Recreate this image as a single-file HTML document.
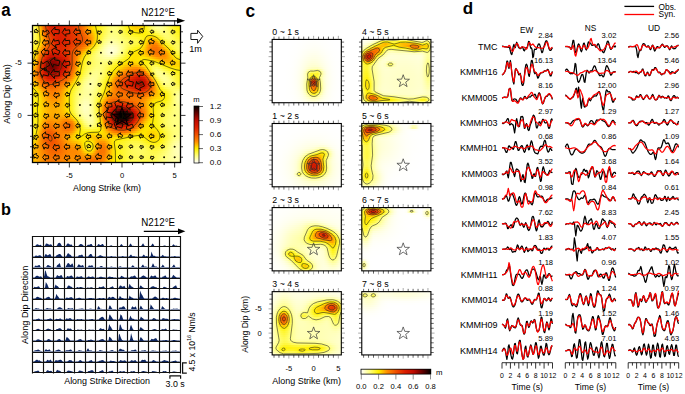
<!DOCTYPE html><html><head><meta charset="utf-8"><style>
html,body{margin:0;padding:0;background:#fff;width:685px;height:394px;overflow:hidden}
#r{position:relative;width:685px;height:394px;overflow:hidden}
#r i{position:absolute;display:block}
svg{position:absolute;left:0;top:0}
text{font-family:"Liberation Sans", sans-serif}
</style></head><body><div id="r">
<i style="left:32px;top:25px;width:149px;height:2px;background:linear-gradient(90deg,#ffff8c,#fff848,#ffbd00,#f46100,#e33000,#db1d00,#db1d00,#de2300,#e02900,#e33000,#e73900,#ec4700,#f45f00,#fc8000,#ffb100,#ffdb00,#fff107,#fff424,#fff848,#fffd6c,#ffff7f,#fffe77,#fffb5b,#fff630,#fff000,#ffd300,#ffc700,#ffd100,#fff003,#fff843,#ffff7f,#ffff9c,#ff9,#ffff7f,#fffa58,#fff52f,#fff20f,#fff002)"></i><i style="left:32px;top:27px;width:149px;height:2px;background:linear-gradient(90deg,#ffff8b,#fff949,#ffc000,#f56300,#e43200,#dc1e00,#db1e00,#de2200,#e02800,#e32f00,#e73900,#ec4600,#f35d00,#fc7e00,#ffad00,#ffd800,#fff105,#fff424,#fff949,#fffd6c,#ffff7f,#fffe77,#fffb5c,#fff632,#fff004,#ffd700,#fc0,#ffd400,#fff004,#fff840,#fffe79,#ffff97,#ffff97,#ffff80,#fffb5b,#fff631,#fff210,#fff003)"></i><i style="left:32px;top:29px;width:149px;height:2px;background:linear-gradient(90deg,#ffff89,#fff94b,#ffc500,#f66900,#e63700,#dd2100,#db1e00,#dd2100,#e02700,#e22e00,#e63700,#eb4400,#f25900,#fa7800,#ffa200,#ffcf00,#fff000,#fff424,#fff94c,#fffd6f,#ffff80,#fffe78,#fffb5e,#fff738,#fff20f,#ffe200,#ffd700,#fd0,#fff106,#fff636,#fffc66,#ffff85,#ffff8e,#ffff80,#fffb5f,#fff637,#fff315,#fff108)"></i><i style="left:32px;top:31px;width:149px;height:2px;background:linear-gradient(90deg,#ffff86,#fff94c,#ffcd00,#f87200,#e93e00,#df2600,#dc1e00,#dc1f00,#df2500,#e22d00,#e53600,#ea4100,#f15300,#f87100,#ff9400,#ffc400,#ffeb00,#fff426,#fff951,#fffd73,#ffff82,#fffe7a,#fffb62,#fff840,#fff31e,#fff002,#ffe800,#ffe900,#fff109,#fff426,#fff849,#fffc69,#ffff7e,#ffff7e,#fffc65,#fff73f,#fff31d,#fff20e)"></i><i style="left:32px;top:33px;width:149px;height:2px;background:linear-gradient(90deg,#ffff82,#fff94e,#ffd600,#fb7b00,#ec4700,#e12b00,#dc1f00,#dc1e00,#de2300,#e12b00,#e53400,#e93f00,#ef4e00,#f66800,#fe8700,#ffb800,#ffe700,#fff52a,#fffa58,#fffe78,#ffff86,#ffff7e,#fffc67,#fff94b,#fff62f,#fff319,#fff20d,#fff109,#fff10b,#fff212,#fff424,#fff845,#fffc69,#fffe7a,#fffc6a,#fff848,#fff527,#fff317)"></i><i style="left:32px;top:35px;width:149px;height:2px;background:linear-gradient(90deg,#ffff7c,#fff94e,#ffde00,#fd8400,#f04f00,#e33100,#dd2000,#db1d00,#dd2100,#e12a00,#e43300,#e83c00,#ee4a00,#f46100,#fc7f00,#ffad00,#ffe300,#fff52f,#fffb60,#ffff80,#ffff8b,#ffff83,#fffd6e,#fffa56,#fff841,#fff630,#fff424,#fff31a,#fff10b,#ffec00,#ffed00,#fff31d,#fff94f,#fffd71,#fffd6d,#fff951,#fff631,#fff422)"></i><i style="left:32px;top:37px;width:149px;height:2px;background:linear-gradient(90deg,#fffe75,#fff94c,#ffe400,#ff8c00,#f25800,#e53600,#dd2100,#da1d00,#dd2000,#e12a00,#e43300,#e83b00,#ed4800,#f35c00,#fa7900,#ffa600,#ffe300,#fff636,#fffc6a,#ffff89,#ffff93,#ffff89,#fffe76,#fffb61,#fff950,#fff843,#fff738,#fff528,#fff109,#ffd900,#fc0,#ffe500,#fff631,#fffc63,#fffd6c,#fffa58,#fff73c,#fff52d)"></i><i style="left:32px;top:39px;width:149px;height:2px;background:linear-gradient(90deg,#fffd6d,#fff848,#ffe700,#ff9400,#f45f00,#e73a00,#de2300,#da1d00,#dd2000,#e12a00,#e53300,#e83c00,#ed4800,#f35b00,#fa7700,#ffa500,#ffe600,#fff740,#fffe76,#ffff95,#ffff9c,#ffff92,#ffff7e,#fffd6b,#fffb5c,#fff951,#fff846,#fff630,#fff004,#ffc600,#ffac00,#ffc300,#fff20f,#fff94f,#fffc65,#fffb5b,#fff846,#fff73a)"></i><i style="left:32px;top:41px;width:149px;height:2px;background:linear-gradient(90deg,#fffc63,#fff841,#ffe500,#ff9600,#f46200,#e83c00,#df2500,#db1d00,#dd2100,#e22c00,#e63600,#e93f00,#ee4b00,#f45f00,#fb7b00,#ffac00,#ffef00,#fff94c,#ffff84,#ffffa1,#ffffa8,#ffff9c,#ffff87,#fffd73,#fffc62,#fffa56,#fff949,#fff630,#ffec00,#ffb300,#ff9000,#ffa400,#ffdf00,#fff634,#fffa57,#fffb5a,#fff94f,#fff846)"></i><i style="left:32px;top:43px;width:149px;height:2px;background:linear-gradient(90deg,#fffa58,#fff636,#ffde00,#ff9000,#f45f00,#e83c00,#e02700,#dc1f00,#de2400,#e32f00,#e73a00,#eb4500,#f15200,#f66800,#fd8500,#ffbc00,#fff210,#fffb5b,#ffff92,#ffffb0,#ffffb6,#ffffa9,#ffff91,#fffe77,#fffb60,#fff94f,#fff841,#fff527,#ffe200,#ffa300,#fc8100,#fe8900,#ffc100,#fff212,#fff841,#fffa54,#fffa56,#fffa52)"></i><i style="left:32px;top:45px;width:149px;height:2px;background:linear-gradient(90deg,#fff94d,#fff529,#ffd100,#fe8600,#f25900,#e73a00,#e02800,#de2300,#e02800,#e53300,#e94000,#ef4d00,#f45f00,#fa7700,#ff9a00,#ffd300,#fff527,#fffd6c,#ffffa0,#ffffbe,#ffffc5,#ffffb6,#ff9,#fffe78,#fffa58,#fff840,#fff630,#fff317,#ffd600,#ff9700,#fa7700,#fb7c00,#ffa400,#ffe000,#fff425,#fff848,#fffa59,#fffb5c)"></i><i style="left:32px;top:47px;width:149px;height:2px;background:linear-gradient(90deg,#fff842,#fff319,#ffc000,#fb7a00,#ef4e00,#e53500,#e02800,#df2600,#e22c00,#e63800,#ec4600,#f25700,#f76e00,#fe8900,#ffb900,#fe0,#fff840,#ffff7c,#ffffac,#ffffca,#ffffd1,#ffffc0,#ffff9e,#fffe74,#fff94b,#fff52c,#fff31a,#fff004,#ffcb00,#ff8f00,#f97300,#f97300,#ff8b00,#ffc200,#fff106,#fff738,#fffa58,#fffb62)"></i><i style="left:32px;top:49px;width:149px;height:2px;background:linear-gradient(90deg,#fff636,#fff109,#ffad00,#f76c00,#ea4200,#e22c00,#df2500,#df2600,#e22e00,#e73b00,#ee4b00,#f56200,#fb7d00,#ffa500,#ffd800,#fff41f,#fffa58,#ffff8a,#ffffb5,#ffffd1,#ffffd7,#ffffc4,#ffff9e,#fffd6d,#fff73c,#fff317,#fff105,#ffe500,#ffc300,#ff8e00,#f97300,#f86e00,#fc8000,#ffa800,#fd0,#fff426,#fffa52,#fffb62)"></i><i style="left:32px;top:51px;width:149px;height:2px;background:linear-gradient(90deg,#fff52c,#ffeb00,#ff9800,#f35b00,#e43300,#dd2100,#dc1e00,#de2300,#e22d00,#e83c00,#f05000,#f76d00,#ff8d00,#ffc200,#fff105,#fff73d,#fffd6b,#ffff94,#ffffb8,#ffffd2,#ffffd6,#ffffc0,#ffff97,#fffc62,#fff52d,#fff105,#ffe700,#ffdc00,#ffc200,#ff9500,#fa7900,#f87000,#fb7a00,#ff9500,#ffc900,#fff212,#fff846,#fffb5a)"></i><i style="left:32px;top:53px;width:149px;height:2px;background:linear-gradient(90deg,#fff424,#ffdf00,#fe8700,#ee4a00,#de2200,#d41900,#d51900,#db1d00,#e02800,#e73a00,#f15300,#f97500,#ffa200,#ffd900,#fff420,#fff951,#fffe77,#ffff97,#ffffb5,#ffffc9,#ffffca,#ffffb2,#ff8,#fffa53,#fff41e,#ffeb00,#ffe100,#ffdb00,#ffc900,#ffa500,#fd8500,#fa7900,#fb7c00,#ff8c00,#ffba00,#fe0,#fff634,#fff949)"></i><i style="left:32px;top:55px;width:149px;height:2px;background:linear-gradient(90deg,#fff31c,#ffd400,#fb7a00,#e73b00,#d31800,#ca1200,#cc1300,#d41800,#dd2000,#e53500,#f15300,#fb7c00,#ffb400,#ffeb00,#fff632,#fffb5c,#fffe7c,#ffff95,#ffffab,#ffffb9,#ffffb5,#ffff9b,#fffd71,#fff740,#fff212,#ffe600,#ffe100,#ffe100,#ffd600,#ffbc00,#ff9d00,#fe8800,#fd8400,#ff8d00,#ffb100,#ffdf00,#fff31c,#fff630)"></i><i style="left:32px;top:57px;width:149px;height:2px;background:linear-gradient(90deg,#fff215,#ffca00,#f86f00,#e22c00,#c91100,#bf0a00,#c20d00,#cb1300,#d71b00,#e33000,#f15300,#fc8200,#ffc100,#fff10a,#fff73c,#fffb61,#fffe7b,#ffff8f,#ffff9e,#ffffa3,#ff9,#ffff7d,#fffa55,#fff52a,#fff105,#ffe300,#ffe200,#ffe800,#ffe600,#ffd600,#ffbf00,#ffa600,#ff9600,#ff9700,#ffaf00,#ffd300,#fff003,#fff215)"></i><i style="left:32px;top:59px;width:149px;height:2px;background:linear-gradient(90deg,#fff20d,#ffc000,#f56400,#dc1f00,#bf0a00,#a10700,#ad0800,#c30e00,#d11700,#e12b00,#f15300,#fd8600,#fc0,#fff315,#fff842,#fffb62,#fffe79,#ff8,#ffff8f,#ffff8c,#fffe7b,#fffb5c,#fff637,#fff214,#ffe900,#ffdf00,#ffe200,#ffec00,#fff004,#fff000,#ffe200,#ffcb00,#ffb300,#ffa800,#ffb300,#ffca00,#ffe200,#ffec00)"></i><i style="left:32px;top:61px;width:149px;height:2px;background:linear-gradient(90deg,#fff004,#ffb500,#f35a00,#d61a00,#a70700,#870400,#950500,#ba0a00,#cd1400,#e02700,#f15300,#fe8a00,#ffd500,#fff41e,#fff846,#fffb62,#fffe77,#ffff82,#ffff82,#fffe75,#fffb5d,#fff73d,#fff31b,#ffed00,#fd0,#ffd600,#ffdc00,#ffea00,#fff10c,#fff319,#fff318,#ffef00,#ffd300,#ffbe00,#ffbd00,#ffc800,#ffd600,#fd0)"></i><i style="left:32px;top:63px;width:149px;height:2px;background:linear-gradient(90deg,#ffea00,#ffab00,#f15200,#d11600,#960600,#760200,#860400,#ae0800,#ca1200,#df2600,#f15400,#ff8d00,#ffdb00,#fff425,#fff94a,#fffc64,#fffe77,#ffff7f,#fffe77,#fffb61,#fff843,#fff422,#fff001,#ffdc00,#ffcd00,#ffc700,#fc0,#ffdc00,#fff105,#fff528,#fff73a,#fff52b,#fff105,#ffd800,#fc0,#ffcd00,#ffd300,#ffd700)"></i><i style="left:32px;top:65px;width:149px;height:2px;background:linear-gradient(90deg,#ffdf00,#ffa000,#ef4c00,#ce1400,#8e0500,#6f0100,#810300,#ac0800,#cb1300,#e02800,#f25700,#ff9300,#ffe100,#fff52b,#fff94f,#fffc69,#fffe7b,#ffff7f,#fffd6f,#fffa52,#fff52f,#fff10c,#ffe100,#ffca00,#ffb900,#ffb000,#ffb100,#ffc000,#ffe200,#fff528,#fffa52,#fffa51,#fff52e,#fff105,#ffe100,#ffd900,#ffd800,#ffd900)"></i><i style="left:32px;top:67px;width:149px;height:2px;background:linear-gradient(90deg,#ffd300,#ff9600,#ed4900,#cd1400,#8f0500,#720200,#860400,#b40900,#ce1400,#e22d00,#f35d00,#ff9a00,#ffe600,#fff631,#fffa57,#fffd70,#ffff81,#ffff81,#fffc6b,#fff846,#fff31e,#ffeb00,#ffd100,#ffb800,#ffa200,#ff9200,#ff8d00,#ff9a00,#ffc500,#fff31a,#fffb5f,#fffd6f,#fffa53,#fff529,#fff10a,#ffea00,#ffe300,#ffe200)"></i><i style="left:32px;top:69px;width:149px;height:2px;background:linear-gradient(90deg,#ffc900,#ff8e00,#ed4800,#ce1500,#970600,#7f0300,#950500,#c00b00,#d31800,#e53500,#f56400,#ffa200,#ffec00,#fff739,#fffb5f,#fffe79,#ffff87,#ffff83,#fffc67,#fff73c,#fff20f,#fd0,#ffc100,#ffa400,#fe8900,#fb7b00,#f97300,#fa7900,#ff9e00,#ffef00,#fffb5e,#ffff83,#fffd72,#fff94b,#fff529,#fff210,#fff001,#fe0)"></i><i style="left:32px;top:71px;width:149px;height:2px;background:linear-gradient(90deg,#ffc000,#ff8a00,#ed4900,#d11700,#a80800,#940500,#ac0800,#c71000,#da1d00,#e93f00,#f76d00,#ffac00,#fff003,#fff842,#fffc6a,#ffff83,#ffff8d,#ffff84,#fffc62,#fff632,#fff000,#ffce00,#ffad00,#ff8c00,#fa7700,#f56400,#f25600,#f25a00,#fb7a00,#ffd000,#fff94f,#ffff8a,#ff8,#fffc69,#fff847,#fff529,#fff214,#fff10c)"></i><i style="left:32px;top:73px;width:149px;height:2px;background:linear-gradient(90deg,#fb0,#fe8a00,#ef4d00,#d71b00,#bf0b00,#b10900,#c20d00,#d11700,#e02900,#ee4b00,#fa7800,#ffb800,#fff20e,#fff94d,#fffe75,#ffff8c,#ffff92,#ffff82,#fffb5c,#fff527,#ffe300,#fb0,#ff9400,#fa7a00,#f56200,#ee4c00,#e83c00,#e83c00,#f35a00,#ffa700,#fff631,#ffff83,#ffff95,#ffff81,#fffb60,#fff73e,#fff423,#fff318)"></i><i style="left:32px;top:75px;width:149px;height:2px;background:linear-gradient(90deg,#fb0,#ff8c00,#f15500,#de2200,#ca1200,#c50f00,#ce1500,#dc1e00,#e73900,#f25900,#fd8400,#ffc700,#fff31d,#fffb5a,#ffff82,#ffff95,#ffff94,#ffff7d,#fffa53,#fff31a,#ffd400,#ffa400,#fc7f00,#f56500,#ef4d00,#e63800,#df2400,#dd2000,#e83c00,#fc7f00,#fff105,#fffd6f,#ffff96,#ffff92,#fffe74,#fff94e,#fff52d,#fff41f)"></i><i style="left:32px;top:77px;width:149px;height:2px;background:linear-gradient(90deg,#ffbe00,#ff9500,#f46000,#e43200,#d61a00,#d31800,#db1d00,#e43200,#ee4a00,#f76a00,#ff9400,#ffd700,#fff52e,#fffc69,#ffff8e,#ffff9c,#ffff93,#fffe76,#fff847,#fff10c,#ffc400,#ff8c00,#f76b00,#f05000,#e83b00,#df2500,#d31800,#ce1500,#dd2100,#f46000,#fc0,#fff950,#ffff8e,#ffff9a,#ffff82,#fffa5a,#fff633,#fff422)"></i><i style="left:32px;top:79px;width:149px;height:2px;background:linear-gradient(90deg,#ffc400,#ffa000,#f76d00,#ea4200,#e02800,#df2500,#e43200,#ec4500,#f35d00,#fb7b00,#fa0,#ffe800,#fff73f,#fffe77,#ff9,#ffffa2,#ffff91,#fffd6d,#fff73b,#fe0,#ffb400,#fc7e00,#f35a00,#ea4000,#e22c00,#d81b00,#c91100,#c20d00,#d01600,#ec4700,#ffa400,#fff52d,#ffff7f,#ffff9a,#ffff8a,#fffb61,#fff738,#fff425)"></i><i style="left:32px;top:81px;width:149px;height:2px;background:linear-gradient(90deg,#ffcd00,#ffad00,#fb7b00,#f15300,#e83d00,#e73a00,#ec4600,#f25900,#f87000,#ff8b00,#ffc000,#fff10c,#fff94f,#ffff84,#ffffa2,#ffffa5,#ffff8d,#fffc64,#fff62f,#ffe300,#ffa700,#f97400,#ef4e00,#e53600,#de2300,#d31800,#c30d00,#b40900,#c71000,#e53500,#fd8500,#fff109,#fffc69,#ffff93,#ffff8b,#fffc66,#fff73e,#fff52a)"></i><i style="left:32px;top:83px;width:149px;height:2px;background:linear-gradient(90deg,#ffd800,#ffbc00,#fe8900,#f56600,#f04f00,#ef4d00,#f25900,#f76c00,#fc8100,#ffa300,#ffd400,#fff420,#fffb5e,#ffff8e,#ffffa7,#ffffa6,#ffff89,#fffb5b,#fff424,#ffd900,#ff9d00,#f76e00,#ed4900,#e43200,#dd2100,#d21700,#c30d00,#b20900,#c50e00,#e22d00,#fa7700,#ffde00,#fff950,#ffff83,#ffff85,#fffc68,#fff846,#fff634)"></i><i style="left:32px;top:85px;width:149px;height:2px;background:linear-gradient(90deg,#ffe300,#ffcb00,#ff9b00,#f97600,#f46100,#f35e00,#f66800,#fa7a00,#ff9000,#ffb800,#ffe600,#fff631,#fffc69,#ffff93,#ffffa9,#ffffa3,#ffff84,#fffa54,#fff31b,#ffd100,#ff9700,#f76d00,#ef4c00,#e63700,#e02800,#d71b00,#c91100,#c10c00,#ca1200,#e33000,#f97200,#fc0,#fff634,#fffd6c,#fffe78,#fffc69,#fffa53,#fff846)"></i><i style="left:32px;top:87px;width:149px;height:2px;background:linear-gradient(90deg,#ffef00,#ffd900,#ffad00,#fd8300,#f86f00,#f76b00,#f97300,#fd8300,#ffa000,#ffc800,#fff106,#fff740,#fffd72,#ffff96,#ffffa7,#ffff9f,#ffff7f,#fff94e,#fff212,#ffca00,#ff9400,#f87100,#f15600,#eb4300,#e53500,#df2500,#d41900,#cd1400,#d51a00,#e83c00,#f97500,#ffc100,#fff319,#fff94f,#fffc67,#fffc69,#fffc62,#fffb5c)"></i><i style="left:32px;top:89px;width:149px;height:2px;background:linear-gradient(90deg,#fff20d,#ffe600,#ffbd00,#ff9000,#fb7a00,#f97400,#fb7b00,#fe8a00,#ffac00,#ffd500,#fff316,#fff94c,#fffe79,#ffff97,#ffffa3,#ff9,#fffe79,#fff847,#fff109,#ffc200,#ff9200,#fa7700,#f56300,#f15300,#ec4600,#e63800,#e02800,#dd2000,#e22c00,#ef4d00,#fb7e00,#fb0,#fff001,#fff633,#fffa54,#fffc69,#fffd73,#fffe75)"></i><i style="left:32px;top:91px;width:149px;height:2px;background:linear-gradient(90deg,#fff319,#fff001,#ffca00,#ff9e00,#fd8300,#fb7b00,#fc8000,#ff9000,#ffb400,#ffdf00,#fff422,#fffa55,#ffff7f,#ffff98,#ffffa0,#ffff94,#fffd73,#fff740,#fe0,#ffb900,#ff8e00,#fb7c00,#f87000,#f56500,#f25800,#ee4c00,#ea4100,#e83c00,#ec4700,#f56500,#fe8a00,#ffbc00,#ffe200,#fff319,#fff843,#fffc68,#ffff82,#ffff8b)"></i><i style="left:32px;top:93px;width:149px;height:2px;background:linear-gradient(90deg,#fff422,#fff10b,#ffd400,#fa0,#fe8a00,#fc8100,#fd8400,#ff9600,#ffba00,#ffe500,#fff52b,#fffb5d,#ffff84,#ffff9a,#ffff9f,#ffff8f,#fffd6b,#fff635,#ffe400,#ffae00,#fe8900,#fb7e00,#fa7800,#f97200,#f66900,#f46000,#f25800,#f25700,#f56300,#fb7c00,#ff9e00,#ffc000,#ffda00,#fff107,#fff636,#fffc68,#ffff8e,#ffff9d)"></i><i style="left:32px;top:95px;width:149px;height:2px;background:linear-gradient(90deg,#fff426,#fff211,#ffda00,#ffb200,#ff9200,#fe8700,#fe8900,#ff9c00,#ffbe00,#ffe900,#fff62f,#fffb62,#ffff89,#ffff9f,#ffffa0,#ffff8c,#fffc63,#fff527,#ffd600,#ff9f00,#fc8200,#fa7a00,#fa7900,#fa7800,#f97300,#f86f00,#f76c00,#f86e00,#fb7a00,#ff9000,#ffb300,#ffc900,#ffd900,#ffef00,#fff630,#fffc68,#ffff95,#ffffa7)"></i><i style="left:32px;top:97px;width:149px;height:2px;background:linear-gradient(90deg,#fff527,#fff212,#ffde00,#ffb800,#ff9a00,#ff8c00,#ff8f00,#ffa200,#ffc200,#ffea00,#fff630,#fffc65,#ffff8f,#ffffa5,#ffffa5,#ffff8b,#fffb5a,#fff316,#ffc500,#ff8d00,#fa7700,#f87000,#f87100,#f97400,#f97500,#f97600,#fa7800,#fb7d00,#fe8a00,#ffa700,#ffc400,#ffd500,#ffde00,#fff001,#fff630,#fffc69,#ffff97,#ffa)"></i><i style="left:32px;top:99px;width:149px;height:2px;background:linear-gradient(90deg,#fff424,#fff211,#ffdf00,#ffbc00,#ffa000,#ff9400,#ff9700,#ffa800,#ffc400,#ffea00,#fff630,#fffc68,#ffff94,#ffffad,#ffffab,#ffff8c,#fffa51,#fff105,#ffb300,#fc8000,#f66800,#f45f00,#f46000,#f66600,#f76e00,#f97500,#fb7c00,#fd8400,#ff9700,#ffb700,#ffd300,#ffe100,#ffe800,#fff10a,#fff635,#fffc6a,#ffff96,#ffffa8)"></i><i style="left:32px;top:101px;width:149px;height:2px;background:linear-gradient(90deg,#fff41f,#fff20e,#ffdf00,#ffbf00,#ffa600,#ff9b00,#ff9e00,#ffad00,#ffc600,#ffe900,#fff52f,#fffc69,#ffff9a,#ffffb4,#ffffb2,#ffff8d,#fff94a,#ffe700,#ffa000,#f87100,#f15600,#ed4900,#ed4800,#f04f00,#f35e00,#f76c00,#fa7900,#fd8500,#ff9d00,#ffc000,#ffdf00,#fe0,#fff106,#fff317,#fff73d,#fffd6b,#ffff93,#ffffa2)"></i><i style="left:32px;top:103px;width:149px;height:2px;background:linear-gradient(90deg,#fff31a,#fff10a,#ffde00,#ffc100,#ffab00,#ffa100,#ffa500,#ffb200,#ffc700,#ffe800,#fff52e,#fffd6b,#ffff9e,#ffffba,#ffffb7,#ffff8f,#fff844,#ffdc00,#ff8e00,#f46100,#ea4200,#e43100,#e22c00,#e53500,#ec4600,#f35b00,#f86f00,#fc8100,#ff9d00,#ffc400,#ffe600,#fff10b,#fff316,#fff426,#fff846,#fffd6d,#ffff8e,#ffff9b)"></i><i style="left:32px;top:105px;width:149px;height:2px;background:linear-gradient(90deg,#fff316,#fff107,#ffde00,#ffc300,#ffae00,#ffa600,#fa0,#ffb500,#ffc900,#ffe800,#fff52e,#fffd6d,#ffffa2,#ffffbe,#ffb,#ffff90,#fff842,#ffd400,#fd8300,#f05000,#e22c00,#d61a00,#d01600,#d51900,#e02800,#eb4400,#f45e00,#fa7800,#ff9800,#ffc500,#ffeb00,#fff215,#fff423,#fff634,#fff94f,#fffd70,#ffff8a,#ffff95)"></i><i style="left:32px;top:107px;width:149px;height:2px;background:linear-gradient(90deg,#fff214,#fff106,#ffde00,#ffc500,#ffb200,#fa0,#ffad00,#ffb700,#ffca00,#ffe800,#fff62f,#fffd6f,#ffffa4,#ffffc0,#ffb,#ffff91,#fff842,#ffd000,#fb7b00,#ea4200,#d61a00,#c20d00,#ad0800,#bb0a00,#cd1400,#e02900,#ee4a00,#f76d00,#ff9000,#ffc300,#ffec00,#fff31a,#fff52d,#fff73f,#fffa57,#fffd72,#ffff87,#ffff90)"></i><i style="left:32px;top:109px;width:149px;height:2px;background:linear-gradient(90deg,#fff213,#fff105,#ffdf00,#ffc600,#ffb300,#ffac00,#ffae00,#ffb800,#ffc900,#ffe700,#fff52d,#fffd6e,#ffffa3,#ffffbe,#ffffba,#ffff92,#fff845,#ffd000,#f97500,#e53500,#c91100,#900500,#680000,#730200,#ab0800,#d11700,#e63700,#f46100,#ff8a00,#ffc100,#ffeb00,#fff31c,#fff634,#fff847,#fffb5e,#fffe75,#ffff85,#ffff8c)"></i><i style="left:32px;top:111px;width:149px;height:2px;background:linear-gradient(90deg,#fff214,#fff106,#ffdf00,#ffc600,#ffb300,#ffac00,#ffae00,#ffb600,#ffc600,#ffe100,#fff425,#fffc67,#ffff9e,#ffffba,#ffffb8,#ffff93,#fff94a,#ffd200,#f87100,#e12a00,#bc0a00,#5e0000,#250000,#2f0000,#720200,#c20d00,#e02700,#f25800,#fe8700,#ffbf00,#ffe900,#fff31d,#fff738,#fff94f,#fffc64,#fffe77,#ffff84,#ffff89)"></i><i style="left:32px;top:113px;width:149px;height:2px;background:linear-gradient(90deg,#fff317,#fff107,#ffde00,#ffc400,#ffb000,#fa0,#ffac00,#ffb300,#ffbe00,#ffd500,#fff215,#fffa59,#ffff93,#ffffb4,#ffffb5,#ffff95,#fff950,#ffd700,#f86f00,#de2400,#a40700,#380000,#000,#000,#460000,#aa0800,#db1d00,#f15300,#fe8700,#ffbf00,#ffe700,#fff31c,#fff73b,#fffa54,#fffc69,#fffe79,#ffff83,#ffff86)"></i><i style="left:32px;top:115px;width:149px;height:2px;background:linear-gradient(90deg,#fff31c,#fff10a,#fd0,#ffbf00,#ffab00,#ffa600,#fa0,#ffad00,#ffb000,#ffc100,#ffea00,#fff841,#ffff82,#ffa,#ffffb2,#ffff98,#fffa57,#fd0,#f87100,#de2300,#9e0600,#2b0000,#000,#000,#300,#9e0600,#d91c00,#f15500,#ff8b00,#ffc300,#ffe800,#fff31b,#fff73d,#fffa59,#fffd6e,#fffe7b,#ffff83,#ffff85)"></i><i style="left:32px;top:117px;width:149px;height:2px;background:linear-gradient(90deg,#fff423,#fff20e,#ffda00,#ffb800,#ffa200,#ff9f00,#ffa600,#ffa500,#ff9d00,#ffa400,#ffcb00,#fff41f,#fffd6b,#ffff9e,#ffffb0,#ffff9c,#fffb5e,#ffe400,#fa7700,#e02800,#a90800,#390000,#000,#000,#400000,#a90800,#dd2000,#f35e00,#ff9700,#ffcb00,#ffea00,#fff31c,#fff73f,#fffb5d,#fffd71,#ffff7d,#ffff83,#ffff83)"></i><i style="left:32px;top:119px;width:149px;height:2px;background:linear-gradient(90deg,#fff52b,#fff211,#ffd700,#ffaf00,#ff9600,#ff9700,#ffa000,#ff9b00,#fe8a00,#fe8700,#ffa800,#ffea00,#fff950,#ffff8f,#ffffab,#ffff9e,#fffc63,#ffeb00,#fc7e00,#e43200,#c00b00,#5e0000,#1e0000,#200,#600,#c10c00,#e32e00,#f76c00,#ffa900,#ffd500,#ffed00,#fff31c,#fff740,#fffb5f,#fffe73,#ffff7e,#ffff83,#ffff83)"></i><i style="left:32px;top:121px;width:149px;height:2px;background:linear-gradient(90deg,#fff633,#fff214,#ffd200,#ffa300,#fe8a00,#ff8d00,#ff9a00,#ff9200,#fc7e00,#f97600,#fe8a00,#ffce00,#fff636,#ffff7e,#ffffa2,#ffff9a,#fffc64,#fff001,#fe8800,#ea4000,#cc1300,#8f0500,#5b0000,#600000,#980600,#cf1500,#ea4100,#fb7e00,#ffbd00,#ffdf00,#fff000,#fff31b,#fff73f,#fffb5f,#fffe74,#ffff7f,#ffff82,#ffff82)"></i><i style="left:32px;top:123px;width:149px;height:2px;background:linear-gradient(90deg,#fff73a,#fff316,#fc0,#ff9700,#fc8100,#fd8500,#ff9200,#ff8b00,#f97500,#f66900,#fb7b00,#ffb800,#fff41e,#fffc6a,#ffff92,#ffff8f,#fffb5f,#fff107,#ff9600,#f05100,#db1d00,#c10c00,#9e0600,#a30700,#c50f00,#de2400,#f25800,#ff9200,#ffcf00,#ffe600,#fff000,#fff317,#fff73b,#fffb5d,#fffd73,#ffff7e,#ffff82,#ffff82)"></i><i style="left:32px;top:125px;width:149px;height:2px;background:linear-gradient(90deg,#fff73e,#fff316,#ffc500,#ff8a00,#fa7700,#fb7d00,#ff8a00,#fe8700,#f87100,#f56300,#f97500,#ffad00,#fff20d,#fffa54,#fffe79,#fffe79,#fffa53,#fff10a,#ffa800,#f56600,#e63600,#d61a00,#cb1200,#cd1400,#db1d00,#ea4100,#f87200,#ffad00,#ffdc00,#ffea00,#ffed00,#fff210,#fff634,#fffa58,#fffd70,#ffff7c,#ffff81,#ffff82)"></i><i style="left:32px;top:127px;width:149px;height:2px;background:linear-gradient(90deg,#fff73f,#fff213,#ffbd00,#fc8200,#f76d00,#f97400,#fd8400,#fd8500,#f97300,#f66800,#fa7900,#ffaf00,#fff105,#fff73d,#fffa57,#fffa57,#fff73e,#fff109,#ffb900,#fb7b00,#f05100,#e53600,#e02800,#e12b00,#e93f00,#f45f00,#fe8800,#ffc200,#ffe300,#ffe800,#ffe600,#fff106,#fff52a,#fff94f,#fffc6a,#fffe79,#ffff80,#ffff81)"></i><i style="left:32px;top:129px;width:149px;height:2px;background:linear-gradient(90deg,#fff73c,#fff20d,#ffb400,#fa7a00,#f56300,#f76b00,#fb7e00,#fd8400,#fa7900,#f97300,#fd8500,#fb0,#fff002,#fff426,#fff631,#fff52f,#fff422,#fff003,#ffc700,#ff9000,#f86f00,#f25700,#ee4c00,#f04f00,#f56200,#fc7e00,#ffa800,#ffd200,#ffe500,#ffe200,#ffde00,#ffea00,#fff31d,#fff845,#fffc63,#fffe76,#ffff80,#ffff82)"></i><i style="left:32px;top:131px;width:149px;height:2px;background:linear-gradient(90deg,#fff637,#fff105,#ffab00,#f97300,#f35a00,#f46200,#fa7700,#fd8400,#fc8100,#fc8200,#ff9a00,#ffcb00,#fff003,#fff211,#fff10c,#fff107,#fff105,#ffeb00,#ffd100,#ffad00,#fe8a00,#fa7a00,#f97200,#fa7700,#fd8500,#ffa300,#ffc500,#ffde00,#ffe500,#ffdc00,#ffd500,#ffe100,#fff212,#fff73b,#fffb5c,#fffe73,#ffff80,#ffff83)"></i><i style="left:32px;top:133px;width:149px;height:2px;background:linear-gradient(90deg,#fff52d,#ffed00,#ffa300,#f76d00,#f15400,#f35a00,#f87100,#fd8300,#fe8900,#ff9300,#ffb200,#ffda00,#fff004,#fff001,#ffe200,#ffdb00,#ffde00,#ffe000,#ffd500,#ffc200,#ffae00,#ff9f00,#ff9a00,#ffa100,#ffb400,#ffcb00,#ffde00,#ffe900,#ffe600,#ffd800,#ffcf00,#ffda00,#fff109,#fff633,#fffa57,#fffd72,#ffff82,#ffff87)"></i><i style="left:32px;top:135px;width:149px;height:2px;background:linear-gradient(90deg,#fff421,#ffe400,#ff9c00,#f66a00,#f05000,#f15500,#f76b00,#fc8100,#ff9000,#ffa600,#ffc400,#ffe200,#fff001,#ffe800,#ffd600,#fc0,#fc0,#ffd100,#ffd200,#ffcf00,#ffcb00,#ffc700,#ffc700,#ffcf00,#fd0,#ffec00,#fff106,#fff106,#ffea00,#ffd800,#ffce00,#ffd800,#fff004,#fff52f,#fffa55,#fffe73,#ffff87,#ffff8d)"></i><i style="left:32px;top:137px;width:149px;height:2px;background:linear-gradient(90deg,#fff212,#ffdb00,#ff9700,#f66900,#f04f00,#f05200,#f56600,#fb7d00,#ff9200,#ffae00,#ffc900,#ffe000,#ffeb00,#ffe600,#ffd900,#ffca00,#ffc100,#ffbe00,#ffc600,#ffd200,#ffdc00,#ffe200,#ffe700,#fff000,#fff20f,#fff31b,#fff41e,#fff316,#fff003,#ffdf00,#ffd400,#ffdc00,#fff106,#fff630,#fffa57,#fffe78,#ffff8e,#ffff95)"></i><i style="left:32px;top:139px;width:149px;height:2px;background:linear-gradient(90deg,#fff001,#ffd200,#ff9400,#f76a00,#f05100,#f05100,#f46200,#fa7800,#ff8d00,#ffab00,#ffc300,#ffd400,#ffe100,#ffe800,#ffe600,#ffd400,#ffba00,#fa0,#ffb300,#fc0,#ffe400,#fff003,#fff20e,#fff31b,#fff529,#fff633,#fff633,#fff528,#fff214,#ffeb00,#ffdf00,#ffe500,#fff20e,#fff635,#fffb5d,#ffff7f,#ffff97,#ffff9f)"></i><i style="left:32px;top:141px;width:149px;height:2px;background:linear-gradient(90deg,#ffe400,#ffc800,#ff9300,#f76d00,#f15600,#f15200,#f45f00,#f97300,#fe8800,#ffa300,#ffb600,#ffc300,#ffd400,#ffec00,#fff10a,#ffe300,#ffb700,#ff9500,#ff9d00,#ffc000,#ffe500,#fff20d,#fff31d,#fff52b,#fff739,#fff843,#fff844,#fff73b,#fff527,#fff20e,#fe0,#fff002,#fff31a,#fff73e,#fffc65,#ff8,#ffffa1,#ffa)"></i><i style="left:32px;top:143px;width:149px;height:2px;background:linear-gradient(90deg,#ffd700,#ffc000,#ff9200,#f87100,#f35b00,#f15500,#f35d00,#f76e00,#fd8200,#ff9700,#ffa600,#ffaf00,#ffc700,#ffef00,#fff420,#fff003,#ffb400,#fe8600,#fe8900,#ffb300,#ffe100,#fff210,#fff423,#fff633,#fff842,#fff94d,#fff951,#fff94b,#fff73a,#fff423,#fff212,#fff214,#fff528,#fff949,#fffd6e,#ffff91,#ffffab,#ffffb4)"></i><i style="left:32px;top:145px;width:149px;height:2px;background:linear-gradient(90deg,#ffcd00,#ffba00,#ff9200,#f97500,#f46100,#f25900,#f35d00,#f76b00,#fb7d00,#ff8c00,#ff9600,#ff9d00,#ffb900,#ffed00,#fff52c,#fff20d,#ffb000,#fb7d00,#fc7f00,#ffa700,#ffdc00,#fff20f,#fff424,#fff635,#fff846,#fffa54,#fffb5a,#fffa58,#fff94b,#fff636,#fff426,#fff426,#fff637,#fffa54,#fffe77,#ff9,#ffffb2,#ffb)"></i><i style="left:32px;top:147px;width:149px;height:2px;background:linear-gradient(90deg,#ffc500,#ffb500,#ff9400,#fa7900,#f66700,#f35e00,#f45f00,#f76a00,#fb7a00,#fe8800,#ff8c00,#ff9000,#ffad00,#ffe600,#fff527,#fff109,#ffa900,#fa7600,#fa7900,#ffa000,#ffd900,#fff10d,#fff424,#fff636,#fff848,#fffa57,#fffb60,#fffb60,#fffa56,#fff844,#fff636,#fff636,#fff845,#fffb5f,#ffff7f,#ffff9f,#ffffb7,#ffffc0)"></i><i style="left:32px;top:149px;width:149px;height:2px;background:linear-gradient(90deg,#ffc100,#ffb200,#ff9500,#fb7d00,#f76c00,#f56300,#f56300,#f76c00,#fa7a00,#fd8600,#fe8800,#ff8a00,#ffa200,#ffd700,#fff212,#ffe800,#ff9f00,#f97300,#fa7700,#ff9e00,#ffd600,#fff10b,#fff424,#fff637,#fff94a,#fffa59,#fffb62,#fffc64,#fffb5c,#fff94d,#fff842,#fff843,#fffa51,#fffc69,#ffff86,#ffffa3,#ffffb8,#ffffc0)"></i><i style="left:32px;top:151px;width:149px;height:2px;background:linear-gradient(90deg,#ffbe00,#ffb200,#ff9700,#fc8000,#f87000,#f66800,#f66700,#f86f00,#fb7b00,#fd8600,#fe8800,#fe8900,#ff9a00,#ffc500,#ffe400,#ffd000,#ff9200,#f97200,#fa7900,#ffa000,#ffd600,#fff10a,#fff423,#fff738,#fff94a,#fffa59,#fffb61,#fffc63,#fffb5d,#fffa52,#fff94b,#fff94e,#fffb5c,#fffd72,#ffff8c,#ffffa5,#ffffb7,#ffffbe)"></i><i style="left:32px;top:153px;width:149px;height:2px;background:linear-gradient(90deg,#ffbe00,#ffb200,#f90,#fc8200,#f97300,#f76c00,#f76c00,#f97400,#fc7e00,#fe8700,#fe8900,#fe8900,#ff9400,#ffb000,#ffc400,#ffb300,#fe8700,#f97400,#fb7d00,#ffa400,#ffd600,#fff109,#fff423,#fff738,#fff94a,#fffa58,#fffb5f,#fffb60,#fffb5b,#fffa54,#fff950,#fffa55,#fffc64,#fffe79,#ffff90,#ffffa5,#ffffb4,#ffffba)"></i><i style="left:32px;top:155px;width:149px;height:2px;background:linear-gradient(90deg,#ffbf00,#ffb300,#ff9a00,#fd8400,#fa7600,#f87000,#f87200,#fa7800,#fc8200,#fe8900,#ff8b00,#ff8b00,#ff8f00,#ff9c00,#ffa300,#ff9500,#fc7f00,#f97600,#fd8200,#fa0,#ffd800,#fff108,#fff423,#fff738,#fff94a,#fffa56,#fffb5c,#fffb5b,#fffa57,#fffa53,#fffa53,#fffb5b,#fffd6b,#ffff7f,#ffff93,#ffffa5,#ffffb1,#ffffb5)"></i><i style="left:32px;top:157px;width:149px;height:2px;background:linear-gradient(90deg,#ffc100,#ffb500,#ff9c00,#fd8500,#fa7800,#f97400,#fa7600,#fb7d00,#fd8500,#ff8c00,#ff9000,#ff8e00,#ff8b00,#ff8a00,#fe8800,#fc8000,#fa7800,#fa7800,#fe8800,#ffb000,#ffd900,#fff108,#fff422,#fff738,#fff949,#fffa55,#fffa58,#fffa56,#fffa52,#fff950,#fffa54,#fffb5f,#fffd70,#ffff83,#ffff95,#ffffa3,#ffffad,#ffffb0)"></i><i style="left:32px;top:159px;width:149px;height:2px;background:linear-gradient(90deg,#ffc300,#ffb600,#ff9d00,#fd8600,#fa7a00,#fa7600,#fa7a00,#fc8100,#fe8900,#ff9000,#ff9500,#ff9200,#ff8a00,#fc8200,#fa7900,#f97300,#f97300,#fb7b00,#ff8e00,#ffb600,#ffdb00,#fff108,#fff422,#fff738,#fff949,#fffa53,#fffa54,#fff951,#fff94d,#fff94d,#fffa53,#fffb61,#fffe73,#ffff86,#ffff96,#ffffa2,#ffa,#ffffac)"></i><i style="left:32px;top:161px;width:149px;height:2px;background:linear-gradient(90deg,#ffc500,#ffb800,#ff9e00,#fd8600,#fb7a00,#fa7800,#fb7c00,#fd8300,#ff8a00,#ff9300,#ff9800,#ff9500,#fe8a00,#fb7d00,#f87100,#f76b00,#f87000,#fb7d00,#ff9400,#ffb900,#ffdc00,#fff108,#fff422,#fff738,#fff848,#fffa52,#fffa52,#fff94e,#fff94a,#fff94b,#fffa53,#fffb61,#fffe75,#ff8,#ffff97,#ffffa1,#ffffa7,#ffffa9)"></i>
<i style="left:194px;top:106px;width:5px;height:57px;background:linear-gradient(180deg,#000000,#210000,#430000,#640000,#820300,#a00700,#be0a00,#c81100,#d21700,#dc1e00,#e32f00,#e93f00,#f05000,#f56400,#fa7800,#ff8c00,#ffad00,#ffcf00,#fff000,#fff52b,#fffa55,#ffff80,#ffffaa,#ffffd5,#ffffff)"></i>
<i style="left:272px;top:39px;width:70px;height:2px;background:linear-gradient(90deg,#fff,#fff,#fff,#fff,#fff,#fff,#fff,#fff,#fffffe,#fffffe,#fffffd,#fffffd,#fffffc,#fffffc,#fffffc,#fffffc,#fffffc,#fffffd,#fffffe,#fffffe,#fff,#fff,#fff,#fff)"></i><i style="left:272px;top:41px;width:70px;height:2px;background:linear-gradient(90deg,#fff,#fff,#fff,#fff,#fff,#fff,#fff,#fff,#fffffe,#fffffe,#fffffd,#fffffc,#fffffb,#fffffb,#fffffa,#fffffb,#fffffc,#fffffd,#fffffd,#fffffe,#fff,#fff,#fff,#fff)"></i><i style="left:272px;top:43px;width:70px;height:2px;background:linear-gradient(90deg,#fff,#fff,#fff,#fff,#fff,#fff,#fff,#fff,#fffffe,#fffffd,#fffffc,#fffffb,#fffffa,#fffff9,#fffff9,#fffffa,#fffffb,#fffffc,#fffffd,#fffffe,#fffffe,#fff,#fff,#fff)"></i><i style="left:272px;top:45px;width:70px;height:2px;background:linear-gradient(90deg,#fff,#fff,#fff,#fff,#fff,#fff,#fff,#fffffe,#fffffe,#fffffd,#fffffb,#fffffa,#fffff8,#fffff8,#fffff7,#fffff8,#fffff9,#fffffb,#fffffc,#fffffd,#fffffe,#fff,#fff,#fff)"></i><i style="left:272px;top:47px;width:70px;height:2px;background:linear-gradient(90deg,#fff,#fff,#fff,#fff,#fff,#fff,#fff,#fffffe,#fffffd,#fffffc,#fffffb,#fffff9,#fffff7,#fffff6,#fffff5,#fffff6,#fffff8,#fffffa,#fffffc,#fffffd,#fffffe,#fff,#fff,#fff)"></i><i style="left:272px;top:49px;width:70px;height:2px;background:linear-gradient(90deg,#fff,#fff,#fff,#fff,#fff,#fff,#fff,#fffffe,#fffffd,#fffffc,#fffff9,#fffff7,#fffff5,#fffff3,#fffff3,#fffff4,#fffff6,#fffff8,#fffffb,#fffffd,#fffffe,#fffffe,#fff,#fff)"></i><i style="left:272px;top:51px;width:70px;height:2px;background:linear-gradient(90deg,#fff,#fff,#fff,#fff,#fff,#fff,#fffffe,#fffffe,#fffffd,#fffffb,#fffff8,#fffff5,#fffff2,#fffff1,#fffff0,#fffff1,#fffff4,#fffff7,#fffffa,#fffffc,#fffffd,#fffffe,#fff,#fff)"></i><i style="left:272px;top:53px;width:70px;height:2px;background:linear-gradient(90deg,#fff,#fff,#fff,#fff,#fff,#fff,#fffffe,#fffffe,#fffffc,#fffffa,#fffff7,#fffff3,#fffff0,#ffffed,#ffffed,#ffffef,#fffff2,#fffff5,#fffff9,#fffffb,#fffffd,#fffffe,#fff,#fff)"></i><i style="left:272px;top:55px;width:70px;height:2px;background:linear-gradient(90deg,#fff,#fff,#fff,#fff,#fff,#fff,#fffffe,#fffffd,#fffffc,#fffff9,#fffff5,#fffff1,#ffffed,#ffffea,#ffffe9,#ffffeb,#ffffef,#fffff3,#fffff7,#fffffb,#fffffd,#fffffe,#fff,#fff)"></i><i style="left:272px;top:57px;width:70px;height:2px;background:linear-gradient(90deg,#fff,#fff,#fff,#fff,#fff,#fff,#fffffe,#fffffd,#fffffb,#fffff8,#fffff3,#ffe,#ffffe9,#ffffe6,#ffffe6,#ffffe8,#ffffec,#fffff1,#fffff6,#fffffa,#fffffc,#fffffe,#fffffe,#fff)"></i><i style="left:272px;top:59px;width:70px;height:2px;background:linear-gradient(90deg,#fff,#fff,#fff,#fff,#fff,#fff,#fffffe,#fffffd,#fffffa,#fffff6,#fffff1,#ffffeb,#ffffe6,#ffffe2,#ffffe1,#ffffe4,#ffffe9,#ffffef,#fffff5,#fffff9,#fffffc,#fffffe,#fffffe,#fff)"></i><i style="left:272px;top:61px;width:70px;height:2px;background:linear-gradient(90deg,#fff,#fff,#fff,#fff,#fff,#fff,#fffffe,#fffffc,#fffffa,#fffff5,#ffffef,#ffffe8,#ffffe2,#ffd,#ffd,#ffffe0,#ffffe6,#ffffed,#fffff3,#fffff8,#fffffb,#fffffd,#fffffe,#fff)"></i><i style="left:272px;top:63px;width:70px;height:2px;background:linear-gradient(90deg,#fff,#fff,#fff,#fff,#fff,#fffffe,#fffffe,#fffffc,#fffff9,#fffff4,#ffffed,#ffffe5,#ffffde,#ffffd8,#ffffd8,#ffffdb,#ffffe2,#ffffea,#fffff1,#fffff7,#fffffb,#fffffd,#fffffe,#fff)"></i><i style="left:272px;top:65px;width:70px;height:2px;background:linear-gradient(90deg,#fff,#fff,#fff,#fff,#fff,#fffffe,#fffffe,#fffffc,#fffff8,#fffff3,#ffffeb,#ffffe2,#ffffd8,#ffffd2,#ffffd0,#ffffd4,#ffd,#ffffe7,#fffff0,#fffff6,#fffffa,#fffffd,#fffffe,#fff)"></i><i style="left:272px;top:67px;width:70px;height:2px;background:linear-gradient(90deg,#fff,#fff,#fff,#fff,#fff,#fffffe,#fffffd,#fffffb,#fffff7,#fffff1,#ffffe9,#ffd,#ffffce,#ffffc4,#ffffc1,#ffffc2,#ffffd0,#ffffe2,#ffe,#fffff5,#fffffa,#fffffd,#fffffe,#fff)"></i><i style="left:272px;top:69px;width:70px;height:2px;background:linear-gradient(90deg,#fff,#fff,#fff,#fff,#fff,#fffffe,#fffffd,#fffffb,#fffff7,#fffff0,#ffffe6,#ffffd5,#ffffb1,#ffff9e,#ffff9b,#ffff90,#ffffae,#ffffd8,#ffffec,#fffff4,#fffffa,#fffffc,#fffffe,#fff)"></i><i style="left:272px;top:71px;width:70px;height:2px;background:linear-gradient(90deg,#fff,#fff,#fff,#fff,#fff,#fffffe,#fffffd,#fffffb,#fffff6,#ffffef,#ffffe4,#ffffc8,#ffff7f,#fffb5d,#fffb60,#fff847,#ffff7d,#ffffca,#ffffe9,#fffff4,#fffff9,#fffffc,#fffffe,#fff)"></i><i style="left:272px;top:73px;width:70px;height:2px;background:linear-gradient(90deg,#fff,#fff,#fff,#fff,#fff,#fffffe,#fffffd,#fffffa,#fffff6,#ffe,#ffffe1,#ffffbe,#fffb5f,#fff52c,#fff635,#fff52b,#fffd70,#ffffc6,#ffffe8,#fffff3,#fffff9,#fffffc,#fffffe,#fff)"></i><i style="left:272px;top:75px;width:70px;height:2px;background:linear-gradient(90deg,#fff,#fff,#fff,#fff,#fff,#fffffe,#fffffd,#fffffa,#fffff5,#ffffed,#ffffe0,#ffffbd,#fffc65,#fff213,#fff20d,#fff73d,#ffff8b,#ffc,#ffffe8,#fffff2,#fffff9,#fffffc,#fffffe,#fff)"></i><i style="left:272px;top:77px;width:70px;height:2px;background:linear-gradient(90deg,#fff,#fff,#fff,#fff,#fff,#fffffe,#fffffd,#fffffa,#fffff5,#ffffed,#ffffde,#ffb,#fffc63,#ffc500,#ffa200,#fff52c,#ffff9c,#ffffd1,#ffffe7,#fffff2,#fffff8,#fffffc,#fffffe,#fff)"></i><i style="left:272px;top:79px;width:70px;height:2px;background:linear-gradient(90deg,#fff,#fff,#fff,#fff,#fff,#fffffe,#fffffd,#fffffa,#fffff5,#ffffec,#ffffdc,#ffffb4,#fff845,#f87000,#ed4800,#ffe100,#ffff95,#ffffd0,#ffffe7,#fffff2,#fffff8,#fffffc,#fffffe,#fff)"></i><i style="left:272px;top:81px;width:70px;height:2px;background:linear-gradient(90deg,#fff,#fff,#fff,#fff,#fff,#fffffe,#fffffd,#fffffa,#fffff5,#ffffec,#ffffda,#ffffad,#fff527,#ed4700,#db1d00,#ffba00,#ff8,#ffffcd,#ffffe7,#fffff2,#fffff8,#fffffc,#fffffe,#fff)"></i><i style="left:272px;top:83px;width:70px;height:2px;background:linear-gradient(90deg,#fff,#fff,#fff,#fff,#fff,#fffffe,#fffffd,#fffffa,#fffff5,#ffffec,#ffffda,#ffffa8,#fff41e,#f05000,#e12a00,#ffb700,#ffff7f,#ffffcb,#ffffe6,#fffff2,#fffff8,#fffffc,#fffffe,#fff)"></i><i style="left:272px;top:85px;width:70px;height:2px;background:linear-gradient(90deg,#fff,#fff,#fff,#fff,#fff,#fffffe,#fffffd,#fffffa,#fffff5,#ffffed,#ffffda,#ffffa6,#fff423,#f97200,#f15200,#ffc500,#fffe79,#ffffca,#ffffe7,#fffff2,#fffff9,#fffffc,#fffffe,#fff)"></i><i style="left:272px;top:87px;width:70px;height:2px;background:linear-gradient(90deg,#fff,#fff,#fff,#fff,#fff,#fffffe,#fffffd,#fffffa,#fffff6,#ffffed,#ffffdb,#ffffa7,#fff52b,#ff8a00,#f87200,#ffd000,#fffe77,#ffffca,#ffffe8,#fffff3,#fffff9,#fffffc,#fffffe,#fff)"></i><i style="left:272px;top:89px;width:70px;height:2px;background:linear-gradient(90deg,#fff,#fff,#fff,#fff,#fff,#fffffe,#fffffd,#fffffb,#fffff6,#ffe,#ffd,#ffffae,#fff73c,#ffa800,#fe8700,#ffdf00,#ffff7d,#ffffcd,#ffffe9,#fffff4,#fffff9,#fffffc,#fffffe,#fff)"></i><i style="left:272px;top:91px;width:70px;height:2px;background:linear-gradient(90deg,#fff,#fff,#fff,#fff,#fff,#fffffe,#fffffd,#fffffb,#fffff7,#fffff0,#ffffe1,#ffffb9,#fffb5c,#ffd800,#ffba00,#fff318,#ffff90,#ffffd2,#ffffeb,#fffff4,#fffffa,#fffffc,#fffffe,#fff)"></i><i style="left:272px;top:93px;width:70px;height:2px;background:linear-gradient(90deg,#fff,#fff,#fff,#fff,#fff,#fffffe,#fffffd,#fffffb,#fffff7,#fffff1,#ffffe5,#ffffc8,#ffff87,#fff634,#fff31a,#fffa59,#ffffab,#ffffda,#ffffed,#fffff5,#fffffa,#fffffd,#fffffe,#fff)"></i><i style="left:272px;top:95px;width:70px;height:2px;background:linear-gradient(90deg,#fff,#fff,#fff,#fff,#fff,#fffffe,#fffffe,#fffffc,#fffff8,#fffff2,#ffffe9,#ffffd5,#ffffae,#ffff7f,#fffd71,#ffff95,#ffffc5,#ffffe2,#ffffef,#fffff6,#fffffa,#fffffd,#fffffe,#fff)"></i><i style="left:272px;top:97px;width:70px;height:2px;background:linear-gradient(90deg,#fff,#fff,#fff,#fff,#fff,#fffffe,#fffffe,#fffffc,#fffff9,#fffff4,#ffffec,#ffffdf,#ffffc9,#ffffb0,#ffa,#ffffbc,#ffffd6,#ffffe7,#fffff1,#fffff7,#fffffb,#fffffd,#fffffe,#fff)"></i><i style="left:272px;top:99px;width:70px;height:2px;background:linear-gradient(90deg,#fff,#fff,#fff,#fff,#fff,#fff,#fffffe,#fffffc,#fffffa,#fffff5,#ffffef,#ffffe6,#ffffd9,#ffc,#ffffc9,#ffffd3,#ffffe1,#ffffec,#fffff3,#fffff8,#fffffb,#fffffd,#fffffe,#fff)"></i><i style="left:272px;top:101px;width:70px;height:2px;background:linear-gradient(90deg,#fff,#fff,#fff,#fff,#fff,#fff,#fffffe,#fffffd,#fffffa,#fffff7,#fffff1,#ffffea,#ffffe2,#ffffdb,#ffffd9,#ffffdf,#ffffe7,#ffffef,#fffff5,#fffff9,#fffffc,#fffffe,#fffffe,#fff)"></i><i style="left:272px;top:123px;width:70px;height:2px;background:linear-gradient(90deg,#fff,#fff,#fff,#fff,#fff,#fff,#fff,#fff,#fff,#fffffe,#fffffe,#fffffe,#fffffe,#fffffe,#fffffe,#fffffe,#fffffe,#fffffe,#fffffe,#fff,#fff,#fff,#fff,#fff)"></i><i style="left:272px;top:125px;width:70px;height:2px;background:linear-gradient(90deg,#fff,#fff,#fff,#fff,#fff,#fff,#fff,#fff,#fffffe,#fffffe,#fffffe,#fffffe,#fffffe,#fffffe,#fffffe,#fffffe,#fffffe,#fffffe,#fffffe,#fffffe,#fffffe,#fff,#fff,#fff)"></i><i style="left:272px;top:127px;width:70px;height:2px;background:linear-gradient(90deg,#fff,#fff,#fff,#fff,#fff,#fff,#fff,#fffffe,#fffffe,#fffffe,#fffffe,#fffffd,#fffffd,#fffffd,#fffffd,#fffffd,#fffffd,#fffffd,#fffffe,#fffffe,#fffffe,#fffffe,#fff,#fff)"></i><i style="left:272px;top:129px;width:70px;height:2px;background:linear-gradient(90deg,#fff,#fff,#fff,#fff,#fff,#fff,#fffffe,#fffffe,#fffffe,#fffffd,#fffffd,#fffffd,#fffffc,#fffffc,#fffffc,#fffffc,#fffffd,#fffffd,#fffffd,#fffffe,#fffffe,#fffffe,#fffffe,#fff)"></i><i style="left:272px;top:131px;width:70px;height:2px;background:linear-gradient(90deg,#fff,#fff,#fff,#fff,#fff,#fffffe,#fffffe,#fffffe,#fffffd,#fffffd,#fffffc,#fffffc,#fffffb,#fffffb,#fffffb,#fffffb,#fffffc,#fffffc,#fffffc,#fffffd,#fffffd,#fffffe,#fffffe,#fffffe)"></i><i style="left:272px;top:133px;width:70px;height:2px;background:linear-gradient(90deg,#fff,#fff,#fff,#fff,#fffffe,#fffffe,#fffffe,#fffffd,#fffffc,#fffffc,#fffffb,#fffffa,#fffffa,#fffffa,#fffffa,#fffffa,#fffffa,#fffffb,#fffffb,#fffffc,#fffffd,#fffffd,#fffffe,#fffffe)"></i><i style="left:272px;top:135px;width:70px;height:2px;background:linear-gradient(90deg,#fff,#fff,#fff,#fffffe,#fffffe,#fffffe,#fffffd,#fffffc,#fffffc,#fffffb,#fffffa,#fffff9,#fffff8,#fffff8,#fffff8,#fffff8,#fffff8,#fffff9,#fffffa,#fffffb,#fffffc,#fffffd,#fffffe,#fffffe)"></i><i style="left:272px;top:137px;width:70px;height:2px;background:linear-gradient(90deg,#fff,#fff,#fff,#fffffe,#fffffe,#fffffd,#fffffd,#fffffc,#fffffa,#fffff9,#fffff8,#fffff7,#fffff6,#fffff5,#fffff5,#fffff5,#fffff6,#fffff7,#fffff9,#fffffa,#fffffb,#fffffc,#fffffd,#fffffe)"></i><i style="left:272px;top:139px;width:70px;height:2px;background:linear-gradient(90deg,#fff,#fff,#fffffe,#fffffe,#fffffe,#fffffd,#fffffc,#fffffa,#fffff9,#fffff7,#fffff6,#fffff4,#fffff3,#fffff2,#fffff2,#fffff3,#fffff4,#fffff5,#fffff7,#fffff8,#fffffa,#fffffb,#fffffc,#fffffd)"></i><i style="left:272px;top:141px;width:70px;height:2px;background:linear-gradient(90deg,#fff,#fff,#fffffe,#fffffe,#fffffd,#fffffc,#fffffb,#fffff9,#fffff7,#fffff5,#fffff3,#fffff1,#ffffef,#ffffef,#ffe,#ffffef,#fffff0,#fffff2,#fffff4,#fffff6,#fffff8,#fffffa,#fffffc,#fffffd)"></i><i style="left:272px;top:143px;width:70px;height:2px;background:linear-gradient(90deg,#fff,#fff,#fffffe,#fffffe,#fffffd,#fffffb,#fffffa,#fffff8,#fffff5,#fffff3,#fffff0,#ffffed,#ffffeb,#ffffea,#ffffe9,#ffffe9,#ffffea,#ffffec,#ffffef,#fffff3,#fffff6,#fffff9,#fffffb,#fffffc)"></i><i style="left:272px;top:145px;width:70px;height:2px;background:linear-gradient(90deg,#fff,#fffffe,#fffffe,#fffffd,#fffffc,#fffffb,#fffff9,#fffff6,#fffff3,#fffff0,#ffffec,#ffffe9,#ffffe6,#ffffe4,#ffffe2,#ffffdf,#ffffdb,#ffffdc,#ffffe4,#ffffed,#fffff3,#fffff7,#fffffa,#fffffc)"></i><i style="left:272px;top:147px;width:70px;height:2px;background:linear-gradient(90deg,#fff,#fffffe,#fffffe,#fffffd,#fffffc,#fffffa,#fffff7,#fffff4,#fffff0,#ffffec,#ffffe8,#ffffe3,#ffffdf,#ffffda,#ffffd4,#ffffc7,#ffffb9,#ffffb7,#ffffc8,#ffffde,#ffe,#fffff5,#fffff9,#fffffb)"></i><i style="left:272px;top:149px;width:70px;height:2px;background:linear-gradient(90deg,#fff,#fffffe,#fffffd,#fffffc,#fffffb,#fffff9,#fffff6,#fffff2,#ffffed,#ffffe8,#ffffe2,#ffffda,#ffffd2,#ffffc8,#ffffb8,#ffff9b,#fffe79,#fffd73,#ffff96,#ffffc6,#ffffe5,#fffff2,#fffff7,#fffffa)"></i><i style="left:272px;top:151px;width:70px;height:2px;background:linear-gradient(90deg,#fffffe,#fffffe,#fffffd,#fffffc,#fffffa,#fffff8,#fffff4,#fffff0,#ffffea,#ffffe4,#ffffda,#ffffcb,#ffffb8,#ffffa2,#ffff87,#fffb5b,#fff528,#fff422,#fffb5d,#ffffab,#ffffdb,#ffffef,#fffff6,#fffff9)"></i><i style="left:272px;top:153px;width:70px;height:2px;background:linear-gradient(90deg,#fffffe,#fffffe,#fffffd,#fffffc,#fffff9,#fffff7,#fffff3,#ffffed,#ffffe7,#ffffde,#ffffcd,#ffffb0,#ff8,#fffb5f,#fff73a,#fff20f,#fd0,#ffe400,#fff73f,#ffff9d,#ffffd6,#ffffed,#fffff5,#fffff8)"></i><i style="left:272px;top:155px;width:70px;height:2px;background:linear-gradient(90deg,#fffffe,#fffffe,#fffffd,#fffffb,#fffff9,#fffff5,#fffff1,#ffffeb,#ffffe3,#ffffd6,#ffb,#ffff87,#fff73d,#ffe900,#ffc800,#ffbd00,#ffc300,#ffe700,#fff94d,#ffffa4,#ffffd7,#ffffec,#fffff3,#fffff8)"></i><i style="left:272px;top:157px;width:70px;height:2px;background:linear-gradient(90deg,#fffffe,#fffffe,#fffffc,#fffffb,#fffff8,#fffff4,#fffff0,#ffffe9,#ffffe0,#ffffcd,#ffffa4,#fffa52,#ffd700,#fe8900,#f97500,#fc8100,#ffb200,#fff210,#fffd6f,#ffffb6,#ffffdb,#ffffeb,#fffff2,#fffff7)"></i><i style="left:272px;top:159px;width:70px;height:2px;background:linear-gradient(90deg,#fffffe,#fffffd,#fffffc,#fffffa,#fffff8,#fffff4,#ffe,#ffffe7,#ffffdc,#ffffc5,#ffff8c,#fff31c,#ff9000,#f15300,#ea4100,#f25800,#ff9800,#fff31c,#ffff86,#ffffc3,#ffffde,#ffffeb,#fffff2,#fffff6)"></i><i style="left:272px;top:161px;width:70px;height:2px;background:linear-gradient(90deg,#fffffe,#fffffd,#fffffc,#fffffa,#fffff7,#fffff3,#ffffed,#ffffe6,#ffffd9,#ffffbd,#fffe77,#ffe400,#f86e00,#e43300,#d20,#e83d00,#fc8100,#fff212,#ffff8b,#ffffc6,#ffffdf,#ffffea,#fffff1,#fffff6)"></i><i style="left:272px;top:163px;width:70px;height:2px;background:linear-gradient(90deg,#fffffe,#fffffd,#fffffc,#fffffa,#fffff7,#fffff2,#ffffec,#ffffe4,#ffffd7,#ffffb7,#fffc69,#ffcd00,#f35b00,#de2200,#d51900,#e22d00,#f87100,#fff000,#ffff85,#ffffc5,#ffffde,#ffffe9,#fffff0,#fffff5)"></i><i style="left:272px;top:165px;width:70px;height:2px;background:linear-gradient(90deg,#fffffe,#fffffd,#fffffc,#fffffa,#fffff7,#fffff2,#ffffec,#ffffe4,#ffffd6,#ffffb4,#fffb61,#ffc100,#f15300,#db1d00,#d11700,#df2500,#f66700,#ffe500,#ffff7e,#ffffc3,#ffd,#ffffe9,#fffff0,#fffff5)"></i><i style="left:272px;top:167px;width:70px;height:2px;background:linear-gradient(90deg,#fffffe,#fffffd,#fffffc,#fffffa,#fffff7,#fffff2,#ffffec,#ffffe4,#ffffd5,#ffffb4,#fffb61,#ffc300,#f15500,#dc1e00,#d11700,#de2400,#f56600,#ffe200,#fffe7b,#ffffc1,#ffd,#ffffe9,#fffff0,#fffff5)"></i><i style="left:272px;top:169px;width:70px;height:2px;background:linear-gradient(90deg,#fffffe,#fffffd,#fffffc,#fffffa,#fffff7,#fffff2,#ffffec,#ffffe4,#ffffd5,#ffffb5,#fffd6b,#ffd500,#f66600,#e22e00,#db1d00,#e43300,#f97300,#ffed00,#ffff80,#ffffc2,#ffd,#ffffe9,#fffff0,#fffff5)"></i><i style="left:272px;top:171px;width:70px;height:2px;background:linear-gradient(90deg,#fffffe,#fffffd,#fffffc,#fffffa,#fffff7,#fffff3,#ffffed,#ffffe5,#ffffc9,#ffff92,#ffff7e,#fff20f,#ff8c00,#f25600,#ec4500,#f25a00,#ff9a00,#fff424,#ffff90,#ffffc7,#ffffdf,#ffffea,#fffff0,#fffff5)"></i><i style="left:272px;top:173px;width:70px;height:2px;background:linear-gradient(90deg,#fffffe,#fffffd,#fffffc,#fffffa,#fffff7,#fffff3,#ffe,#ffffe6,#ffffac,#fff842,#ffff96,#fff94e,#ffe000,#ffa100,#ff8b00,#ffa500,#ffe900,#fffb5c,#ffffa7,#ffffcf,#ffffe1,#ffffeb,#fffff1,#fffff6)"></i><i style="left:272px;top:175px;width:70px;height:2px;background:linear-gradient(90deg,#fffffe,#fffffe,#fffffc,#fffffb,#fffff8,#fffff4,#ffffef,#ffffe8,#ffffc9,#ffff93,#ffffb3,#ffff89,#fff951,#fff423,#fff213,#fff527,#fffa58,#ffff92,#ffffbe,#ffffd7,#ffffe4,#ffffec,#fffff2,#fffff7)"></i><i style="left:272px;top:177px;width:70px;height:2px;background:linear-gradient(90deg,#fffffe,#fffffe,#fffffd,#fffffb,#fffff9,#fffff5,#fffff0,#ffffea,#ffffe1,#ffffd4,#ffffc9,#ffffb2,#ffff97,#ffff82,#fffe7b,#ffff85,#ffff9c,#ffffb8,#ffffcf,#ffffde,#ffffe7,#ffe,#fffff3,#fffff7)"></i><i style="left:272px;top:179px;width:70px;height:2px;background:linear-gradient(90deg,#fffffe,#fffffe,#fffffd,#fffffb,#fffff9,#fffff6,#fffff2,#ffffed,#ffffe6,#ffffdf,#ffffd5,#ffffc9,#ffffbd,#ffffb4,#ffffb2,#ffffb6,#ffffc0,#ffffce,#ffffda,#ffffe3,#ffffea,#fffff0,#fffff5,#fffff8)"></i><i style="left:272px;top:181px;width:70px;height:2px;background:linear-gradient(90deg,#fffffe,#fffffe,#fffffd,#fffffc,#fffffa,#fffff7,#fffff4,#ffffef,#ffffe9,#ffffe3,#ffffdc,#ffffd5,#ffffcf,#ffffcb,#ffffca,#ffc,#ffffd2,#ffffd9,#ffffe0,#ffffe7,#ffffed,#fffff2,#fffff6,#fffff9)"></i><i style="left:272px;top:183px;width:70px;height:2px;background:linear-gradient(90deg,#fff,#fffffe,#fffffd,#fffffc,#fffffb,#fffff8,#fffff5,#fffff1,#ffffec,#ffffe7,#ffffe2,#ffd,#ffffd9,#ffffd6,#ffffd6,#ffffd7,#ffffdb,#ffffe0,#ffffe5,#ffffea,#ffffef,#fffff4,#fffff7,#fffffa)"></i><i style="left:272px;top:185px;width:70px;height:2px;background:linear-gradient(90deg,#fff,#fffffe,#fffffe,#fffffd,#fffffb,#fffff9,#fffff7,#fffff3,#ffffef,#ffffeb,#ffffe7,#ffffe2,#ffffdf,#ffd,#ffd,#ffffde,#ffffe1,#ffffe5,#ffffe9,#ffe,#fffff2,#fffff5,#fffff8,#fffffb)"></i><i style="left:272px;top:207px;width:70px;height:2px;background:linear-gradient(90deg,#fffffd,#fffffd,#fffffc,#fffffc,#fffffb,#fffffb,#fffffa,#fffff9,#fffff9,#fffff8,#fffff7,#fffff7,#fffff6,#fffff6,#fffff6,#fffff6,#fffff6,#fffff6,#fffff6,#fffff7,#fffff7,#fffff8,#fffff8,#fffff9)"></i><i style="left:272px;top:209px;width:70px;height:2px;background:linear-gradient(90deg,#fffffd,#fffffd,#fffffc,#fffffb,#fffffb,#fffffa,#fffff9,#fffff8,#fffff7,#fffff7,#fffff6,#fffff6,#fffff5,#fffff5,#fffff5,#fffff5,#fffff5,#fffff5,#fffff5,#fffff6,#fffff6,#fffff7,#fffff7,#fffff8)"></i><i style="left:272px;top:211px;width:70px;height:2px;background:linear-gradient(90deg,#fffffd,#fffffc,#fffffc,#fffffb,#fffffa,#fffff9,#fffff8,#fffff7,#fffff6,#fffff5,#fffff5,#fffff4,#fffff4,#fffff3,#fffff3,#fffff3,#fffff3,#fffff3,#fffff4,#fffff4,#fffff5,#fffff6,#fffff6,#fffff7)"></i><i style="left:272px;top:213px;width:70px;height:2px;background:linear-gradient(90deg,#fffffd,#fffffc,#fffffb,#fffffa,#fffff9,#fffff8,#fffff6,#fffff5,#fffff4,#fffff3,#fffff2,#fffff2,#fffff2,#fffff1,#fffff1,#fffff1,#fffff1,#fffff2,#fffff2,#fffff3,#fffff4,#fffff4,#fffff5,#fffff6)"></i><i style="left:272px;top:215px;width:70px;height:2px;background:linear-gradient(90deg,#fffffc,#fffffb,#fffffa,#fffff9,#fffff8,#fffff6,#fffff5,#fffff3,#fffff2,#fffff1,#fffff0,#ffffef,#ffffef,#ffffef,#ffffef,#ffffef,#ffffef,#fffff0,#fffff1,#fffff1,#fffff2,#fffff3,#fffff4,#fffff5)"></i><i style="left:272px;top:217px;width:70px;height:2px;background:linear-gradient(90deg,#fffffc,#fffffb,#fffffa,#fffff8,#fffff6,#fffff4,#fffff2,#fffff0,#ffe,#ffffed,#ffffeb,#ffffea,#ffffea,#ffffea,#ffffea,#ffffeb,#ffffec,#ffe,#ffffef,#ffffef,#fffff0,#fffff2,#fffff3,#fffff4)"></i><i style="left:272px;top:219px;width:70px;height:2px;background:linear-gradient(90deg,#fffffb,#fffffa,#fffff9,#fffff7,#fffff4,#fffff2,#ffffef,#ffffed,#ffffea,#ffffe8,#ffffe5,#ffffe3,#ffffe1,#ffffe0,#ffffe1,#ffffe4,#ffffe7,#ffffe9,#ffffec,#ffffed,#ffe,#fffff0,#fffff1,#fffff3)"></i><i style="left:272px;top:221px;width:70px;height:2px;background:linear-gradient(90deg,#fffffb,#fffff9,#fffff7,#fffff5,#fffff2,#ffffef,#ffffeb,#ffffe8,#ffffe5,#ffffe1,#ffffdc,#ffffd7,#ffffd2,#ffffcf,#ffffcf,#ffffd3,#ffffda,#ffffe0,#ffffe6,#ffffe9,#ffffeb,#ffe,#fffff0,#fffff2)"></i><i style="left:272px;top:223px;width:70px;height:2px;background:linear-gradient(90deg,#fffffa,#fffff8,#fffff6,#fffff3,#ffffef,#ffffeb,#ffffe7,#ffffe3,#ffffde,#ffffd9,#ffffd2,#ffffc7,#ffffbc,#ffffb2,#ffffae,#ffffb3,#ffffbe,#ffc,#ffffd8,#ffffe1,#ffffe6,#ffffea,#ffe,#fffff0)"></i><i style="left:272px;top:225px;width:70px;height:2px;background:linear-gradient(90deg,#fffffa,#fffff7,#fffff5,#fffff1,#ffffec,#ffffe7,#ffffe1,#ffffdc,#ffffd7,#ffffd1,#ffffc7,#ffffb6,#ffffa0,#ffff8a,#fffe7c,#fffe7b,#ffff8a,#ffffa3,#ffffbc,#ffffcf,#ffffdb,#ffffe4,#ffffea,#ffe)"></i><i style="left:272px;top:227px;width:70px;height:2px;background:linear-gradient(90deg,#fffff9,#fffff6,#fffff3,#ffe,#ffffe8,#ffffe2,#ffffdb,#ffffd6,#ffffd0,#ffffc9,#ffffbd,#ffffa7,#ffff85,#fffb5d,#fff73b,#fff52c,#fff738,#fffb5b,#ffff86,#ffffab,#ffffc5,#ffffd8,#ffffe5,#ffffec)"></i><i style="left:272px;top:229px;width:70px;height:2px;background:linear-gradient(90deg,#fffff8,#fffff5,#fffff1,#ffffeb,#ffffe4,#ffd,#ffffd5,#ffffcf,#ffffc9,#ffffc3,#ffffb6,#ffff9b,#fffd6e,#fff634,#ffea00,#ffc900,#ffc100,#ffde00,#fff52e,#fffd6e,#ffff9e,#ffffc2,#ffffdb,#ffffe8)"></i><i style="left:272px;top:231px;width:70px;height:2px;background:linear-gradient(90deg,#fffff8,#fffff4,#ffffef,#ffffe9,#ffffe1,#ffffd8,#ffffcf,#ffffc8,#ffffc2,#ffffbc,#ffffaf,#ffff92,#fffb5d,#fff213,#ffc000,#fe8600,#f66800,#f76c00,#ffa800,#fff213,#fffc62,#ffff9f,#ffffca,#ffffe1)"></i><i style="left:272px;top:233px;width:70px;height:2px;background:linear-gradient(90deg,#fffff7,#fffff3,#ffffed,#ffffe6,#ffd,#ffffd3,#ffffc9,#ffffc2,#ffffbc,#ffffb6,#ffffa7,#ffff86,#fff94a,#ffea00,#ffa600,#f86e00,#e73b00,#de2400,#f04f00,#ffa600,#fff215,#fffd6e,#ffffb1,#ffffd6)"></i><i style="left:272px;top:235px;width:70px;height:2px;background:linear-gradient(90deg,#fffff6,#fffff2,#ffffec,#ffffe4,#ffffda,#ffffcf,#ffffc5,#ffffbc,#ffffb6,#ffffaf,#ffff9e,#fffe75,#fff632,#ffd800,#ff9d00,#f97300,#eb4300,#db1e00,#e43200,#f97300,#ffc600,#fff637,#ffff92,#ffffc8)"></i><i style="left:272px;top:237px;width:70px;height:2px;background:linear-gradient(90deg,#fffff6,#fffff1,#ffffea,#ffffe2,#ffffd7,#ffc,#ffffc1,#ffffb9,#ffffb2,#ffa,#ffff96,#fffc68,#fff421,#ffd000,#ffa700,#ff8b00,#f97200,#f15200,#ef4e00,#f76d00,#ffa000,#fff109,#fffe74,#ffffb9)"></i><i style="left:272px;top:239px;width:70px;height:2px;background:linear-gradient(90deg,#fffff5,#fffff0,#ffffe9,#ffffe0,#ffffd5,#ffffc9,#ffffbf,#ffffb6,#ffffb1,#ffffa9,#ffff95,#fffc69,#fff529,#ffe200,#ffcb00,#ffc600,#fb0,#ff9f00,#fe8700,#fd8200,#ff9800,#ffe300,#fffb60,#ffffae)"></i><i style="left:272px;top:241px;width:70px;height:2px;background:linear-gradient(90deg,#fffff4,#ffffef,#ffffe8,#ffffde,#ffffd3,#ffffc7,#ffffbc,#ffffb5,#ffffb0,#ffffab,#ffff9d,#ffff7d,#fff94e,#fff527,#fff31c,#fff424,#fff425,#fff20d,#ffd600,#ffae00,#ffa800,#ffe200,#fffb5b,#ffffa9)"></i><i style="left:272px;top:243px;width:70px;height:2px;background:linear-gradient(90deg,#fffff4,#ffe,#ffffe6,#ffffdc,#ffffd0,#ffffc4,#ffffb9,#ffffb3,#ffffb0,#ffffaf,#ffffa8,#ffff98,#ffff7f,#fffd6b,#fffc6a,#fffe74,#fffe78,#fffc65,#fff633,#ffdf00,#ffc300,#fe0,#fffc63,#ffffad)"></i><i style="left:272px;top:245px;width:70px;height:2px;background:linear-gradient(90deg,#fffff4,#ffe,#ffffe5,#ffffda,#ffc,#ffffbd,#ffffb1,#ffffad,#ffffae,#ffffb1,#ffffb2,#ffffae,#ffffa7,#ffffa1,#ffffa3,#ffa,#ffffac,#ffff9d,#fffd6d,#fff31b,#fd0,#fff213,#fffd72,#ffffb6)"></i><i style="left:272px;top:247px;width:70px;height:2px;background:linear-gradient(90deg,#fffff4,#ffe,#ffffe5,#ffffd7,#ffffc4,#ffa,#ffff98,#ffff9b,#ffffa6,#ffffaf,#ffffb6,#ffb,#ffffbd,#ffffbf,#ffffc2,#ffffc6,#ffffc7,#ffb,#ffff8e,#fff73a,#fff000,#fff527,#ffff82,#ffffc0)"></i><i style="left:272px;top:249px;width:70px;height:2px;background:linear-gradient(90deg,#fffff4,#ffe,#ffffe5,#ffffd4,#ffffb4,#ffff7f,#fffb5b,#fffd6f,#ffff93,#ffffa8,#ffffb4,#ffffbe,#ffffc6,#ffffcb,#ffffcf,#ffffd2,#ffffd2,#ffffc7,#ffff9e,#fff94b,#fff210,#fff636,#ffff8f,#ffffc9)"></i><i style="left:272px;top:251px;width:70px;height:2px;background:linear-gradient(90deg,#fffff5,#ffffef,#ffffe5,#ffffd2,#ffffa1,#fff844,#fff107,#fff62f,#fffd71,#ffff94,#ffa,#ffb,#ffffc6,#ffffce,#ffffd3,#ffffd5,#ffffd6,#ffffcd,#ffffa6,#fffa58,#fff420,#fff845,#ff9,#ffffd0)"></i><i style="left:272px;top:253px;width:70px;height:2px;background:linear-gradient(90deg,#fffff6,#fffff0,#ffffe7,#ffffd3,#ff9,#fff528,#ffd300,#fff002,#fff842,#fffc69,#ffff90,#ffffb0,#ffffc2,#ffffcd,#ffffd3,#ffffd6,#ffffd7,#ffffcf,#ffffac,#fffc65,#fff632,#fffa55,#ffffa3,#ffffd5)"></i><i style="left:272px;top:255px;width:70px;height:2px;background:linear-gradient(90deg,#fffff7,#fffff2,#ffffea,#ffffd8,#ffffa7,#fff94a,#fff000,#fe0,#fff003,#fff31c,#fffc63,#ffff9e,#ffb,#ffffc9,#ffffd2,#ffffd6,#ffffd8,#ffffd2,#ffffb3,#fffe75,#fff949,#fffc68,#ffffac,#ffffd8)"></i><i style="left:272px;top:257px;width:70px;height:2px;background:linear-gradient(90deg,#fffff7,#fffff4,#ffffed,#ffffdf,#ffffc0,#ffff86,#fff94b,#fff213,#ffc600,#ffc700,#fff631,#ff8,#ffffaf,#ffffc3,#ffffcf,#ffffd6,#ffffd8,#ffffd4,#ffb,#ff8,#fffc64,#ffff7e,#ffffb7,#ffffdc)"></i><i style="left:272px;top:259px;width:70px;height:2px;background:linear-gradient(90deg,#fffff8,#fffff5,#fffff0,#ffffe6,#ffffd3,#ffffb3,#ffff85,#fff637,#ffc700,#ffba00,#fff319,#fffd6e,#ffff9b,#ffffb7,#ffffca,#ffffd4,#ffffd9,#ffffd6,#ffffc3,#ffff9b,#ffff7f,#ffff94,#ffffc2,#ffffdf)"></i><i style="left:272px;top:261px;width:70px;height:2px;background:linear-gradient(90deg,#fffff9,#fffff6,#fffff2,#ffffeb,#ffffdf,#ffffcb,#ffffa9,#fffc69,#fff210,#ffe100,#fff213,#fff842,#fffd6f,#ffff9e,#ffffc1,#ffffd2,#ffffd9,#ffffd9,#ffffcb,#ffffae,#ff9,#ffffa9,#ffc,#ffffe2)"></i><i style="left:272px;top:263px;width:70px;height:2px;background:linear-gradient(90deg,#fffff9,#fffff7,#fffff4,#ffffef,#ffffe6,#ffffd8,#ffffc1,#ffff98,#fffb5b,#fff422,#fe0,#ffea00,#fff529,#fffe78,#ffffb3,#ffffcf,#ffffd9,#ffffdb,#ffffd2,#ffffbe,#ffffb0,#ffffbc,#ffffd5,#ffffe6)"></i><i style="left:272px;top:265px;width:70px;height:2px;background:linear-gradient(90deg,#fffffa,#fffff8,#fffff6,#fffff2,#ffffec,#ffffe2,#ffffd2,#ffffb7,#ffff8a,#fff841,#ffe100,#ffc200,#ffeb00,#fffb5e,#ffa,#ffffcd,#ffffd9,#ffd,#ffffd8,#ffffcb,#ffffc2,#ffffcb,#ffffdc,#ffffe8)"></i><i style="left:272px;top:267px;width:70px;height:2px;background:linear-gradient(90deg,#fffffa,#fffff9,#fffff7,#fffff4,#fffff0,#ffffe9,#ffffde,#ffc,#ffa,#fffc6a,#fff317,#ffe000,#fff316,#fffd6c,#ffffaf,#ffffcf,#ffffdb,#ffffdf,#ffd,#ffffd5,#ffffd0,#ffffd6,#ffffe2,#ffffeb)"></i><i style="left:272px;top:269px;width:70px;height:2px;background:linear-gradient(90deg,#fffffa,#fffff9,#fffff8,#fffff6,#fffff3,#ffe,#ffffe7,#ffffdb,#ffffc6,#ffff9f,#fffd6c,#fffa51,#fffc67,#ffff98,#ffffbf,#ffffd3,#ffd,#ffffe1,#ffffe1,#ffd,#ffffdb,#ffffdf,#ffffe7,#ffffed)"></i><i style="left:272px;top:291px;width:70px;height:2px;background:linear-gradient(90deg,#fffff1,#ffffec,#ffffe5,#ffffdf,#ffffdc,#ffd,#ffffe1,#ffffe4,#ffffe5,#ffffe5,#ffffe5,#ffffe4,#ffffe3,#ffffe3,#ffffe2,#ffffe2,#ffffe3,#ffffe3,#ffffe4,#ffffe5,#ffffe7,#ffffe9,#ffffeb,#ffffed)"></i><i style="left:272px;top:293px;width:70px;height:2px;background:linear-gradient(90deg,#fffff0,#ffffe9,#ffffe1,#ffffd9,#ffffd5,#ffffd7,#ffffdc,#ffffe0,#ffffe2,#ffffe3,#ffffe2,#ffffe1,#ffffe0,#ffffdf,#ffffde,#ffd,#ffd,#ffd,#ffffde,#ffffe0,#ffffe2,#ffffe4,#ffffe7,#ffffea)"></i><i style="left:272px;top:295px;width:70px;height:2px;background:linear-gradient(90deg,#ffffed,#ffffe5,#ffffdb,#ffffd1,#ffffcd,#ffffd0,#ffffd6,#ffffdc,#ffffdf,#ffffe0,#ffffdf,#ffffde,#ffffdc,#ffffda,#ffffd7,#ffffd5,#ffffd3,#ffffd2,#ffffd2,#ffffd2,#ffffd5,#ffffdb,#ffffe1,#ffffe6)"></i><i style="left:272px;top:297px;width:70px;height:2px;background:linear-gradient(90deg,#ffffeb,#ffffe1,#ffffd5,#ffffc9,#ffffc4,#ffffc8,#ffffd0,#ffffd8,#ffffdc,#ffd,#ffffdc,#ffffd9,#ffffd6,#ffffd1,#ffffcb,#ffffc5,#ffffbf,#ffb,#ffffb6,#ffffb3,#ffffb7,#ffffc2,#ffffd2,#ffffde)"></i><i style="left:272px;top:299px;width:70px;height:2px;background:linear-gradient(90deg,#ffffe9,#ffd,#ffffcd,#ffffbf,#ffffb9,#ffffbe,#ffffc9,#ffffd3,#ffffd8,#ffffd9,#ffffd8,#ffffd4,#ffffcd,#ffffc2,#ffffb5,#ffffa9,#ffff9d,#ffff90,#ffff7f,#fffd71,#fffe74,#ffff8d,#ffffb1,#ffffcf)"></i><i style="left:272px;top:301px;width:70px;height:2px;background:linear-gradient(90deg,#ffffe6,#ffffd8,#ffffc5,#ffffb4,#ffffad,#ffffb4,#ffffc2,#ffffce,#ffffd5,#ffffd6,#ffffd3,#ffffcd,#ffffc0,#ffffac,#ffff94,#ffff7e,#fffc69,#fff94e,#fff426,#fff000,#ffed00,#fff52d,#fffe78,#ffffb5)"></i><i style="left:272px;top:303px;width:70px;height:2px;background:linear-gradient(90deg,#ffffe3,#ffffd3,#ffffbc,#ffffa6,#ffff9e,#ffffa7,#ffffb9,#ffffc8,#ffffd1,#ffffd2,#ffffce,#ffffc4,#ffffaf,#ffff8f,#fffc69,#fff848,#fff529,#ffef00,#ffb800,#fd8400,#fb7d00,#ffb000,#fff52c,#ffff94)"></i><i style="left:272px;top:305px;width:70px;height:2px;background:linear-gradient(90deg,#ffffe0,#ffc,#ffffb0,#ffff93,#ff8,#ffff96,#ffffaf,#ffffc3,#ffffcd,#ffffce,#ffffc9,#ffffba,#ffff9c,#fffd6e,#fff73b,#fff211,#ffe300,#ffba00,#fb7c00,#ef4c00,#ea4200,#f76e00,#ffdf00,#fffe77)"></i><i style="left:272px;top:307px;width:70px;height:2px;background:linear-gradient(90deg,#ffd,#ffffc6,#ffffa0,#fffe76,#fffc65,#ffff7e,#ffffa3,#ffffbc,#ffffc9,#ffffcb,#ffffc4,#ffffb1,#ffff8b,#fffa51,#fff214,#ffde00,#ffc800,#ffa500,#f87000,#ea4100,#e53400,#f35d00,#fc0,#fffd6c)"></i><i style="left:272px;top:309px;width:70px;height:2px;background:linear-gradient(90deg,#ffffd9,#ffffbd,#ffff8a,#fff847,#fff52d,#fffa59,#ffff93,#ffffb6,#ffffc5,#ffffc7,#ffffbc,#ffffa8,#ffff80,#fff73f,#ffef00,#ffd200,#ffc800,#ffb700,#fe8900,#f46100,#f05100,#f97500,#ffe000,#fffe77)"></i><i style="left:272px;top:311px;width:70px;height:2px;background:linear-gradient(90deg,#ffffd6,#ffffb4,#fffd6c,#fff105,#ffd400,#fff425,#ffff7f,#ffffae,#ffffc1,#ffffbe,#ffff9e,#ffff8e,#fffe7a,#fff73d,#fff001,#ffdb00,#ffdf00,#ffe400,#ffd100,#ffab00,#ff9100,#ffae00,#fff31d,#ffff8c)"></i><i style="left:272px;top:313px;width:70px;height:2px;background:linear-gradient(90deg,#ffffd2,#ffa,#fff949,#ffb400,#fe8900,#ffdc00,#fffc68,#ffffa7,#ffffbc,#ffffaf,#fffa59,#fffa57,#fffe78,#fff94a,#fff318,#fff107,#fff318,#fff631,#fff635,#fff41f,#ffed00,#ffed00,#fff847,#ffff9f)"></i><i style="left:272px;top:315px;width:70px;height:2px;background:linear-gradient(90deg,#ffffcf,#ffffa0,#fff528,#fc8100,#f35d00,#ffae00,#fffa53,#ffffa0,#ffffb9,#ffffa6,#fff739,#fff740,#ffff7f,#fffb62,#fff73c,#fff634,#fff949,#fffc67,#fffe77,#fffd6c,#fff842,#fff529,#fffb5d,#ffffa9)"></i><i style="left:272px;top:317px;width:70px;height:2px;background:linear-gradient(90deg,#ffffcd,#ff9,#fff213,#f76b00,#ec4500,#ff9200,#fff845,#ffff9b,#ffffb6,#ffffaf,#fffd72,#fffd73,#ffff93,#ffff7c,#fffc63,#fffb60,#fffd72,#ffff8c,#ffff9c,#ffff92,#fffc63,#fff73d,#fffc67,#ffffad)"></i><i style="left:272px;top:319px;width:70px;height:2px;background:linear-gradient(90deg,#ffffcb,#ffff96,#fff211,#f76c00,#ec4700,#ff9200,#fff841,#ffff97,#ffffb4,#ffffb8,#ffffa9,#ffffa5,#ffffa4,#ffff93,#ffff85,#ffff83,#ffff90,#ffffa2,#ffffad,#ffffa2,#fffd72,#fff94a,#fffd6e,#ffffb0)"></i><i style="left:272px;top:321px;width:70px;height:2px;background:linear-gradient(90deg,#ffffc9,#ffff96,#fff41f,#fc8100,#f45f00,#fa0,#fff847,#ffff95,#ffffb2,#ffffba,#ffffb9,#ffffb4,#ffffae,#ffffa4,#ffff9c,#ffff9c,#ffffa4,#ffffae,#ffffb5,#ffa,#ffff7f,#fffb5b,#fffe7a,#ffffb4)"></i><i style="left:272px;top:323px;width:70px;height:2px;background:linear-gradient(90deg,#ffffc8,#ff9,#fff636,#ffac00,#fd8500,#ffcf00,#fffa52,#ffff95,#ffffb0,#ffffb9,#ffffb9,#ffffb7,#ffffb2,#ffffad,#ffffa9,#ffa,#ffffae,#ffffb4,#ffffb8,#ffffaf,#ffff8d,#fffd70,#ffff8a,#ffffb9)"></i><i style="left:272px;top:325px;width:70px;height:2px;background:linear-gradient(90deg,#ffffc8,#ffff9c,#fff94c,#ffdc00,#ffbe00,#fff002,#fffb5d,#ffff95,#ffffaf,#ffffb8,#ffffb9,#ffffb7,#ffffb4,#ffffb1,#ffffb0,#ffffb0,#ffffb3,#ffffb7,#ffffb9,#ffffb3,#ffff9b,#ff8,#ffff9b,#ffffbe)"></i><i style="left:272px;top:327px;width:70px;height:2px;background:linear-gradient(90deg,#ffffc8,#ffff9f,#fffb5d,#fff213,#ffea00,#fff424,#fffc66,#ffff96,#ffffae,#ffffb7,#ffffb8,#ffffb6,#ffffb4,#ffffb3,#ffffb2,#ffffb3,#ffffb5,#ffffb7,#ffffb9,#ffffb6,#ffffa8,#ffff9d,#ffffab,#ffffc4)"></i><i style="left:272px;top:329px;width:70px;height:2px;background:linear-gradient(90deg,#ffffc9,#ffffa2,#fffc69,#fff630,#fff31b,#fff739,#fffd6d,#ffff97,#ffffae,#ffffb6,#ffffb7,#ffffb6,#ffffb4,#ffffb3,#ffffb3,#ffffb3,#ffffb5,#ffffb7,#ffffb9,#ffffb9,#ffffb2,#ffffad,#ffffb7,#ffffc8)"></i><i style="left:272px;top:331px;width:70px;height:2px;background:linear-gradient(90deg,#ffffc9,#ffffa5,#fffd71,#fff841,#fff62f,#fff847,#fffd73,#ff9,#ffffae,#ffffb6,#ffffb7,#ffffb5,#ffffb4,#ffffb3,#ffffb3,#ffffb3,#ffffb5,#ffffb7,#ffffb9,#ffb,#ffffb9,#ffffb8,#ffffc0,#ffffcb)"></i><i style="left:272px;top:333px;width:70px;height:2px;background:linear-gradient(90deg,#ffffcb,#ffffa8,#fffe78,#fff94d,#fff73d,#fff951,#fffe78,#ffff9b,#ffffaf,#ffffb6,#ffffb7,#ffffb5,#ffffb4,#ffffb3,#ffffb3,#ffffb3,#ffffb5,#ffffb7,#ffffba,#ffffbc,#ffffbd,#ffffbf,#ffffc5,#ffc)"></i><i style="left:272px;top:335px;width:70px;height:2px;background:linear-gradient(90deg,#ffc,#ffffac,#ffff7f,#fffa57,#fff848,#fffb5a,#ffff7d,#ffff9d,#ffffb0,#ffffb6,#ffffb7,#ffffb5,#ffffb4,#ffffb3,#ffffb3,#ffffb3,#ffffb5,#ffffb7,#ffffba,#ffffbd,#ffffbf,#ffffc2,#ffffc8,#ffffcd)"></i><i style="left:272px;top:337px;width:70px;height:2px;background:linear-gradient(90deg,#ffffcd,#ffffaf,#ffff86,#fffb60,#fffa52,#fffb61,#ffff81,#ffff9e,#ffffae,#ffffb4,#ffffb4,#ffffb3,#ffffb2,#ffffb1,#ffffb2,#ffffb3,#ffffb4,#ffffb7,#ffffba,#ffffbd,#ffffc1,#ffffc4,#ffffc9,#ffffce)"></i><i style="left:272px;top:339px;width:70px;height:2px;background:linear-gradient(90deg,#ffc,#ffffb0,#ffff89,#fffc66,#fffa57,#fffc64,#ffff7f,#ffff98,#ffffa7,#ffffac,#ffffac,#ffffab,#ffffab,#ffffab,#ffffac,#ffffae,#ffffb1,#ffffb4,#ffffb8,#ffffbd,#ffffc1,#ffffc5,#ffffca,#ffffcf)"></i><i style="left:272px;top:341px;width:70px;height:2px;background:linear-gradient(90deg,#ffffc7,#ffa,#ffff85,#fffb62,#fffa52,#fffb5a,#fffd70,#ffff84,#ffff90,#ffff95,#ffff96,#ffff96,#ffff96,#ffff97,#ff9,#ffff9d,#ffffa2,#ffffa9,#ffffb0,#ffffb8,#ffffbf,#ffffc5,#ffffca,#ffffcf)"></i><i style="left:272px;top:343px;width:70px;height:2px;background:linear-gradient(90deg,#ffffbc,#ffff9e,#fffe77,#fffa53,#fff73f,#fff841,#fff94f,#fffb5f,#fffc68,#fffd6b,#fffd6c,#fffd6c,#fffd6b,#fffc6a,#fffd6b,#fffd70,#fffe7a,#ffff89,#ff9,#ffffa9,#ffffb7,#ffffc1,#ffffc9,#ffffcf)"></i><i style="left:272px;top:345px;width:70px;height:2px;background:linear-gradient(90deg,#ffffae,#ffff8e,#fffc65,#fff73b,#fff423,#fff420,#fff528,#fff631,#fff637,#fff739,#fff738,#fff635,#fff62f,#fff528,#fff424,#fff528,#fff738,#fffa53,#fffd73,#ffff91,#ffffa9,#ffb,#ffffc7,#ffffcf)"></i><i style="left:272px;top:347px;width:70px;height:2px;background:linear-gradient(90deg,#ffffa6,#ffff85,#fffb5b,#fff31b,#fff003,#fff20f,#fff212,#fff316,#fff317,#fff214,#fff210,#fff20d,#fff105,#ffea00,#ffe300,#ffe500,#fff106,#fff52a,#fffa55,#ffff7f,#ffffa0,#ffffb7,#ffffc6,#ffffcf)"></i><i style="left:272px;top:349px;width:70px;height:2px;background:linear-gradient(90deg,#ffffac,#ffff8e,#fffc66,#fff20e,#ffeb00,#fff41f,#fff421,#fff420,#fff215,#ffed00,#ffe500,#fff002,#fff10c,#fff107,#fff000,#fff003,#fff316,#fff637,#fffb5f,#ffff86,#ffffa5,#ffffba,#ffffc8,#ffffd1)"></i><i style="left:272px;top:351px;width:70px;height:2px;background:linear-gradient(90deg,#ffffbc,#ffffa4,#ffff86,#fff94e,#fff73d,#fff94e,#fff94f,#fff94f,#fff842,#fff529,#fff420,#fff635,#fff846,#fff949,#fff848,#fff94c,#fffb5a,#fffd70,#ffff89,#ffffa1,#ffffb5,#ffffc3,#ffffcd,#ffffd4)"></i><i style="left:272px;top:353px;width:70px;height:2px;background:linear-gradient(90deg,#ffffce,#ffffbd,#ffffa9,#ffff91,#ffff84,#ffff83,#ffff85,#ff8,#ffff87,#ffff83,#ffff82,#ffff86,#ffff89,#ffff8b,#ffff8d,#ffff92,#ff9,#ffffa4,#ffffb0,#ffb,#ffffc5,#ffffcd,#ffffd3,#ffffd8)"></i><i style="left:361px;top:39px;width:70px;height:2px;background:linear-gradient(90deg,#fffff3,#ffffef,#ffffec,#ffffe9,#ffffe0,#ffffcf,#ffffb2,#ffff90,#fffe7b,#ffff7e,#ffff8b,#ffff8b,#ffff7e,#fffd6e,#fffc68,#fffd70,#ffff82,#ffff98,#ffffaf,#ffffc4,#ffffce,#ffffb1,#ffff98,#ffc)"></i><i style="left:361px;top:41px;width:70px;height:2px;background:linear-gradient(90deg,#fffff0,#ffffea,#ffffe3,#ffffd8,#ffffc3,#ffff9d,#fffc64,#fff423,#fff000,#fff20f,#fff631,#fff73a,#fff527,#fff20d,#fff002,#fff109,#fff31c,#fff635,#fffa52,#fffe77,#ffff93,#fffd6d,#fff94e,#ffffaf)"></i><i style="left:361px;top:43px;width:70px;height:2px;background:linear-gradient(90deg,#ffffec,#ffffe1,#ffffd1,#ffffb7,#ffff8a,#fff950,#fff20e,#ffc800,#ffb000,#ffc400,#ffe700,#fff001,#ffde00,#ffc600,#ffb800,#ffb500,#ffb400,#ffb300,#ffbf00,#ffe500,#fff52d,#fff214,#fe0,#ffff90)"></i><i style="left:361px;top:45px;width:70px;height:2px;background:linear-gradient(90deg,#ffffe5,#ffffd0,#ffffb0,#ffff7c,#fff632,#ffe200,#ffc500,#ffbc00,#ffc400,#fd0,#fff107,#fff108,#ffe200,#ffcb00,#ffbc00,#ffad00,#ff9200,#fb7c00,#f97500,#ff8b00,#ffcd00,#ffcf00,#ffcd00,#ffff7e)"></i><i style="left:361px;top:47px;width:70px;height:2px;background:linear-gradient(90deg,#ffffda,#ffffb1,#fffe75,#fff425,#ffc300,#ff9100,#ff9c00,#ffd000,#fff31a,#fff842,#fff94f,#fff844,#fff52e,#fff31a,#fff10c,#ffe700,#ffc200,#ff9400,#fd8200,#ff9800,#ffd500,#ffde00,#ffe200,#ffff85)"></i><i style="left:361px;top:49px;width:70px;height:2px;background:linear-gradient(90deg,#ffffc5,#fffe78,#fff212,#ffb500,#fc8100,#f87000,#ff8a00,#ffe700,#fffb5b,#ffff8c,#ffff94,#ffff89,#fffe7a,#fffd71,#fffd6b,#fffb5e,#fff73f,#fff317,#fff001,#fff214,#fff841,#fff73e,#fff636,#ffff9b)"></i><i style="left:361px;top:51px;width:70px;height:2px;background:linear-gradient(90deg,#ffffa5,#fff420,#ff8d00,#f56600,#f56500,#f97400,#ffa400,#fff31c,#ffff83,#ffffb3,#ffffbd,#ffffb7,#ffffb1,#ffffae,#ffffad,#ffa,#ffffa0,#ffff92,#ffff8a,#ffff92,#ffffa0,#ffff8c,#fffe76,#ffffae)"></i><i style="left:361px;top:53px;width:70px;height:2px;background:linear-gradient(90deg,#ffff81,#ffba00,#eb4400,#e32f00,#f35d00,#ff9b00,#ffe700,#fffa58,#ffffa4,#ffffc7,#ffffcf,#ffffce,#ffffcb,#ffffca,#ffffcb,#ffc,#ffffcb,#ffffc9,#ffffc8,#ffffcb,#ffffcb,#ffffb1,#ffff94,#ffffb5)"></i><i style="left:361px;top:55px;width:70px;height:2px;background:linear-gradient(90deg,#fffc66,#fe8700,#db1d00,#d71a00,#f66700,#ffe100,#fffa52,#ffff93,#ffffbe,#ffffd1,#ffffd6,#ffffd5,#ffffd4,#ffffd3,#ffffd4,#ffffd4,#ffffd5,#ffffd6,#ffffd7,#ffffd9,#ffffd5,#ffffb9,#ff9,#ffffb3)"></i><i style="left:361px;top:57px;width:70px;height:2px;background:linear-gradient(90deg,#fffb60,#fe8700,#de2300,#df2700,#fe8700,#fff739,#ffff93,#ffffba,#ffffce,#ffffd6,#ffffd7,#ffffd6,#ffffd5,#ffffd4,#ffffd4,#ffffd5,#ffffd6,#ffffd7,#ffffd8,#ffffda,#ffffd5,#ffffb6,#ffff94,#ffffae)"></i><i style="left:361px;top:59px;width:70px;height:2px;background:linear-gradient(90deg,#fffd6d,#ffb200,#f15400,#f46000,#ffd000,#fffd71,#ffffb5,#ffc,#ffffd4,#ffffd3,#ffffd2,#ffffd3,#ffffd3,#ffffd3,#ffffd3,#ffffd3,#ffffd4,#ffffd5,#ffffd6,#ffffd8,#ffffd2,#ffffb2,#ffff8b,#ffffa7)"></i><i style="left:361px;top:61px;width:70px;height:2px;background:linear-gradient(90deg,#ffff7f,#ffeb00,#ffa000,#fb0,#fff635,#ffff96,#ffffc1,#ffffd1,#ffffce,#ffffb2,#ffffab,#ffffc7,#ffffd1,#ffffd1,#ffffd1,#ffffd1,#ffffd2,#ffffd3,#ffffd5,#ffffd6,#ffffd0,#ffffad,#ffff84,#ffffa2)"></i><i style="left:361px;top:63px;width:70px;height:2px;background:linear-gradient(90deg,#ffff8a,#fff52b,#ffef00,#fff529,#fffd73,#ffffa9,#ffffc5,#ffffd0,#ffffc2,#fffe76,#fffc64,#ffffb3,#ffffce,#ffffcf,#ffffcf,#ffffcf,#ffffd0,#ffffd1,#ffffd3,#ffffd4,#ffffce,#ffffa9,#ffff7d,#ffff9d)"></i><i style="left:361px;top:65px;width:70px;height:2px;background:linear-gradient(90deg,#ffff8c,#fff73e,#fff52c,#fffb5a,#ffff8e,#ffffaf,#ffffc4,#ffffce,#ffffc6,#ffff94,#ffff87,#ffb,#ffffcd,#ffffcd,#ffffcd,#ffffcd,#ffffce,#ffffcf,#ffffd1,#ffffd2,#ffc,#ffffa5,#fffe78,#ff9)"></i><i style="left:361px;top:67px;width:70px;height:2px;background:linear-gradient(90deg,#ffff89,#fff73f,#fff635,#fffc66,#ffff94,#ffffae,#ffffc1,#ffffcd,#ffffcf,#ffffc6,#ffffc3,#ffffca,#ffc,#ffffcb,#ffffcb,#ffc,#ffc,#ffffce,#ffffcf,#ffffd1,#ffffcb,#ffffa3,#fffe76,#ffff97)"></i><i style="left:361px;top:69px;width:70px;height:2px;background:linear-gradient(90deg,#ffff85,#fff739,#fff631,#fffc63,#ffff91,#ffffab,#ffffbf,#ffffcb,#ffffd0,#ffffcf,#ffffcd,#ffc,#ffffcb,#ffffca,#ffffca,#ffffca,#ffffcb,#ffc,#ffffce,#ffffd0,#ffffc9,#ffffa2,#fffe75,#ffff96)"></i><i style="left:361px;top:71px;width:70px;height:2px;background:linear-gradient(90deg,#ffff82,#fff633,#fff529,#fffb5c,#ffff8c,#ffffa8,#ffffbc,#ffffca,#ffffce,#ffffce,#ffc,#ffffcb,#ffffc9,#ffffc9,#ffffc8,#ffffc9,#ffffca,#ffffcb,#ffffcd,#ffffcf,#ffffc9,#ffffa2,#fffe76,#ffff97)"></i><i style="left:361px;top:73px;width:70px;height:2px;background:linear-gradient(90deg,#ffff81,#fff52e,#fff420,#fffa54,#ffff87,#ffffa5,#ffb,#ffffc9,#ffffcd,#ffffcd,#ffc,#ffffca,#ffffc8,#ffffc8,#ffffc7,#ffffc8,#ffffc9,#ffffca,#ffc,#ffffce,#ffffc8,#ffffa4,#fffe79,#ff9)"></i><i style="left:361px;top:75px;width:70px;height:2px;background:linear-gradient(90deg,#ffff81,#fff52a,#fff317,#fff94b,#ffff82,#ffffa3,#ffffba,#ffffc8,#ffffcd,#ffffcd,#ffffcb,#ffffc9,#ffffc8,#ffffc7,#ffffc7,#ffffc7,#ffffc8,#ffffc9,#ffffcb,#ffffcd,#ffffc8,#ffffa6,#ffff7e,#ffff9c)"></i><i style="left:361px;top:77px;width:70px;height:2px;background:linear-gradient(90deg,#ffff81,#fff425,#fff10c,#fff840,#ffff7d,#ffffa2,#ffffba,#ffffc7,#ffc,#ffc,#ffffca,#ffffc9,#ffffc7,#ffffc6,#ffffc6,#ffffc6,#ffffc7,#ffffc9,#ffffcb,#ffffcd,#ffffc8,#ffffa9,#ffff84,#ffffa0)"></i><i style="left:361px;top:79px;width:70px;height:2px;background:linear-gradient(90deg,#ffff81,#fff420,#ffef00,#fff634,#fffe78,#ffffa1,#ffffba,#ffffc8,#ffc,#ffc,#ffffca,#ffffc8,#ffffc7,#ffffc6,#ffffc6,#ffffc6,#ffffc7,#ffffc9,#ffffcb,#ffc,#ffffc9,#ffffac,#ffff8c,#ffffa5)"></i><i style="left:361px;top:81px;width:70px;height:2px;background:linear-gradient(90deg,#ffff82,#fff31b,#ffe600,#fff529,#fffe73,#ffffa2,#ffb,#ffffc8,#ffc,#ffc,#ffffca,#ffffc8,#ffffc7,#ffffc6,#ffffc6,#ffffc6,#ffffc7,#ffffc9,#ffffcb,#ffffcd,#ffffc9,#ffffb1,#ffff94,#ffffab)"></i><i style="left:361px;top:83px;width:70px;height:2px;background:linear-gradient(90deg,#ffff84,#fff319,#ffdf00,#fff420,#fffd71,#ffffa3,#ffffbc,#ffffc9,#ffffcd,#ffc,#ffffca,#ffffc9,#ffffc7,#ffffc6,#ffffc6,#ffffc7,#ffffc7,#ffffc9,#ffffcb,#ffffcd,#ffffca,#ffffb5,#ffff9c,#ffffb1)"></i><i style="left:361px;top:85px;width:70px;height:2px;background:linear-gradient(90deg,#ffff89,#fff31d,#ffde00,#fff31e,#fffd72,#ffffa6,#ffffbe,#ffffca,#ffffcd,#ffffcd,#ffffcb,#ffffc9,#ffffc8,#ffffc7,#ffffc7,#ffffc7,#ffffc8,#ffffc9,#ffffcb,#ffffcd,#ffc,#ffffba,#ffffa5,#ffffb7)"></i><i style="left:361px;top:87px;width:70px;height:2px;background:linear-gradient(90deg,#ffff90,#fff527,#ffe500,#fff423,#fffe75,#ffffa9,#ffffc1,#ffffcb,#ffffce,#ffffcd,#ffc,#ffffca,#ffffc9,#ffffc8,#ffffc8,#ffffc8,#ffffc9,#ffffca,#ffc,#ffffce,#ffffcd,#ffffbe,#ffffad,#ffffbd)"></i><i style="left:361px;top:89px;width:70px;height:2px;background:linear-gradient(90deg,#ff9,#fff738,#fff001,#fff52a,#fffe76,#ffffa8,#ffffc0,#ffc,#ffffcf,#ffffce,#ffffcd,#ffffcb,#ffffca,#ffffc9,#ffffc9,#ffffc9,#ffffca,#ffffcb,#ffffcd,#ffffcf,#ffffcf,#ffffc3,#ffffb5,#ffffc3)"></i><i style="left:361px;top:91px;width:70px;height:2px;background:linear-gradient(90deg,#ffffa3,#fff848,#fff10b,#fff420,#fffb5d,#ffff91,#ffffb3,#ffffc6,#ffffcd,#ffffce,#ffc,#ffffcb,#ffffca,#ffffca,#ffffc9,#ffffca,#ffffcb,#ffc,#ffffce,#ffffd0,#ffffcf,#ffffc6,#ffffbc,#ffffc8)"></i><i style="left:361px;top:93px;width:70px;height:2px;background:linear-gradient(90deg,#ffa,#fff94d,#ffe900,#ffd700,#fff003,#fff843,#ffff83,#ffffad,#ffffbe,#ffffc2,#ffffc3,#ffffc4,#ffffc5,#ffffc6,#ffffc7,#ffffc8,#ffffca,#ffffcb,#ffffcd,#ffffcd,#ffffc9,#ffffc2,#ffffbd,#ffffcb)"></i><i style="left:361px;top:95px;width:70px;height:2px;background:linear-gradient(90deg,#ffffad,#fff847,#ffc600,#fe8700,#fe8600,#ffbe00,#fff425,#fffc69,#ffff84,#ffff8d,#ffff95,#ffff9e,#ffffa8,#ffffb0,#ffffb5,#ffffba,#ffffbd,#ffffbf,#ffffbe,#ffffb5,#ffffa7,#ffff9e,#ffffa9,#ffffc4)"></i><i style="left:361px;top:97px;width:70px;height:2px;background:linear-gradient(90deg,#ffffb2,#fff94d,#ffbc00,#f87000,#f45f00,#fc7e00,#ffc400,#fff109,#fff420,#fff52a,#fff73a,#fff950,#fffc67,#fffe7a,#ff8,#ffff92,#ffff98,#ffff97,#ffff8d,#fffd73,#fffa52,#fff94d,#fffe77,#ffffb0)"></i><i style="left:361px;top:99px;width:70px;height:2px;background:linear-gradient(90deg,#ffffbf,#fffd72,#fff001,#ffa000,#fd8500,#ff9a00,#ffc900,#ffe500,#ffea00,#ffed00,#fff10b,#fff423,#fff73d,#fffa53,#fffc65,#fffd72,#fffe77,#fffd72,#fffb5e,#fff73b,#fff317,#fff31d,#fffb5a,#ffffa4)"></i><i style="left:361px;top:101px;width:70px;height:2px;background:linear-gradient(90deg,#ffffd2,#ffffa7,#fffd6b,#fff635,#fff41e,#fff52a,#fff841,#fff94b,#fff848,#fff846,#fff94c,#fffa58,#fffc66,#fffe74,#ffff80,#ffff89,#ffff8e,#ffff8d,#ffff82,#fffd6e,#fffb5d,#fffc64,#ffff8b,#ffffba)"></i><i style="left:361px;top:123px;width:70px;height:2px;background:linear-gradient(90deg,#ffffd1,#ffffac,#ffff8c,#ffff7e,#ffff80,#ffff8c,#ff9,#ffffa4,#ffffaf,#ffffbe,#ffffcf,#ffffdf,#ffffec,#fffff4,#fffff9,#fffffc,#fffffc,#fffffa,#fffffb,#fffffe,#fff,#fff,#fff,#fff)"></i><i style="left:361px;top:125px;width:70px;height:2px;background:linear-gradient(90deg,#ffff97,#fff739,#ffda00,#ffbc00,#ffc400,#ffe400,#fff41f,#fff844,#fffc63,#ffff82,#ffffa4,#ffffc4,#ffd,#ffffed,#fffff6,#fffff9,#ffffe8,#ffffb4,#ffffc2,#fffff3,#fffffe,#fff,#fff,#fff)"></i><i style="left:361px;top:127px;width:70px;height:2px;background:linear-gradient(90deg,#fff94a,#ffa400,#f15400,#e83c00,#ed4700,#f76e00,#ffa400,#fd0,#fff31d,#fff94d,#ffff7f,#ffffac,#ffffcf,#ffffe6,#fffff3,#fffff8,#ffffe3,#ffffa4,#ffffb5,#fffff1,#fffffe,#fff,#fff,#fff)"></i><i style="left:361px;top:129px;width:70px;height:2px;background:linear-gradient(90deg,#fff31b,#f86f00,#e02700,#d71b00,#e12b00,#f25700,#ff8d00,#ffd100,#fff214,#fff848,#fffe7b,#ffffa9,#ffffcd,#ffffe5,#fffff2,#fffff8,#fffffa,#fffff6,#fffff8,#fffffd,#fff,#fff,#fff,#fff)"></i><i style="left:361px;top:131px;width:70px;height:2px;background:linear-gradient(90deg,#fff423,#fa7600,#e93e00,#ec4600,#f66800,#ff9700,#ffda00,#fff423,#fff94f,#fffe74,#ffff9a,#ffffbd,#ffffd7,#ffffe9,#fffff3,#fffff9,#fffffc,#fffffd,#fffffe,#fffffe,#fff,#fff,#fff,#fff)"></i><i style="left:361px;top:133px;width:70px;height:2px;background:linear-gradient(90deg,#fff73e,#ff9300,#f87100,#ffa300,#fe0,#fff73b,#fffc66,#ffff84,#ff9,#ffffad,#ffffc2,#ffffd5,#ffffe4,#ffffef,#fffff5,#fffff9,#fffffc,#fffffd,#fffffe,#fffffe,#fff,#fff,#fff,#fff)"></i><i style="left:361px;top:135px;width:70px;height:2px;background:linear-gradient(90deg,#fff94f,#ffb000,#ff9800,#fff108,#fffd72,#ffffa0,#ffffb5,#ffffc0,#ffffc9,#ffffd1,#ffffdb,#ffffe4,#ffffec,#fffff2,#fffff7,#fffff9,#fffffb,#fffffd,#fffffe,#fffffe,#fff,#fff,#fff,#fff)"></i><i style="left:361px;top:137px;width:70px;height:2px;background:linear-gradient(90deg,#fffb5a,#ffc600,#ffb700,#fff62f,#ffff96,#ffffc0,#ffffcf,#ffffd6,#ffffda,#ffffdf,#ffffe5,#ffffea,#ffffef,#fffff3,#fffff7,#fffff9,#fffffb,#fffffd,#fffffe,#fffffe,#fff,#fff,#fff,#fff)"></i><i style="left:361px;top:139px;width:70px;height:2px;background:linear-gradient(90deg,#fffc6a,#ffe500,#ffd700,#fff843,#ffff9b,#ffffc3,#ffffd3,#ffffda,#ffffde,#ffffe2,#ffffe6,#ffffeb,#ffffef,#fffff3,#fffff6,#fffff9,#fffffb,#fffffc,#fffffd,#fffffe,#fffffe,#fff,#fff,#fff)"></i><i style="left:361px;top:141px;width:70px;height:2px;background:linear-gradient(90deg,#fffe7b,#fff41e,#fff10c,#fffa53,#ffff9a,#ffffc1,#ffffd2,#ffffd9,#ffd,#ffffe1,#ffffe6,#ffffea,#ffffef,#fffff3,#fffff6,#fffff9,#fffffb,#fffffc,#fffffd,#fffffe,#fffffe,#fff,#fff,#fff)"></i><i style="left:361px;top:143px;width:70px;height:2px;background:linear-gradient(90deg,#ffff89,#fff840,#fff52e,#fffb5e,#ffff98,#ffffbe,#ffffd0,#ffffd8,#ffd,#ffffe1,#ffffe5,#ffffea,#ffe,#fffff2,#fffff6,#fffff9,#fffffb,#fffffc,#fffffd,#fffffe,#fffffe,#fff,#fff,#fff)"></i><i style="left:361px;top:145px;width:70px;height:2px;background:linear-gradient(90deg,#ffff8f,#fffa54,#fff841,#fffc63,#ffff95,#ffb,#ffffcf,#ffffd8,#ffd,#ffffe1,#ffffe5,#ffffea,#ffe,#fffff2,#fffff6,#fffff9,#fffffb,#fffffc,#fffffd,#fffffe,#fffffe,#fff,#fff,#fff)"></i><i style="left:361px;top:147px;width:70px;height:2px;background:linear-gradient(90deg,#ffff90,#fffb5a,#fff846,#fffb62,#ffff92,#ffffb9,#ffffcf,#ffffd8,#ffd,#ffffe1,#ffffe5,#ffffea,#ffe,#fffff3,#fffff6,#fffff9,#fffffb,#fffffc,#fffffd,#fffffe,#fffffe,#fff,#fff,#fff)"></i><i style="left:361px;top:149px;width:70px;height:2px;background:linear-gradient(90deg,#ffff8f,#fffb5a,#fff845,#fffb5f,#ffff8f,#ffffb8,#ffffcf,#ffffd9,#ffffde,#ffffe2,#ffffe6,#ffffeb,#ffffef,#fffff3,#fffff6,#fffff9,#fffffb,#fffffc,#fffffd,#fffffe,#fffffe,#fff,#fff,#fff)"></i><i style="left:361px;top:151px;width:70px;height:2px;background:linear-gradient(90deg,#ffff8d,#fffa57,#fff843,#fffb5c,#ffff8e,#ffffb9,#ffffd1,#ffffdb,#ffffe0,#ffffe3,#ffffe8,#ffffec,#fffff0,#fffff4,#fffff7,#fffff9,#fffffb,#fffffd,#fffffd,#fffffe,#fffffe,#fff,#fff,#fff)"></i><i style="left:361px;top:153px;width:70px;height:2px;background:linear-gradient(90deg,#ffff8d,#fffa56,#fff842,#fffb5c,#ffff8f,#ffffba,#ffffd3,#ffd,#ffffe2,#ffffe5,#ffffe9,#ffffed,#fffff1,#fffff4,#fffff7,#fffffa,#fffffb,#fffffd,#fffffe,#fffffe,#fff,#fff,#fff,#fff)"></i><i style="left:361px;top:155px;width:70px;height:2px;background:linear-gradient(90deg,#ffff8e,#fffa58,#fff843,#fffb5e,#ffff91,#ffffbd,#ffffd5,#ffffe0,#ffffe4,#ffffe7,#ffffeb,#ffffef,#fffff2,#fffff5,#fffff8,#fffffa,#fffffc,#fffffd,#fffffe,#fffffe,#fff,#fff,#fff,#fff)"></i><i style="left:361px;top:157px;width:70px;height:2px;background:linear-gradient(90deg,#ffff91,#fffb5b,#fff847,#fffb62,#ffff95,#ffffc0,#ffffd8,#ffffe2,#ffffe7,#ffffea,#ffffed,#fffff0,#fffff3,#fffff6,#fffff9,#fffffb,#fffffc,#fffffd,#fffffe,#fffffe,#fff,#fff,#fff,#fff)"></i><i style="left:361px;top:159px;width:70px;height:2px;background:linear-gradient(90deg,#ffff95,#fffb60,#fff94d,#fffc68,#ffff9a,#ffffc4,#ffffdc,#ffffe5,#ffffea,#ffffec,#ffffef,#fffff2,#fffff5,#fffff7,#fffff9,#fffffb,#fffffc,#fffffd,#fffffe,#fffffe,#fff,#fff,#fff,#fff)"></i><i style="left:361px;top:161px;width:70px;height:2px;background:linear-gradient(90deg,#ff9,#fffc65,#fffa52,#fffd6e,#ffff9f,#ffffc8,#ffffdf,#ffffe8,#ffffec,#ffffef,#fffff1,#fffff4,#fffff6,#fffff8,#fffffa,#fffffc,#fffffd,#fffffe,#fffffe,#fffffe,#fff,#fff,#fff,#fff)"></i><i style="left:361px;top:163px;width:70px;height:2px;background:linear-gradient(90deg,#ffff9d,#fffc66,#fffa54,#fffe73,#ffffa3,#ffffca,#ffffe1,#ffffea,#ffffef,#fffff1,#fffff3,#fffff5,#fffff7,#fffff9,#fffffb,#fffffc,#fffffd,#fffffe,#fffffe,#fff,#fff,#fff,#fff,#fff)"></i><i style="left:361px;top:165px;width:70px;height:2px;background:linear-gradient(90deg,#ffffa0,#fffb62,#fff94f,#fffe75,#ffffa6,#ffffcb,#ffffe1,#ffffec,#fffff1,#fffff3,#fffff5,#fffff7,#fffff9,#fffffa,#fffffc,#fffffd,#fffffd,#fffffe,#fffffe,#fff,#fff,#fff,#fff,#fff)"></i><i style="left:361px;top:167px;width:70px;height:2px;background:linear-gradient(90deg,#ffff9f,#fffa55,#fff841,#fffd70,#ffffa4,#ffffc9,#ffffe0,#ffffec,#fffff2,#fffff5,#fffff7,#fffff8,#fffffa,#fffffb,#fffffc,#fffffd,#fffffe,#fffffe,#fffffe,#fff,#fff,#fff,#fff,#fff)"></i><i style="left:361px;top:169px;width:70px;height:2px;background:linear-gradient(90deg,#ffff9b,#fff842,#fff52b,#fffc66,#ffff9f,#ffffc4,#ffffdc,#ffffeb,#fffff2,#fffff6,#fffff8,#fffffa,#fffffb,#fffffc,#fffffd,#fffffd,#fffffe,#fffffe,#fff,#fff,#fff,#fff,#fff,#fff)"></i><i style="left:361px;top:171px;width:70px;height:2px;background:linear-gradient(90deg,#ffff97,#fff52c,#fff211,#fffa59,#ffff96,#ffffbc,#ffffd7,#ffffe9,#fffff2,#fffff7,#fffff9,#fffffb,#fffffc,#fffffd,#fffffd,#fffffe,#fffffe,#fffffe,#fff,#fff,#fff,#fff,#fff,#fff)"></i><i style="left:361px;top:173px;width:70px;height:2px;background:linear-gradient(90deg,#ffff94,#fff31c,#fe0,#fff94d,#ffff8d,#ffffb3,#ffffd1,#ffffe6,#fffff2,#fffff8,#fffffa,#fffffc,#fffffc,#fffffd,#fffffe,#fffffe,#fffffe,#fff,#fff,#fff,#fff,#fff,#fff,#fff)"></i><i style="left:361px;top:175px;width:70px;height:2px;background:linear-gradient(90deg,#ffff95,#fff318,#ffe900,#fff848,#ffff87,#ffffad,#ffffcd,#ffffe4,#fffff2,#fffff8,#fffffb,#fffffc,#fffffd,#fffffe,#fffffe,#fffffe,#fff,#fff,#fff,#fff,#fff,#fff,#fff,#fff)"></i><i style="left:361px;top:177px;width:70px;height:2px;background:linear-gradient(90deg,#ffff9d,#fff426,#fff105,#fff94e,#ffff87,#ffffab,#ffffcb,#ffffe4,#fffff2,#fffff9,#fffffc,#fffffd,#fffffe,#fffffe,#fffffe,#fffffe,#fff,#fff,#fff,#fff,#fff,#fff,#fff,#fff)"></i><i style="left:361px;top:179px;width:70px;height:2px;background:linear-gradient(90deg,#ffffab,#fff844,#fff425,#fffb60,#ffff90,#ffffb0,#ffffce,#ffffe5,#fffff3,#fffffa,#fffffd,#fffffe,#fffffe,#fffffe,#fffffe,#fff,#fff,#fff,#fff,#fff,#fff,#fff,#fff,#fff)"></i><i style="left:361px;top:181px;width:70px;height:2px;background:linear-gradient(90deg,#ffffbc,#fffd6c,#fffa51,#ffff7c,#ffffa0,#ffffba,#ffffd4,#ffffe9,#fffff5,#fffffb,#fffffd,#fffffe,#fffffe,#fffffe,#fff,#fff,#fff,#fff,#fff,#fff,#fff,#fff,#fff,#fff)"></i><i style="left:361px;top:183px;width:70px;height:2px;background:linear-gradient(90deg,#ffffce,#ffff95,#ffff80,#ffff9b,#ffffb4,#ffffc8,#ffd,#ffffed,#fffff7,#fffffc,#fffffe,#fffffe,#fffffe,#fff,#fff,#fff,#fff,#fff,#fff,#fff,#fff,#fff,#fff,#fff)"></i><i style="left:361px;top:185px;width:70px;height:2px;background:linear-gradient(90deg,#ffd,#ffffb9,#ffa,#ffffb9,#ffffc9,#ffffd7,#ffffe6,#fffff2,#fffff9,#fffffd,#fffffe,#fffffe,#fff,#fff,#fff,#fff,#fff,#fff,#fff,#fff,#fff,#fff,#fff,#fff)"></i><i style="left:361px;top:207px;width:70px;height:2px;background:linear-gradient(90deg,#ffffc0,#ffff87,#fff635,#ffdb00,#ffc100,#ffdc00,#fff426,#fffb5c,#ff8,#ffffb3,#ffffd7,#ffffed,#fffff8,#fffffc,#fffffe,#fffffe,#fffffb,#fffffa,#fffffe,#fff,#fff,#fffff9,#ffffef,#fffffd)"></i><i style="left:361px;top:209px;width:70px;height:2px;background:linear-gradient(90deg,#ffff9a,#fff62f,#ff9500,#ec4600,#e22d00,#ee4a00,#fe8900,#ffde00,#fff73c,#ffff84,#ffffc0,#ffffe4,#fffff5,#fffffb,#fffffd,#fffff7,#ffffbf,#ffffa2,#ffffe9,#fffffe,#fffffe,#ffffe5,#ffb,#fffff6)"></i><i style="left:361px;top:211px;width:70px;height:2px;background:linear-gradient(90deg,#ffff80,#fff001,#f97400,#e02900,#d31800,#e43100,#f97400,#ffc700,#fff529,#fffe7a,#ffffba,#ffffe2,#fffff4,#fffffb,#fffffd,#fffff5,#ffffa9,#ffff83,#ffffe2,#fffffe,#fffffe,#ffffc9,#fffd72,#ffffed)"></i><i style="left:361px;top:213px;width:70px;height:2px;background:linear-gradient(90deg,#fffe77,#fff20d,#ff9f00,#f76b00,#f35d00,#fa7900,#ffbc00,#fff317,#fffb5d,#ffff9a,#ffffca,#ffffe8,#fffff6,#fffffb,#fffffd,#fffffd,#fffff7,#fffff4,#fffffc,#fff,#fffffe,#ffffc6,#fffd6b,#ffffec)"></i><i style="left:361px;top:215px;width:70px;height:2px;background:linear-gradient(90deg,#fffd71,#fff318,#ffd400,#ffc300,#ffc700,#ffe700,#fff62f,#fffc68,#ff9,#ffffc0,#ffd,#ffffef,#fffff7,#fffffb,#fffffd,#fffffe,#fffffe,#fff,#fff,#fff,#fffffe,#ffffe1,#ffffb0,#fffff5)"></i><i style="left:361px;top:217px;width:70px;height:2px;background:linear-gradient(90deg,#fffc6a,#fff20f,#fd0,#ffe700,#fff109,#fff52d,#fffb5e,#ffff8f,#ffffb7,#ffffd4,#ffffe7,#fffff2,#fffff8,#fffffb,#fffffd,#fffffe,#fffffe,#fff,#fff,#fff,#fff,#fffff7,#ffffea,#fffffc)"></i><i style="left:361px;top:219px;width:70px;height:2px;background:linear-gradient(90deg,#fffc69,#fff107,#ffde00,#fff106,#fff422,#fff844,#fffd71,#ffff9e,#ffffc2,#ffffdb,#ffffeb,#fffff3,#fffff8,#fffffb,#fffffd,#fffffe,#fffffe,#fff,#fff,#fff,#fff,#fffffe,#fffffc,#fff)"></i><i style="left:361px;top:221px;width:70px;height:2px;background:linear-gradient(90deg,#fffd6f,#fff107,#ffe500,#fff420,#fff73f,#fffb5e,#ffff84,#ffffab,#ffffca,#ffffdf,#ffffec,#fffff4,#fffff9,#fffffb,#fffffd,#fffffe,#fffffe,#fff,#fff,#fff,#fff,#fff,#fff,#fff)"></i><i style="left:361px;top:223px;width:70px;height:2px;background:linear-gradient(90deg,#fffe7a,#fff210,#fff105,#fff842,#fffc65,#ffff7e,#ffff9b,#ffffb9,#ffffd2,#ffffe3,#ffe,#fffff5,#fffff9,#fffffc,#fffffd,#fffffe,#fffffe,#fff,#fff,#fff,#fff,#fff,#fff,#fff)"></i><i style="left:361px;top:225px;width:70px;height:2px;background:linear-gradient(90deg,#ffff87,#fff31c,#fff31b,#fffc66,#ffff8b,#ffff9d,#ffffb3,#ffffc8,#ffffdb,#ffffe8,#fffff0,#fffff6,#fffffa,#fffffc,#fffffd,#fffffe,#fff,#fff,#fff,#fff,#fff,#fff,#fff,#fff)"></i><i style="left:361px;top:227px;width:70px;height:2px;background:linear-gradient(90deg,#ffff94,#fff52b,#fff631,#ffff85,#ffffab,#ffffb9,#ffffc7,#ffffd6,#ffffe2,#ffffec,#fffff3,#fffff7,#fffffa,#fffffc,#fffffd,#fffffe,#fff,#fff,#fff,#fff,#fff,#fff,#fff,#fff)"></i><i style="left:361px;top:229px;width:70px;height:2px;background:linear-gradient(90deg,#ffffa0,#fff73b,#fff847,#ffff9e,#ffffc4,#ffffce,#ffffd7,#ffffe0,#ffffe9,#fffff0,#fffff5,#fffff8,#fffffb,#fffffc,#fffffe,#fffffe,#fff,#fff,#fff,#fff,#fff,#fff,#fff,#fff)"></i><i style="left:361px;top:231px;width:70px;height:2px;background:linear-gradient(90deg,#ffffab,#fff94d,#fffb5c,#ffffb2,#ffffd5,#ffd,#ffffe2,#ffffe8,#ffe,#fffff3,#fffff6,#fffff9,#fffffb,#fffffd,#fffffe,#fffffe,#fff,#fff,#fff,#fff,#fff,#fff,#fff,#fff)"></i><i style="left:361px;top:233px;width:70px;height:2px;background:linear-gradient(90deg,#ffffb7,#fffc63,#fffd71,#ffffc1,#ffffe1,#ffffe7,#ffffea,#ffe,#fffff2,#fffff5,#fffff8,#fffffa,#fffffc,#fffffd,#fffffe,#fffffe,#fff,#fff,#fff,#fff,#fff,#fff,#fff,#fff)"></i><i style="left:361px;top:235px;width:70px;height:2px;background:linear-gradient(90deg,#ffffc2,#fffe7a,#ff8,#ffffcd,#ffffe9,#ffffed,#ffffef,#fffff2,#fffff5,#fffff7,#fffff9,#fffffb,#fffffd,#fffffe,#fffffe,#fff,#fff,#fff,#fff,#fff,#fff,#fff,#fff,#fff)"></i><i style="left:361px;top:237px;width:70px;height:2px;background:linear-gradient(90deg,#ffffce,#ffff93,#ffff9e,#ffffd7,#ffe,#fffff2,#fffff3,#fffff5,#fffff7,#fffff9,#fffffb,#fffffc,#fffffd,#fffffe,#fffffe,#fff,#fff,#fff,#fff,#fff,#fff,#fff,#fff,#fff)"></i><i style="left:361px;top:239px;width:70px;height:2px;background:linear-gradient(90deg,#ffffd9,#ffffab,#ffffb4,#ffffe1,#fffff3,#fffff5,#fffff6,#fffff7,#fffff9,#fffffa,#fffffc,#fffffd,#fffffe,#fffffe,#fffffe,#fff,#fff,#fff,#fff,#fff,#fff,#fff,#fff,#fff)"></i><i style="left:361px;top:241px;width:70px;height:2px;background:linear-gradient(90deg,#ffffe3,#ffffc1,#ffffc7,#ffffe8,#fffff6,#fffff8,#fffff8,#fffff9,#fffffa,#fffffb,#fffffc,#fffffd,#fffffe,#fffffe,#fff,#fff,#fff,#fff,#fff,#fff,#fff,#fff,#fff,#fff)"></i><i style="left:361px;top:243px;width:70px;height:2px;background:linear-gradient(90deg,#ffffeb,#ffffd3,#ffffd8,#ffffef,#fffff8,#fffffa,#fffffa,#fffffb,#fffffc,#fffffc,#fffffd,#fffffe,#fffffe,#fff,#fff,#fff,#fff,#fff,#fff,#fff,#fff,#fff,#fff,#fff)"></i><i style="left:361px;top:245px;width:70px;height:2px;background:linear-gradient(90deg,#fffff2,#ffffe1,#ffffe4,#fffff4,#fffffa,#fffffb,#fffffc,#fffffc,#fffffd,#fffffd,#fffffe,#fffffe,#fffffe,#fff,#fff,#fff,#fff,#fff,#fff,#fff,#fff,#fff,#fff,#fff)"></i><i style="left:361px;top:247px;width:70px;height:2px;background:linear-gradient(90deg,#fffff6,#ffffec,#ffe,#fffff8,#fffffc,#fffffc,#fffffd,#fffffd,#fffffd,#fffffe,#fffffe,#fffffe,#fff,#fff,#fff,#fff,#fff,#fff,#fff,#fff,#fff,#fff,#fff,#fff)"></i><i style="left:361px;top:249px;width:70px;height:2px;background:linear-gradient(90deg,#fffffa,#fffff3,#fffff5,#fffffb,#fffffd,#fffffd,#fffffd,#fffffe,#fffffe,#fffffe,#fffffe,#fff,#fff,#fff,#fff,#fff,#fff,#fff,#fff,#fff,#fff,#fff,#fff,#fff)"></i><i style="left:361px;top:251px;width:70px;height:2px;background:linear-gradient(90deg,#fffffc,#fffff8,#fffff9,#fffffc,#fffffe,#fffffe,#fffffe,#fffffe,#fffffe,#fffffe,#fff,#fff,#fff,#fff,#fff,#fff,#fff,#fff,#fff,#fff,#fff,#fff,#fff,#fff)"></i><i style="left:361px;top:253px;width:70px;height:2px;background:linear-gradient(90deg,#fffffd,#fffffb,#fffffc,#fffffd,#fffffe,#fffffe,#fffffe,#fffffe,#fff,#fff,#fff,#fff,#fff,#fff,#fff,#fff,#fff,#fff,#fff,#fff,#fff,#fff,#fff,#fff)"></i><i style="left:361px;top:255px;width:70px;height:2px;background:linear-gradient(90deg,#fffffe,#fffffc,#fffffd,#fffffe,#fffffe,#fff,#fff,#fff,#fff,#fff,#fff,#fff,#fff,#fff,#fff,#fff,#fff,#fff,#fff,#fff,#fff,#fff,#fff,#fff)"></i><i style="left:361px;top:257px;width:70px;height:2px;background:linear-gradient(90deg,#fffffb,#fffff6,#fffffc,#fffffe,#fff,#fff,#fff,#fff,#fff,#fff,#fff,#fff,#fff,#fff,#fff,#fff,#fff,#fff,#fff,#fff,#fff,#fff,#fff,#fff)"></i><i style="left:361px;top:259px;width:70px;height:2px;background:linear-gradient(90deg,#fffff0,#ffd,#fffff7,#fff,#fff,#fff,#fff,#fff,#fff,#fff,#fff,#fff,#fff,#fff,#fff,#fff,#fff,#fff,#fff,#fff,#fff,#fff,#fff,#fff)"></i><i style="left:361px;top:261px;width:70px;height:2px;background:linear-gradient(90deg,#ffffda,#ffffa8,#ffffeb,#fffffe,#fff,#fff,#fff,#fff,#fff,#fff,#fff,#fff,#fff,#fff,#fff,#fff,#fff,#fff,#fff,#fff,#fff,#fff,#fff,#fff)"></i><i style="left:361px;top:263px;width:70px;height:2px;background:linear-gradient(90deg,#ffffc2,#fffd73,#ffffde,#fffffe,#fff,#fff,#fff,#fff,#fff,#fff,#fff,#fff,#fff,#fff,#fff,#fff,#fff,#fff,#fff,#fff,#fff,#fff,#fff,#fff)"></i><i style="left:361px;top:265px;width:70px;height:2px;background:linear-gradient(90deg,#ffffc2,#fffd71,#ffffde,#fffffe,#fff,#fff,#fff,#fff,#fff,#fff,#fff,#fff,#fff,#fff,#fff,#fff,#fff,#fff,#fff,#fff,#fff,#fff,#fff,#fff)"></i><i style="left:361px;top:267px;width:70px;height:2px;background:linear-gradient(90deg,#ffffd8,#ffffa6,#ffffea,#fffffe,#fff,#fff,#fff,#fff,#fff,#fff,#fff,#fff,#fff,#fff,#fff,#fff,#fff,#fff,#fff,#fff,#fff,#fff,#fff,#fff)"></i><i style="left:361px;top:269px;width:70px;height:2px;background:linear-gradient(90deg,#fffff0,#ffffdc,#fffff7,#fff,#fff,#fff,#fff,#fff,#fff,#fff,#fff,#fff,#fff,#fff,#fff,#fff,#fff,#fff,#fff,#fff,#fff,#fff,#fff,#fff)"></i><i style="left:361px;top:291px;width:70px;height:2px;background:linear-gradient(90deg,#ffffe6,#ffffd3,#ffffd4,#ffffd5,#ffffcf,#ffd,#ffffe5,#ffffe7,#ffffe7,#ffffe6,#ffffe4,#ffffe2,#ffffe0,#ffffdf,#ffffdf,#ffffe0,#ffffe1,#ffffe2,#ffffe5,#ffffe7,#ffffea,#ffffed,#fffff0,#fffff3)"></i><i style="left:361px;top:293px;width:70px;height:2px;background:linear-gradient(90deg,#ffffd0,#fffd70,#ffffa0,#ffffaf,#fffc67,#ffb,#ffffde,#ffffe2,#ffffe3,#ffffe1,#ffffdf,#ffffdc,#ffffdb,#ffffd9,#ffffd9,#ffffda,#ffffdb,#ffd,#ffffe0,#ffffe3,#ffffe6,#ffffea,#ffffed,#fffff0)"></i><i style="left:361px;top:295px;width:70px;height:2px;background:linear-gradient(90deg,#ffffc7,#fff94c,#ffff8c,#ffffa0,#fff842,#ffffb0,#ffffde,#ffffe3,#ffffe4,#ffffe3,#ffffe2,#ffffdf,#ffffde,#ffd,#ffffdc,#ffd,#ffffde,#ffffe0,#ffffe2,#ffffe5,#ffffe8,#ffffec,#ffffef,#fffff2)"></i><i style="left:361px;top:297px;width:70px;height:2px;background:linear-gradient(90deg,#ffffd8,#ffffb6,#ffffbc,#ffffc0,#ffffb3,#ffffd1,#ffffe2,#ffffe8,#ffffeb,#ffffeb,#ffffea,#ffffe9,#ffffe8,#ffffe7,#ffffe7,#ffffe7,#ffffe8,#ffffe9,#ffffeb,#ffffed,#ffffef,#fffff1,#fffff4,#fffff6)"></i><i style="left:361px;top:299px;width:70px;height:2px;background:linear-gradient(90deg,#ffd,#ffffd1,#ffffca,#ffffcb,#ffffd2,#ffd,#ffffe8,#ffffef,#fffff3,#fffff4,#fffff4,#fffff3,#fffff3,#fffff2,#fffff2,#fffff2,#fffff3,#fffff3,#fffff4,#fffff5,#fffff7,#fffff8,#fffff9,#fffffa)"></i><i style="left:361px;top:301px;width:70px;height:2px;background:linear-gradient(90deg,#ffffe0,#ffffd6,#ffffcf,#ffffd0,#ffffd8,#ffffe2,#ffffed,#fffff4,#fffff8,#fffffa,#fffffa,#fffffa,#fffffa,#fffffa,#fffffa,#fffffa,#fffffa,#fffffa,#fffffb,#fffffb,#fffffc,#fffffc,#fffffc,#fffffd)"></i><i style="left:361px;top:303px;width:70px;height:2px;background:linear-gradient(90deg,#ffffe5,#ffffdc,#ffffd6,#ffffd7,#ffffde,#ffffe7,#fffff0,#fffff7,#fffffb,#fffffd,#fffffd,#fffffd,#fffffd,#fffffd,#fffffd,#fffffd,#fffffd,#fffffd,#fffffe,#fffffe,#fffffe,#fffffe,#fffffe,#fffffe)"></i><i style="left:361px;top:305px;width:70px;height:2px;background:linear-gradient(90deg,#ffffea,#ffffe3,#ffffdf,#ffffdf,#ffffe5,#ffffec,#fffff4,#fffff9,#fffffc,#fffffe,#fffffe,#fff,#fff,#fff,#fff,#fff,#fff,#fff,#fff,#fff,#fff,#fff,#fff,#fff)"></i><i style="left:361px;top:307px;width:70px;height:2px;background:linear-gradient(90deg,#fffff0,#ffffea,#ffffe7,#ffffe8,#ffffec,#fffff1,#fffff7,#fffffb,#fffffd,#fffffe,#fff,#fff,#fff,#fff,#fff,#fff,#fff,#fff,#fff,#fff,#fff,#fff,#fff,#fff)"></i><i style="left:361px;top:309px;width:70px;height:2px;background:linear-gradient(90deg,#fffff4,#fffff1,#ffe,#ffffef,#fffff2,#fffff6,#fffff9,#fffffc,#fffffe,#fff,#fff,#fff,#fff,#fff,#fff,#fff,#fff,#fff,#fff,#fff,#fff,#fff,#fff,#fff)"></i><i style="left:361px;top:311px;width:70px;height:2px;background:linear-gradient(90deg,#fffff8,#fffff6,#fffff4,#fffff5,#fffff6,#fffff9,#fffffb,#fffffd,#fffffe,#fff,#fff,#fff,#fff,#fff,#fff,#fff,#fff,#fff,#fff,#fff,#fff,#fff,#fff,#fff)"></i><i style="left:361px;top:313px;width:70px;height:2px;background:linear-gradient(90deg,#fffffb,#fffffa,#fffff9,#fffff9,#fffffa,#fffffb,#fffffd,#fffffe,#fff,#fff,#fff,#fff,#fff,#fff,#fff,#fff,#fff,#fff,#fff,#fff,#fff,#fff,#fff,#fff)"></i><i style="left:361px;top:315px;width:70px;height:2px;background:linear-gradient(90deg,#fffffd,#fffffc,#fffffc,#fffffc,#fffffc,#fffffd,#fffffe,#fffffe,#fff,#fff,#fff,#fff,#fff,#fff,#fff,#fff,#fff,#fff,#fff,#fff,#fff,#fff,#fff,#fff)"></i><i style="left:361px;top:317px;width:70px;height:2px;background:linear-gradient(90deg,#fffffe,#fffffd,#fffffd,#fffffd,#fffffe,#fffffe,#fffffe,#fff,#fff,#fff,#fff,#fff,#fff,#fff,#fff,#fff,#fff,#fff,#fff,#fff,#fff,#fff,#fff,#fff)"></i><i style="left:361px;top:319px;width:70px;height:2px;background:linear-gradient(90deg,#fffffe,#fffffe,#fffffe,#fffffe,#fffffe,#fff,#fff,#fff,#fff,#fff,#fff,#fff,#fff,#fff,#fff,#fff,#fff,#fff,#fff,#fff,#fff,#fff,#fff,#fff)"></i>
<i style="left:361px;top:369px;width:70px;height:5px;background:linear-gradient(90deg,#ffffff,#ffffd5,#ffffaa,#ffff80,#fffa55,#fff52b,#fff000,#ffcf00,#ffad00,#ff8c00,#fa7800,#f56400,#f05000,#e93f00,#e32f00,#dc1e00,#d21700,#c81100,#be0a00,#a00700,#820300,#640000,#430000,#210000,#000000)"></i>
<svg width="685" height="394" viewBox="0 0 685 394">
<defs><clipPath id="clipA"><rect x="32" y="25.5" width="148.5" height="137"/></clipPath><clipPath id="clipC0"><rect x="272.17" y="39.43" width="69.15" height="63.29"/></clipPath><clipPath id="clipC1"><rect x="272.17" y="123.5" width="69.15" height="63.29"/></clipPath><clipPath id="clipC2"><rect x="272.17" y="207.57" width="69.15" height="63.29"/></clipPath><clipPath id="clipC3"><rect x="272.17" y="291.64" width="69.15" height="63.29"/></clipPath><clipPath id="clipC4"><rect x="361.77" y="39.43" width="69.15" height="63.29"/></clipPath><clipPath id="clipC5"><rect x="361.77" y="123.5" width="69.15" height="63.29"/></clipPath><clipPath id="clipC6"><rect x="361.77" y="207.57" width="69.15" height="63.29"/></clipPath><clipPath id="clipC7"><rect x="361.77" y="291.64" width="69.15" height="63.29"/></clipPath></defs>
<g clip-path="url(#clipA)">
<path fill="none" stroke="#33300a" stroke-width="0.7"  d="M33,62.05 35.79,53 39.11,45 39.9,42 40.01,39 38.75,26M95.54,26 97.44,35 97.27,39 96.59,42 94,46.55 87.17,53 84.37,57 82.42,62 80.6,71 79.39,75 76.44,81 70.93,90 69.27,95 69.28,108 69.66,111 71.17,114 76.81,120 79.25,124 80.35,129 79.51,135 80,136.3 81,136.46 82,136.04 84.67,134 87.3,133 91,132.42 98,132.23 99,132 100.35,131 100.97,129 101.01,127 99.19,111 99.44,104 100.73,100 104.02,93 107.15,83 110,76.32 113,71.23 116.84,67 120.68,64 128.32,59 129.92,57 132,53.37 133.37,52 139,49.44 141,47.91 143.45,44 145.39,38 146.97,36 149,35.52 152,35.7 155,36.58 157,37.67 169.1,49 175,57.05 177,58.62 180,59.6M144.28,26 144,29.35 143,31.87 141,32.9 139,33.08 135,32.65 131.23,31 129.39,29 128.53,26M180,70.4 176,69.75 170,67.85 154,61.22 146,59.66 144,59.53 142.18,60 141.73,61 142.11,62 146,66.3 148,69.14 155.67,81 160,89.43 163.81,94 164.58,96 164.36,98 163,99.99 161,101.08 157,102.17 155,103.17 153.59,105 153.12,107 153.58,116 152.47,124 152.88,125 157,129.48 159,132.48 159.95,135 159.84,138 159,139.7 157.79,141 156,142.03 154,142.41 152,142.17 149.14,141 143,136.23 142,135.6 140,135.22 134,136.02 115.78,140 114.68,141 114.27,143 115.34,151 115.5,162M33,139.96 34.09,139 35.65,136 37.61,127 38.04,120 37.37,109 38.42,99 38.15,96 37.14,93 35,89.83 33,88.3M90.42,151 92,149.83 92.94,148 93.16,146 92.64,144 92,142.95 90,141.52 88,141.09 86,141.39 85,142.44 84.64,144 85.26,148 86.57,150 88,150.98 90.42,151"/>
<path fill="none" stroke="#33300a" stroke-width="0.7"  d="M78.38,26 79.17,30 82.19,37 82.61,40 82,41.73 81.04,43 75,48.17 73.53,50 72.57,52 72.14,55 72.12,65 71.34,69 70.22,72 67.54,76 63,79.7 56,83.31 53,84.3 51,84.53 49,84.28 47,83.48 43.85,81 41.21,77 40.03,72 40.43,65 42.14,58 44.01,54 48.88,47 49.96,44 49.81,40 46.42,31 45.55,26M143,93.12 139,93.55 135,93.11 129,91.35 123.04,89 121,87.53 119.92,86 119.57,84 120.19,82 121.77,80 124,78.29 133,73.4 138,72.31 142,73.07 145,75.03 147.7,78 150,82 150.68,85 150.12,88 148.79,90 146,92.03 143,93.12M124,130.11 118,129.97 113,128.24 111,126.84 109.25,125 107.11,121 106.01,115 106.19,112 106.93,109 108,106.78 110,104.32 112,102.81 114,101.9 117,101.31 121,101.38 125,102.06 129,103.32 134,105.71 137,107.74 138.98,110 139.92,112 140.34,115 139.67,118 138.19,121 136,123.95 133.9,126 131,127.96 128,129.22 124,130.11M51,141.2 50,140.99 48.53,139 48.22,137 49,135.26 50,135.12 51,135.87 52,137.98 52,140.21 51,141.2"/>
<path fill="none" stroke="#33300a" stroke-width="0.7"  d="M55,74.07 52,74.82 49,74.13 47.11,72 46.42,70 46.21,66 47.3,62 49,59.64 52,58.18 55,58.32 58,59.55 60.88,62 61.8,64 61.64,67 60.1,70 58,72.18 55,74.07M142,85.12 141,85.34 139,84.89 138,83.93 137.79,83 138.15,82 140,80.94 142,81.49 143.09,83 143,84.12 142,85.12M122,125.02 118,124.32 115,122.66 112.69,120 111.59,117 111.65,114 113.06,111 115.34,109 119,107.69 123,107.63 128,109.16 131.95,112 133.55,115 133.52,117 132.79,119 130.33,122 126,124.37 122,125.02"/>
<g fill="none" stroke="#100c00" stroke-width="1.0" stroke-linejoin="round"><polygon points="37.55,32.8 35.45,31.89 34.98,32.99 34.27,30.29 36.72,28.96 36.25,30.06 38.34,30.96"/><polygon points="49.48,33.19 45.91,35.2 46.96,37.09 42.32,35.15 43.09,30.18 44.14,32.06 47.72,30.05"/><polygon points="59.05,33.83 54.51,33.45 54.31,35.84 51.25,31.17 55.04,27.07 54.84,29.46 59.39,29.84"/><polygon points="69.94,33.64 65.64,34.14 65.9,36.4 62.18,32.62 64.95,28.09 65.21,30.36 69.51,29.87"/><polygon points="80.37,33.46 76.51,33.81 76.7,35.84 73.45,32.38 76.02,28.39 76.2,30.43 80.06,30.08"/><polygon points="90.73,33.09 87.76,33.22 87.83,34.77 85.47,32.01 87.59,29.06 87.65,30.62 90.61,30.49"/><polygon points="101.52,32.64 99.42,33.54 99.89,34.64 97.45,33.29 98.16,30.59 98.63,31.7 100.73,30.8"/><polygon points="122.22,32.69 120.17,32.79 120.22,33.86 118.58,31.96 120.04,29.91 120.09,30.99 122.14,30.89"/><polygon points="132.94,32.85 130.47,33.28 130.69,34.58 128.41,32.52 129.86,29.81 130.09,31.11 132.56,30.68"/><polygon points="142.55,32.8 140.58,31.25 139.77,32.29 139.77,29.22 142.75,28.48 141.94,29.52 143.91,31.07"/><polygon points="153.73,32.71 151.68,32.61 151.63,33.69 150.17,31.65 151.81,29.74 151.76,30.82 153.81,30.91"/><polygon points="174.92,32.78 172.65,32.94 172.73,34.14 170.86,32.07 172.42,29.75 172.5,30.95 174.78,30.79"/><polygon points="38.02,43.24 35.74,43.37 35.81,44.56 33.97,42.46 35.56,40.17 35.63,41.37 37.9,41.24"/><polygon points="48.82,43.79 45.2,44.28 45.46,46.18 42.26,43.06 44.52,39.2 44.78,41.11 48.39,40.62"/><polygon points="59.63,44.12 55.17,45.08 55.67,47.42 51.39,43.84 53.83,38.82 54.33,41.17 58.79,40.21"/><polygon points="69.88,44.11 65.56,44.45 65.74,46.73 62.15,42.81 65.08,38.39 65.26,40.66 69.58,40.33"/><polygon points="80.06,44.02 76.11,43.63 75.91,45.71 73.3,41.61 76.65,38.09 76.45,40.17 80.39,40.55"/><polygon points="90.76,43.64 87.57,43.79 87.65,45.47 85.1,42.5 87.35,39.31 87.43,40.99 90.62,40.84"/><polygon points="100.95,43.17 98.93,42.78 98.73,43.84 97.58,41.6 99.48,39.95 99.27,41.01 101.29,41.4"/><polygon points="132.75,43.14 130.7,43.22 130.74,44.3 129.11,42.39 130.58,40.35 130.62,41.43 132.67,41.34"/><polygon points="143.27,43.31 140.85,43.3 140.84,44.57 139.03,42.23 140.87,39.91 140.86,41.18 143.28,41.19"/><polygon points="153.43,43.67 150.39,42.7 149.88,44.3 148.52,40.63 151.75,38.43 151.24,40.03 154.28,41"/><polygon points="164.21,43.27 161.94,43.02 161.81,44.21 160.34,41.84 162.29,39.84 162.16,41.03 164.43,41.28"/><polygon points="174.92,43.13 172.88,43.33 172.99,44.41 171.25,42.59 172.59,40.47 172.7,41.54 174.74,41.34"/><polygon points="38.04,53.89 35.31,53.99 35.36,55.43 33.2,52.87 35.17,50.15 35.22,51.59 37.96,51.49"/><polygon points="48.46,54.63 44.16,54.16 43.91,56.43 41.11,51.92 44.81,48.12 44.57,50.38 48.87,50.85"/><polygon points="58.44,54.7 54.21,52.98 53.31,55.2 51.78,49.83 56.63,47.06 55.72,49.28 59.95,51"/><polygon points="69.81,54.48 65.71,54.7 65.82,56.86 62.52,53.07 65.4,48.95 65.51,51.1 69.61,50.88"/><polygon points="80.23,54.08 77.04,54.24 77.12,55.92 74.57,52.96 76.82,49.77 76.9,51.44 80.09,51.29"/><polygon points="90.41,53.72 88.17,53.27 87.93,54.44 86.69,51.94 88.81,50.13 88.57,51.31 90.81,51.76"/><polygon points="132.94,53.74 130.47,54.19 130.7,55.49 128.42,53.44 129.85,50.72 130.08,52.02 132.55,51.58"/><polygon points="143.37,53.88 140.64,54.04 140.72,55.48 138.51,52.97 140.41,50.21 140.5,51.65 143.23,51.49"/><polygon points="153.62,54.23 150.26,53.63 149.94,55.4 147.98,51.7 151.1,48.9 150.78,50.68 154.15,51.28"/><polygon points="164.24,54.12 161.07,53.75 160.87,55.42 158.84,52.08 161.58,49.3 161.39,50.97 164.56,51.34"/><polygon points="174.83,53.7 172.55,53.66 172.53,54.86 170.85,52.63 172.61,50.46 172.59,51.66 174.87,51.7"/><polygon points="37.85,64.57 34.69,64.15 34.46,65.81 32.49,62.44 35.29,59.71 35.06,61.37 38.22,61.8"/><polygon points="49.98,64.92 45.36,67.85 46.91,70.28 40.59,68.04 41.25,61.37 42.79,63.8 47.41,60.87"/><polygon points="58.8,65.6 53.44,64.49 52.86,67.31 49.89,61.3 55,56.97 54.42,59.79 59.78,60.9"/><polygon points="70.09,64.94 65.83,65.77 66.27,68.01 62.26,64.53 64.67,59.8 65.11,62.04 69.36,61.21"/><polygon points="80.5,64.21 77.91,65.1 78.39,66.46 75.57,64.64 76.66,61.47 77.13,62.83 79.71,61.94"/><polygon points="90.54,64.06 88.49,63.95 88.43,65.02 87,62.96 88.65,61.07 88.59,62.15 90.64,62.26"/><polygon points="111.52,64.07 109.49,63.78 109.34,64.85 108.08,62.67 109.89,60.93 109.74,62 111.77,62.28"/><polygon points="122.32,64.23 119.82,64.45 119.94,65.76 117.84,63.52 119.51,60.94 119.62,62.26 122.12,62.03"/><polygon points="133.02,64.27 130.35,64.86 130.66,66.26 128.08,64.12 129.53,61.1 129.84,62.51 132.51,61.93"/><polygon points="143.27,64.25 140.77,64.24 140.76,65.56 138.88,63.13 140.78,60.72 140.78,62.04 143.29,62.05"/><polygon points="153.8,64.15 151.52,64.17 151.53,65.37 149.79,63.19 151.49,60.97 151.5,62.17 153.78,62.15"/><polygon points="164.02,64.37 161.39,63.61 160.99,64.99 159.74,61.88 162.45,59.92 162.05,61.3 164.68,62.06"/><polygon points="174.71,64.37 172,63.96 171.79,65.39 170.14,62.47 172.57,60.17 172.36,61.59 175.07,62"/><polygon points="38,75.11 34.58,74.98 34.51,76.78 32.06,73.38 34.77,70.18 34.7,71.98 38.12,72.11"/><polygon points="48.23,75.94 43.12,74.79 42.51,77.48 39.77,71.67 44.74,67.61 44.13,70.3 49.25,71.46"/><polygon points="59.35,75.78 54.34,75.99 54.45,78.62 50.47,73.94 54.05,68.95 54.16,71.59 59.17,71.38"/><polygon points="70,75.21 66.19,75.92 66.56,77.93 63,74.79 65.19,70.58 65.56,72.58 69.37,71.87"/><polygon points="79.97,74.72 77.48,74.43 77.33,75.74 75.73,73.11 77.89,70.93 77.74,72.24 80.23,72.53"/><polygon points="111.56,74.72 109.07,74.43 108.92,75.74 107.32,73.11 109.48,70.93 109.33,72.24 111.82,72.53"/><polygon points="122.34,74.99 119.15,75.12 119.22,76.8 116.68,73.83 118.96,70.65 119.03,72.33 122.22,72.19"/><polygon points="133.13,75.23 129.3,75.83 129.62,77.85 126.15,74.61 128.45,70.46 128.77,72.47 132.6,71.87"/><polygon points="143.32,75.31 139.45,75.14 139.36,77.17 136.61,73.3 139.7,69.7 139.61,71.74 143.48,71.92"/><polygon points="154.18,74.3 152.38,75.29 152.89,76.23 150.59,75.24 151,72.76 151.52,73.71 153.32,72.72"/><polygon points="174.71,74.62 172.45,74.3 172.29,75.49 170.89,73.08 172.89,71.13 172.73,72.32 174.99,72.64"/><polygon points="37.89,85.37 34.94,85.08 34.79,86.63 32.84,83.57 35.35,80.94 35.2,82.49 38.15,82.78"/><polygon points="49.16,85.55 45.49,86.8 46.15,88.73 42.17,86.13 43.74,81.65 44.39,83.58 48.06,82.33"/><polygon points="59.12,85.65 55.47,85.61 55.45,87.53 52.74,83.98 55.54,80.49 55.51,82.41 59.16,82.45"/><polygon points="69.85,85.28 66.95,85.84 67.24,87.38 64.5,85 66.15,81.76 66.45,83.29 69.36,82.72"/><polygon points="79.92,84.97 77.89,84.66 77.73,85.72 76.5,83.53 78.33,81.81 78.17,82.88 80.19,83.19"/><polygon points="101.46,84.81 99.58,85.62 100,86.61 97.8,85.4 98.44,82.97 98.86,83.96 100.75,83.15"/><polygon points="111.96,85.28 109.05,85.82 109.33,87.35 106.61,84.95 108.29,81.73 108.57,83.26 111.49,82.72"/><polygon points="122.1,85.88 118.04,85.3 117.73,87.44 115.23,83.08 118.85,79.6 118.55,81.74 122.61,82.32"/><polygon points="132.46,86.19 127.8,85.09 127.22,87.55 124.76,82.22 129.34,78.55 128.76,81 133.42,82.1"/><polygon points="144.44,85.95 139.68,88.14 140.83,90.65 135.12,87.71 136.6,81.46 137.75,83.96 142.52,81.77"/><polygon points="154.01,85.42 150.83,85.73 151,87.4 148.3,84.58 150.39,81.27 150.55,82.95 153.73,82.63"/><polygon points="174.77,84.96 172.72,84.83 172.65,85.9 171.24,83.83 172.91,81.95 172.84,83.03 174.89,83.16"/><polygon points="38.11,95.57 35.62,95.87 35.78,97.18 33.61,95.01 35.19,92.38 35.36,93.69 37.84,93.38"/><polygon points="48.12,95.92 45.09,94.92 44.56,96.51 43.24,92.84 46.49,90.66 45.96,92.26 48.99,93.26"/><polygon points="59.42,95.79 56.32,96.55 56.72,98.18 53.65,95.76 55.26,92.19 55.66,93.83 58.76,93.07"/><polygon points="69.49,95.61 66.99,95.44 66.9,96.75 65.18,94.2 67.24,91.92 67.15,93.24 69.65,93.42"/><polygon points="101.34,95.44 99.11,95.91 99.36,97.08 97.22,95.29 98.45,92.78 98.7,93.95 100.93,93.48"/><polygon points="111.35,95.92 108.28,95.04 107.82,96.65 106.36,93.02 109.53,90.73 109.06,92.35 112.13,93.23"/><polygon points="122.31,96 118.89,96.01 118.89,97.81 116.3,94.52 118.87,91.21 118.87,93.01 122.29,93"/><polygon points="132.97,96.07 129.33,96.34 129.47,98.26 126.47,94.95 128.95,91.24 129.09,93.15 132.73,92.88"/><polygon points="143.9,95.9 140.47,97.13 141.11,98.94 137.34,96.55 138.74,92.31 139.39,94.11 142.82,92.89"/><polygon points="153.41,95.81 150.61,94.83 150.09,96.31 148.93,92.87 151.98,90.91 151.47,92.38 154.26,93.36"/><polygon points="164.17,95.62 161.69,95.24 161.49,96.55 159.99,93.87 162.22,91.76 162.02,93.07 164.5,93.45"/><polygon points="37.81,106.07 35.33,105.69 35.13,107 33.63,104.32 35.86,102.21 35.66,103.52 38.14,103.9"/><polygon points="48.25,106.28 45.36,105.61 45.01,107.13 43.48,103.84 46.3,101.55 45.95,103.07 48.84,103.74"/><polygon points="58.99,106.26 56.03,106.06 55.92,107.61 53.89,104.61 56.32,101.91 56.21,103.46 59.17,103.67"/><polygon points="69.71,106.01 67.22,106.33 67.39,107.64 65.2,105.48 66.77,102.84 66.94,104.15 69.43,103.83"/><polygon points="101.37,106.1 98.67,106.53 98.9,107.95 96.44,105.68 98.06,102.74 98.28,104.16 100.99,103.73"/><polygon points="112.11,106.67 108.06,107.32 108.4,109.46 104.72,106.04 107.14,101.64 107.49,103.77 111.54,103.12"/><polygon points="121.84,106.98 117.45,105.75 116.8,108.06 114.68,102.89 119.19,99.59 118.54,101.9 122.93,103.13"/><polygon points="133.35,106.48 129.63,107.6 130.22,109.55 126.34,106.81 128.07,102.39 128.65,104.34 132.37,103.22"/><polygon points="143.5,106.31 140.34,106.69 140.54,108.35 137.78,105.58 139.8,102.24 140,103.91 143.17,103.53"/><polygon points="153.88,106.03 151.38,106.19 151.46,107.51 149.42,105.22 151.15,102.68 151.24,104 153.74,103.84"/><polygon points="164.27,105.96 162,105.86 161.94,107.05 160.32,104.78 162.14,102.66 162.09,103.86 164.36,103.96"/><polygon points="37.85,116.52 35.36,116.23 35.21,117.54 33.61,114.92 35.76,112.73 35.61,114.04 38.1,114.33"/><polygon points="48.86,116.6 45.99,117.33 46.38,118.84 43.5,116.62 44.96,113.3 45.35,114.81 48.22,114.08"/><polygon points="59.51,116.53 56.72,117.54 57.25,119.01 54.17,117.08 55.31,113.63 55.84,115.09 58.62,114.09"/><polygon points="69.59,116.6 66.86,116.6 66.86,118.04 64.79,115.4 66.85,112.76 66.85,114.2 69.59,114.2"/><polygon points="100.88,116.62 98.23,115.96 97.88,117.36 96.51,114.3 99.15,112.24 98.81,113.64 101.46,114.29"/><polygon points="111.58,117.74 106.39,116.95 105.98,119.68 102.83,114.08 107.5,109.68 107.09,112.4 112.27,113.2"/><polygon points="122.47,118.42 115.64,118.13 115.48,121.72 110.61,114.91 116.05,108.54 115.9,112.13 122.73,112.43"/><polygon points="133.16,117.76 127.7,118.11 127.88,120.99 123.43,115.98 127.21,110.45 127.4,113.32 132.86,112.97"/><polygon points="143.27,116.92 139.86,116.71 139.75,118.51 137.37,115.07 140.14,111.92 140.03,113.72 143.45,113.92"/><polygon points="153.86,116.49 151.36,116.61 151.42,117.93 149.41,115.6 151.19,113.09 151.25,114.41 153.76,114.29"/><polygon points="164.15,116.32 162.13,115.98 161.95,117.05 160.75,114.84 162.6,113.14 162.42,114.21 164.44,114.54"/><polygon points="38.15,126.9 35.67,127.3 35.88,128.6 33.63,126.51 35.12,123.82 35.33,125.13 37.8,124.73"/><polygon points="48.55,127.36 45.13,127.27 45.08,129.07 42.59,125.7 45.26,122.47 45.21,124.27 48.63,124.36"/><polygon points="59.13,127.24 55.94,127.31 55.98,128.99 53.5,125.97 55.84,122.84 55.88,124.51 59.07,124.44"/><polygon points="69.49,127.48 65.87,127.08 65.66,128.99 63.31,125.19 66.42,121.99 66.22,123.9 69.84,124.29"/><polygon points="80.05,126.96 77.54,126.85 77.49,128.16 75.7,125.66 77.7,123.33 77.64,124.65 80.15,124.76"/><polygon points="100.6,126.92 98.41,125.69 97.76,126.85 97.29,123.81 100.12,122.62 99.48,123.77 101.67,125"/><polygon points="111.28,127.68 107.36,126.46 106.72,128.53 104.93,123.83 109.06,120.96 108.42,123.02 112.35,124.24"/><polygon points="121.77,128.08 116.98,126.6 116.2,129.13 114.01,123.38 119.05,119.88 118.28,122.4 123.07,123.88"/><polygon points="133.57,127.36 129.81,128.99 130.66,130.97 126.25,128.56 127.52,123.7 128.38,125.68 132.15,124.05"/><polygon points="143.38,127.03 140.65,127.22 140.75,128.65 138.51,126.16 140.39,123.39 140.49,124.82 143.22,124.64"/><polygon points="153.94,126.92 151.45,127.22 151.61,128.53 149.44,126.36 151.03,123.73 151.19,125.04 153.67,124.73"/><polygon points="164.2,126.76 162.16,126.55 162.05,127.62 160.72,125.49 162.47,123.68 162.35,124.76 164.39,124.97"/><polygon points="38.5,137.27 36.05,138.48 36.68,139.77 33.67,138.31 34.36,135.03 34.99,136.32 37.45,135.12"/><polygon points="48.22,138.03 44.46,137.13 43.98,139.11 42.01,134.8 45.72,131.84 45.25,133.82 49.02,134.73"/><polygon points="58.8,137.83 55.45,137.11 55.07,138.86 53.25,135.09 56.47,132.41 56.09,134.17 59.43,134.9"/><polygon points="69.94,137.49 67.07,138.25 67.47,139.76 64.58,137.57 66,134.23 66.4,135.74 69.27,134.98"/><polygon points="80.31,137.34 77.85,137.82 78.11,139.12 75.78,137.11 77.17,134.37 77.42,135.67 79.88,135.18"/><polygon points="90.84,137.45 88.14,137.88 88.37,139.3 85.91,137.03 87.52,134.09 87.75,135.51 90.46,135.08"/><polygon points="101.17,137.5 98.43,137.48 98.42,138.92 96.38,136.26 98.47,133.64 98.45,135.08 101.19,135.1"/><polygon points="111.55,137.52 108.84,137.17 108.66,138.6 106.95,135.72 109.33,133.36 109.15,134.79 111.86,135.14"/><polygon points="121.74,137.5 119.23,136.41 118.66,137.73 117.82,134.48 120.76,132.88 120.19,134.21 122.7,135.29"/><polygon points="132.79,137.39 130.29,137.49 130.34,138.81 128.35,136.47 130.15,133.97 130.2,135.29 132.71,135.19"/><polygon points="143.11,137.42 140.63,137.04 140.43,138.34 138.93,135.66 141.17,133.56 140.97,134.86 143.45,135.25"/><polygon points="153.79,137.51 151.06,137.42 151.01,138.86 149.03,136.16 151.18,133.58 151.13,135.02 153.87,135.11"/><polygon points="163.96,137.31 161.82,136.52 161.41,137.65 160.55,134.99 162.93,133.52 162.51,134.64 164.65,135.43"/><polygon points="37.82,148.07 34.89,147.64 34.66,149.18 32.87,146.02 35.51,143.52 35.28,145.06 38.21,145.5"/><polygon points="48.17,148.38 44.65,147.39 44.13,149.24 42.44,145.11 46.04,142.46 45.52,144.31 49.03,145.3"/><polygon points="59.47,148.24 55.91,149.02 56.32,150.9 52.88,148.05 54.82,144.02 55.23,145.9 58.79,145.12"/><polygon points="69.68,148.14 66.49,148.26 66.56,149.94 64.03,146.95 66.32,143.78 66.39,145.46 69.58,145.34"/><polygon points="80.35,147.99 77.42,148.47 77.68,150.01 75.01,147.55 76.75,144.37 77,145.91 79.93,145.43"/><polygon points="90.3,147.76 88.13,147.09 87.77,148.23 86.78,145.62 89.08,144.03 88.72,145.18 90.9,145.85"/><polygon points="101.04,148.28 97.65,147.83 97.41,149.61 95.29,146 98.28,143.07 98.04,144.85 101.43,145.3"/><polygon points="111.78,147.93 109.05,148.1 109.14,149.54 106.92,147.03 108.82,144.27 108.91,145.7 111.64,145.54"/><polygon points="122.29,147.73 120.02,147.93 120.13,149.13 118.22,147.09 119.73,144.75 119.84,145.94 122.11,145.74"/><polygon points="132.62,147.66 130.58,147.46 130.48,148.54 129.13,146.42 130.86,144.6 130.75,145.67 132.8,145.87"/><polygon points="143.36,147.62 141.33,147.9 141.48,148.97 139.67,147.23 140.93,145.05 141.08,146.12 143.11,145.83"/><polygon points="153.97,147.7 151.73,148.12 151.95,149.3 149.86,147.45 151.14,144.97 151.36,146.15 153.6,145.73"/><polygon points="164.21,147.66 162.17,147.47 162.07,148.54 160.72,146.42 162.45,144.6 162.34,145.67 164.39,145.87"/><polygon points="37.37,158.47 34.76,157.07 34.02,158.44 33.41,154.86 36.73,153.4 35.99,154.78 38.6,156.18"/><polygon points="48.66,158.68 45.25,158.85 45.34,160.65 42.6,157.48 45.01,154.06 45.1,155.86 48.52,155.69"/><polygon points="59.28,158.66 55.89,159.04 56.09,160.83 53.16,157.83 55.35,154.27 55.55,156.06 58.95,155.68"/><polygon points="69.95,158.5 66.84,159.24 67.23,160.87 64.18,158.43 65.8,154.88 66.19,156.51 69.3,155.77"/><polygon points="80.52,158.48 77.44,159.32 77.88,160.94 74.75,158.6 76.26,155 76.7,156.62 79.78,155.78"/><polygon points="90.54,158.62 87.37,158.29 87.19,159.96 85.12,156.64 87.84,153.83 87.66,155.5 90.84,155.84"/><polygon points="100.98,158.73 97.61,158.15 97.31,159.92 95.32,156.23 98.42,153.42 98.12,155.19 101.49,155.77"/><polygon points="111.71,158.4 108.97,158.4 108.97,159.84 106.91,157.19 108.98,154.56 108.98,156 111.71,156"/><polygon points="122.13,158.21 119.86,158.06 119.78,159.26 118.21,156.95 120.07,154.87 119.99,156.06 122.27,156.22"/><polygon points="132.69,158.1 130.64,158.06 130.61,159.14 129.11,157.12 130.7,155.18 130.68,156.26 132.73,156.3"/><polygon points="143.21,158.1 141.16,158.05 141.13,159.13 139.64,157.11 141.24,155.17 141.21,156.25 143.26,156.31"/><polygon points="154.03,158 152.07,158.62 152.4,159.65 150.33,158.23 151.21,155.87 151.53,156.9 153.49,156.29"/></g>
<path fill="#1a1400" d="M111.47 31.8m-1 0a1 1 0 1 0 2 0a1 1 0 1 0 -2 0M164.12 31.8m-1 0a1 1 0 1 0 2 0a1 1 0 1 0 -2 0M111.47 42.25m-1 0a1 1 0 1 0 2 0a1 1 0 1 0 -2 0M122 42.25m-1 0a1 1 0 1 0 2 0a1 1 0 1 0 -2 0M100.94 52.7m-1 0a1 1 0 1 0 2 0a1 1 0 1 0 -2 0M111.47 52.7m-1 0a1 1 0 1 0 2 0a1 1 0 1 0 -2 0M122 52.7m-1 0a1 1 0 1 0 2 0a1 1 0 1 0 -2 0M100.94 63.15m-1 0a1 1 0 1 0 2 0a1 1 0 1 0 -2 0M90.41 73.6m-1 0a1 1 0 1 0 2 0a1 1 0 1 0 -2 0M100.94 73.6m-1 0a1 1 0 1 0 2 0a1 1 0 1 0 -2 0M164.12 73.6m-1 0a1 1 0 1 0 2 0a1 1 0 1 0 -2 0M90.41 84.05m-1 0a1 1 0 1 0 2 0a1 1 0 1 0 -2 0M164.12 84.05m-1 0a1 1 0 1 0 2 0a1 1 0 1 0 -2 0M79.88 94.5m-1 0a1 1 0 1 0 2 0a1 1 0 1 0 -2 0M90.41 94.5m-1 0a1 1 0 1 0 2 0a1 1 0 1 0 -2 0M174.65 94.5m-1 0a1 1 0 1 0 2 0a1 1 0 1 0 -2 0M79.88 104.95m-1 0a1 1 0 1 0 2 0a1 1 0 1 0 -2 0M90.41 104.95m-1 0a1 1 0 1 0 2 0a1 1 0 1 0 -2 0M174.65 104.95m-1 0a1 1 0 1 0 2 0a1 1 0 1 0 -2 0M79.88 115.4m-1 0a1 1 0 1 0 2 0a1 1 0 1 0 -2 0M90.41 115.4m-1 0a1 1 0 1 0 2 0a1 1 0 1 0 -2 0M174.65 115.4m-1 0a1 1 0 1 0 2 0a1 1 0 1 0 -2 0M90.41 125.85m-1 0a1 1 0 1 0 2 0a1 1 0 1 0 -2 0M174.65 125.85m-1 0a1 1 0 1 0 2 0a1 1 0 1 0 -2 0M174.65 136.3m-1 0a1 1 0 1 0 2 0a1 1 0 1 0 -2 0M174.65 146.75m-1 0a1 1 0 1 0 2 0a1 1 0 1 0 -2 0M164.12 157.2m-1 0a1 1 0 1 0 2 0a1 1 0 1 0 -2 0M174.65 157.2m-1 0a1 1 0 1 0 2 0a1 1 0 1 0 -2 0"/>
<polygon points="122,107.6 124.26,114.09 131.13,114.23 125.65,118.39 127.64,124.97 122,121.04 116.36,124.97 118.35,118.39 112.87,114.23 119.74,114.09" fill="none" stroke="#000" stroke-width="1.1"/>
</g>
<rect x="32.5" y="25.5" width="148.0" height="137.0" fill="none" stroke="#000" stroke-width="1.3"/>
<path stroke="#000" stroke-width="0.8" fill="none" d="M37.76 162.5v2.5M37.76 25.5v-2.5M48.29 162.5v2.5M48.29 25.5v-2.5M58.82 162.5v2.5M58.82 25.5v-2.5M69.35 162.5v5M69.35 25.5v-5M79.88 162.5v2.5M79.88 25.5v-2.5M90.41 162.5v2.5M90.41 25.5v-2.5M100.94 162.5v2.5M100.94 25.5v-2.5M111.47 162.5v2.5M111.47 25.5v-2.5M122 162.5v5M122 25.5v-5M132.53 162.5v2.5M132.53 25.5v-2.5M143.06 162.5v2.5M143.06 25.5v-2.5M153.59 162.5v2.5M153.59 25.5v-2.5M164.12 162.5v2.5M164.12 25.5v-2.5M174.65 162.5v5M174.65 25.5v-5M32.5 31.8h-2.5M180.5 31.8h2.5M32.5 42.25h-2.5M180.5 42.25h2.5M32.5 52.7h-2.5M180.5 52.7h2.5M32.5 63.15h-5M180.5 63.15h5M32.5 73.6h-2.5M180.5 73.6h2.5M32.5 84.05h-2.5M180.5 84.05h2.5M32.5 94.5h-2.5M180.5 94.5h2.5M32.5 104.95h-2.5M180.5 104.95h2.5M32.5 115.4h-5M180.5 115.4h5M32.5 125.85h-2.5M180.5 125.85h2.5M32.5 136.3h-2.5M180.5 136.3h2.5M32.5 146.75h-2.5M180.5 146.75h2.5M32.5 157.2h-2.5M180.5 157.2h2.5"/>
<rect x="194" y="106" width="5" height="57" fill="none" stroke="#000" stroke-width="0.7"/>
<text x="1.2" y="16" font-size="18" font-weight="bold" textLength="9.4" lengthAdjust="spacingAndGlyphs" >a</text><text x="0" y="0" font-size="9" text-anchor="middle" transform="translate(10.2,94) rotate(-90)">Along Dip (km)</text><text x="21.8" y="65.3" font-size="7.6" text-anchor="end" >-5</text><text x="21.8" y="118.1" font-size="7.6" text-anchor="end" >0</text><text x="69.35" y="178.2" font-size="7.6" text-anchor="middle" >-5</text><text x="122" y="178.2" font-size="7.6" text-anchor="middle" >0</text><text x="174.65" y="178.2" font-size="7.6" text-anchor="middle" >5</text><text x="107" y="190.8" font-size="9" text-anchor="middle" textLength="68" lengthAdjust="spacingAndGlyphs" >Along Strike (km)</text><text x="141.3" y="15.8" font-size="10.2" textLength="33.6" lengthAdjust="spacingAndGlyphs" >N212°E</text><path d="M143.8 20.85H178" stroke="#000" stroke-width="1.3"/><path d="M177 18L185.2 20.85L177 23.6z" fill="#000"/><path d="M190.9 33.4H197.6V30.2L202.7 36.4L197.6 43.3V39.5H190.9z" fill="none" stroke="#000" stroke-width="0.9" stroke-linejoin="miter"/><text x="189.2" y="52.1" font-size="9.2" textLength="12.7" lengthAdjust="spacingAndGlyphs" >1m</text><text x="196.5" y="101.5" font-size="7.6" text-anchor="middle">m</text><path d="M198.7 106.5H203" stroke="#000" stroke-width="0.6"/><text x="209.8" y="109.2" font-size="7.6" textLength="11.5" lengthAdjust="spacingAndGlyphs" >1.2</text><path d="M198.7 120.6H203" stroke="#000" stroke-width="0.6"/><text x="209.8" y="123.3" font-size="7.6" textLength="11.5" lengthAdjust="spacingAndGlyphs" >0.9</text><path d="M198.7 134.6H203" stroke="#000" stroke-width="0.6"/><text x="209.8" y="137.3" font-size="7.6" textLength="11.5" lengthAdjust="spacingAndGlyphs" >0.6</text><path d="M198.7 148.6H203" stroke="#000" stroke-width="0.6"/><text x="209.8" y="151.3" font-size="7.6" textLength="11.5" lengthAdjust="spacingAndGlyphs" >0.3</text><path d="M198.7 162.7H203" stroke="#000" stroke-width="0.6"/><text x="209.8" y="165.4" font-size="7.6" textLength="11.5" lengthAdjust="spacingAndGlyphs" >0.0</text>
<path fill="#0d2560" d="M33.1,246.5 L33.1,246 33.82,246 34.54,246 35.26,245.9 35.98,245.11 36.7,244.46 37.42,244.28 38.14,244.59 38.86,245.05 39.58,245.16 40.3,244.79 41.02,244.96 41.74,246 42.46,246 L42.46,246.5zM43.66,246.5 L43.66,246 44.38,246 45.1,245.53 45.83,243.77 46.55,243.4 47.27,243.66 47.99,244.12 48.71,244.55 49.43,244.72 50.15,244.56 50.87,244.14 51.59,244.63 52.31,246 53.03,246 L53.03,246.5zM54.23,246.5 L54.23,246 54.95,246 55.67,246 56.39,246 57.11,245.19 57.83,243.69 58.55,243.01 59.27,242.71 59.99,243 60.71,243.68 61.43,245.34 62.15,246 62.87,246 63.59,246 L63.59,246.5zM64.79,246.5 L64.79,246 65.51,246 66.23,245.56 66.95,244.05 67.67,243.48 68.39,243.47 69.11,243.98 69.84,244.56 70.56,244.71 71.28,244.32 72,245.23 72.72,246 73.44,246 74.16,246 L74.16,246.5zM75.36,246.5 L75.36,246 76.08,246 76.8,246 77.52,246 78.24,245.99 78.96,245.28 79.68,244.56 80.4,244.05 81.12,243.93 81.84,244.31 82.56,244.83 83.28,245.6 84,246 84.72,246 L84.72,246.5zM85.92,246.5 L85.92,246 86.64,246 87.36,245.22 88.08,244.54 88.8,244.94 89.52,244.86 90.24,244.36 90.96,243.93 91.68,243.97 92.4,245.43 93.12,246 93.85,246 94.57,246 95.29,246 L95.29,246.5zM96.49,246.5 L96.49,246 97.21,245.8 97.93,244.38 98.65,244.07 99.37,244.54 100.09,244.94 100.81,244.94 101.53,244.54 102.25,244.07 102.97,243.93 103.69,245.16 104.41,246 105.13,246 105.85,246 L105.85,246.5zM107.05,246.5 L107.05,246 107.77,246 108.49,246 109.21,246 109.93,245.82 110.65,245.38 111.37,245.19 112.09,245.64 112.81,246 113.53,245.99 114.25,245.97 114.97,246 115.69,246 116.41,246 L116.41,246.5zM117.61,246.5 L117.61,246 118.33,246 119.05,246 119.78,245.9 120.5,244.92 121.22,243.93 121.94,244.55 122.66,245.53 123.38,245.98 124.1,245.89 124.82,245.96 125.54,246 126.26,246 126.98,246 L126.98,246.5zM128.18,246.5 L128.18,246 128.9,245.97 129.62,244.74 130.34,243.51 131.06,244.01 131.78,245.24 132.5,245.96 133.22,245.87 133.94,245.92 134.66,246 135.38,246 136.1,246 136.82,246 137.54,246 L137.54,246.5zM138.74,246.5 L138.74,246 139.46,246 140.18,246 140.9,246 141.62,245.56 142.34,244.3 143.06,243.16 143.79,244.43 144.51,245.68 145.23,245.96 145.95,245.89 146.67,245.98 147.39,246 148.11,246 L148.11,246.5zM149.31,246.5 L149.31,246 150.03,246 150.75,246 151.47,245.22 152.19,243.98 152.91,243.51 153.63,244.74 154.35,245.98 155.07,246 155.79,246 156.51,246 157.23,246 157.95,246 158.67,246 L158.67,246.5zM159.87,246.5 L159.87,246 160.59,246 161.31,246 162.03,246 162.75,246 163.47,245.85 164.19,245.54 164.91,245.55 165.63,245.86 166.35,246 167.07,246 167.8,246 168.52,246 169.24,246 L169.24,246.5zM170.44,246.5 L170.44,246 171.16,246 171.88,246 172.6,245.14 173.32,244.28 174.04,244.63 174.76,245.5 175.48,245.84 176.2,245.56 176.92,245.73 177.64,246 178.36,246 179.08,246 179.8,246 L179.8,246.5zM33.1,257 L33.1,256.5 33.82,256.5 34.54,256.5 35.26,256 35.98,255.37 36.7,255.71 37.42,255.92 38.14,255.79 38.86,255.45 39.58,255.24 40.3,255.35 41.02,256.1 41.74,256.5 42.46,256.5 L42.46,257zM43.66,257 L43.66,256.5 44.38,256.5 45.1,254.86 45.83,254.06 46.55,254.57 47.27,255.13 47.99,255.24 48.71,254.81 49.43,254.21 50.15,253.97 50.87,255.32 51.59,256.5 52.31,256.5 53.03,256.5 L53.03,257zM54.23,257 L54.23,256.5 54.95,256.5 55.67,256.41 56.39,255.6 57.11,255.12 57.83,254.7 58.55,254.24 59.27,254.01 59.99,254.12 60.71,254.51 61.43,255.51 62.15,256.5 62.87,256.5 63.59,256.5 L63.59,257zM64.79,257 L64.79,256.5 65.51,256.5 66.23,256.23 66.95,254.82 67.67,253.58 68.39,253.21 69.11,253.77 69.84,254.64 70.56,254.83 71.28,255.64 72,256.5 72.72,256.5 73.44,256.5 74.16,256.5 L74.16,257zM75.36,257 L75.36,256.5 76.08,256.5 76.8,256.5 77.52,256.5 78.24,256.28 78.96,255.07 79.68,255.14 80.4,255.35 81.12,255 81.84,254.43 82.56,255 83.28,256.5 84,256.5 84.72,256.5 L84.72,257zM85.92,257 L85.92,256.5 86.64,256.5 87.36,256.5 88.08,256.44 88.8,255.53 89.52,254.67 90.24,254.12 90.96,253.97 91.68,254.34 92.4,255.95 93.12,256.5 93.85,256.5 94.57,256.5 95.29,256.5 L95.29,257zM96.49,257 L96.49,256.5 97.21,256.5 97.93,256.5 98.65,256.12 99.37,255.6 100.09,255.24 100.81,255.26 101.53,255.63 102.25,255.96 102.97,256.36 103.69,256.5 104.41,256.5 105.13,256.5 105.85,256.5 L105.85,257zM107.05,257 L107.05,256.5 107.77,256.5 108.49,256.5 109.21,256.5 109.93,256.5 110.65,256.25 111.37,256.04 112.09,256.32 112.81,256.5 113.53,256.5 114.25,256.5 114.97,256.5 115.69,256.5 116.41,256.5 L116.41,257zM117.61,257 L117.61,256.5 118.33,256.5 119.05,256.5 119.78,256.5 120.5,256.5 121.22,256.43 121.94,256.13 122.66,256.04 123.38,256.34 124.1,256.5 124.82,256.5 125.54,256.5 126.26,256.5 126.98,256.5 L126.98,257zM128.18,257 L128.18,256.5 128.9,256.5 129.62,255.96 130.34,254.96 131.06,254.43 131.78,255.43 132.5,256.35 133.22,256.15 133.94,256.05 134.66,256.36 135.38,256.5 136.1,256.5 136.82,256.5 137.54,256.5 L137.54,257zM138.74,257 L138.74,256.5 139.46,256.5 140.18,256.5 140.9,256.5 141.62,256.5 142.34,256.19 143.06,255.25 143.79,254.43 144.51,255.37 145.23,256.28 145.95,256.23 146.67,256.02 147.39,256.33 148.11,256.5 L148.11,257zM149.31,257 L149.31,256.5 150.03,256.5 150.75,255.74 151.47,251.43 152.19,253.38 152.91,255.08 153.63,256.05 154.35,255.74 155.07,255.96 155.79,256.41 156.51,256.5 157.23,256.5 157.95,256.5 158.67,256.5 L158.67,257zM159.87,257 L159.87,256.5 160.59,256.5 161.31,256.28 162.03,255.49 162.75,254.78 163.47,255.56 164.19,256.33 164.91,256.31 165.63,256.13 166.35,256.38 167.07,256.5 167.8,256.5 168.52,256.5 169.24,256.5 L169.24,257zM170.44,257 L170.44,256.5 171.16,256.5 171.88,256.5 172.6,256.5 173.32,256.48 174.04,256.19 174.76,256.04 175.48,256.33 176.2,256.5 176.92,256.5 177.64,256.5 178.36,256.5 179.08,256.5 179.8,256.5 L179.8,257zM33.1,267.5 L33.1,267 33.82,267 34.54,266.87 35.26,265.65 35.98,265.58 36.7,265.88 37.42,265.81 38.14,265.41 38.86,264.96 39.58,264.93 40.3,266.46 41.02,267 41.74,267 42.46,267 L42.46,267.5zM43.66,267.5 L43.66,267 44.38,267 45.1,267 45.83,267 46.55,266.61 47.27,265.2 47.99,264.93 48.71,265.22 49.43,265.73 50.15,266 50.87,266.57 51.59,267 52.31,267 53.03,267 L53.03,267.5zM54.23,267.5 L54.23,266.96 54.95,266.96 55.67,266.96 56.39,266.96 57.11,265.37 57.83,264.67 58.55,264.23 59.27,263.25 59.99,263.56 60.71,266.44 61.43,266.96 62.15,266.96 62.87,266.96 63.59,266.96 L63.59,267.5zM64.79,267.5 L64.79,267 65.51,267 66.23,265.78 66.95,264.4 67.67,263.37 68.39,262.9 69.11,263.46 69.84,264.49 70.56,264.97 71.28,264.42 72,263.39 72.72,263.74 73.44,266.49 74.16,267 L74.16,267.5zM75.36,267.5 L75.36,267 76.08,267 76.8,267 77.52,266.22 78.24,264.55 78.96,264.47 79.68,264.86 80.4,265.42 81.12,265.74 81.84,265.58 82.56,265.06 83.28,265.56 84,267 84.72,267 L84.72,267.5zM85.92,267.5 L85.92,267 86.64,267 87.36,267 88.08,266.82 88.8,265.53 89.52,265.48 90.24,265.86 90.96,265.78 91.68,265.3 92.4,265.27 93.12,266.64 93.85,267 94.57,267 95.29,267 L95.29,267.5zM96.49,267.5 L96.49,267 97.21,267 97.93,267 98.65,267 99.37,266.97 100.09,266.42 100.81,266.02 101.53,265.96 102.25,266.24 102.97,266.89 103.69,267 104.41,267 105.13,267 105.85,267 L105.85,267.5zM107.05,267.5 L107.05,267 107.77,267 108.49,267 109.21,267 109.93,267 110.65,266.82 111.37,266.54 112.09,266.72 112.81,267 113.53,267 114.25,267 114.97,267 115.69,267 116.41,267 L116.41,267.5zM117.61,267.5 L117.61,267 118.33,267 119.05,266.87 119.78,266.44 120.5,266.19 121.22,266.63 121.94,267 122.66,267 123.38,267 124.1,267 124.82,267 125.54,267 126.26,267 126.98,267 L126.98,267.5zM128.18,267.5 L128.18,267 128.9,267 129.62,267 130.34,267 131.06,267 131.78,266.19 132.5,265.27 133.22,265.4 133.94,266.32 134.66,267 135.38,267 136.1,267 136.82,267 137.54,267 L137.54,267.5zM138.74,267.5 L138.74,267 139.46,267 140.18,267 140.9,267 141.62,266.22 142.34,264.97 143.06,264.47 143.79,265.72 144.51,266.84 145.23,266.54 145.95,266.47 146.67,266.82 147.39,267 148.11,267 L148.11,267.5zM149.31,267.5 L149.31,267 150.03,267 150.75,267 151.47,266.84 152.19,265.04 152.91,263.25 153.63,264.14 154.35,265.94 155.07,266.63 155.79,266.16 156.51,266.49 157.23,266.96 157.95,267 158.67,267 L158.67,267.5zM159.87,267.5 L159.87,267 160.59,267 161.31,266.81 162.03,265.64 162.75,264.47 163.47,265.33 164.19,266.5 164.91,266.97 165.63,266.89 166.35,266.97 167.07,267 167.8,267 168.52,267 169.24,267 L169.24,267.5zM170.44,267.5 L170.44,267 171.16,267 171.88,267 172.6,266.17 173.32,264.92 174.04,264.51 174.76,265.76 175.48,266.97 176.2,266.9 176.92,266.89 177.64,266.97 178.36,267 179.08,267 179.8,267 L179.8,267.5zM33.1,278 L33.1,277.5 33.82,277.5 34.54,277.45 35.26,276.84 35.98,276.28 36.7,275.86 37.42,275.77 38.14,276.09 38.86,276.52 39.58,276.67 40.3,276.4 41.02,276.35 41.74,277.37 42.46,277.5 L42.46,278zM43.66,278 L43.66,277.5 44.38,275.54 45.1,270.36 45.83,271.35 46.55,273.8 47.27,275.74 47.99,276.61 48.71,276.42 49.43,277.08 50.15,277.5 50.87,277.5 51.59,277.5 52.31,277.5 53.03,277.5 L53.03,278zM54.23,278 L54.23,277.5 54.95,277.5 55.67,277.5 56.39,276.59 57.11,274.97 57.83,275.39 58.55,276.05 59.27,276.25 59.99,275.77 60.71,275.13 61.43,275 62.15,276.24 62.87,277.5 63.59,277.5 L63.59,278zM64.79,278 L64.79,277.5 65.51,277.5 66.23,277.5 66.95,276.33 67.67,276 68.39,276.42 69.11,276.47 69.84,276.13 70.56,275.65 71.28,275.43 72,275.63 72.72,276.68 73.44,277.5 74.16,277.5 L74.16,278zM75.36,278 L75.36,277.5 76.08,277.5 76.8,276.6 77.52,276.39 78.24,276.71 78.96,276.91 79.68,276.79 80.4,276.48 81.12,276.24 81.84,276.33 82.56,277.28 83.28,277.5 84,277.5 84.72,277.5 L84.72,278zM85.92,278 L85.92,277.5 86.64,277.5 87.36,277.29 88.08,276.49 88.8,276.56 89.52,276.85 90.24,277.04 90.96,276.94 91.68,276.65 92.4,276.46 93.12,276.57 93.85,277.27 94.57,277.5 95.29,277.5 L95.29,278zM96.49,278 L96.49,277.5 97.21,277.5 97.93,277.5 98.65,277.5 99.37,277.09 100.09,276.79 100.81,276.69 101.53,276.77 102.25,276.97 102.97,277.14 103.69,277.15 104.41,277.13 105.13,277.5 105.85,277.5 L105.85,278zM107.05,278 L107.05,277.5 107.77,277.5 108.49,277.11 109.21,276.46 109.93,276.63 110.65,276.87 111.37,277.02 112.09,276.99 112.81,276.95 113.53,277.44 114.25,277.5 114.97,277.5 115.69,277.5 116.41,277.5 L116.41,278zM117.61,278 L117.61,277.5 118.33,277.5 119.05,277.5 119.78,277.5 120.5,276.92 121.22,275.77 121.94,276.08 122.66,276.51 123.38,276.73 124.1,277.23 124.82,277.5 125.54,277.5 126.26,277.5 126.98,277.5 L126.98,278zM128.18,278 L128.18,277.5 128.9,277.5 129.62,277.5 130.34,277.04 131.06,276.16 131.78,276.41 132.5,276.48 133.22,276.17 133.94,275.72 134.66,275.43 135.38,275.94 136.1,277.32 136.82,277.5 137.54,277.5 L137.54,278zM138.74,278 L138.74,277.5 139.46,277.5 140.18,277.5 140.9,276.95 141.62,276.38 142.34,275.9 143.06,275.43 143.79,275.44 144.51,275.91 145.23,276.38 145.95,276.72 146.67,277.42 147.39,277.5 148.11,277.5 L148.11,278zM149.31,278 L149.31,277.5 150.03,277.43 150.75,276.04 151.47,275.49 152.19,275.99 152.91,276.45 153.63,276.37 154.35,275.84 155.07,275.43 155.79,275.75 156.51,277.18 157.23,277.5 157.95,277.5 158.67,277.5 L158.67,278zM159.87,278 L159.87,277.5 160.59,277.5 161.31,277.5 162.03,277.5 162.75,276.59 163.47,276.41 164.19,276.14 164.91,275.51 165.63,275.43 166.35,277.02 167.07,277.5 167.8,277.5 168.52,277.5 169.24,277.5 L169.24,278zM170.44,278 L170.44,277.5 171.16,277.5 171.88,277.5 172.6,275.98 173.32,274.7 174.04,275.45 174.76,276.14 175.48,276.78 176.2,277.3 176.92,277.5 177.64,277.5 178.36,277.5 179.08,277.5 179.8,277.5 L179.8,278zM33.1,288.5 L33.1,288 33.82,287.77 34.54,286.87 35.26,286.97 35.98,287.18 36.7,287.08 37.42,286.74 38.14,286.4 38.86,286.27 39.58,287.13 40.3,288 41.02,288 41.74,288 42.46,288 L42.46,288.5zM43.66,288.5 L43.66,288 44.38,288 45.1,287.36 45.83,281.89 46.55,283.29 47.27,284.31 47.99,286.07 48.71,287.79 49.43,288 50.15,288 50.87,288 51.59,288 52.31,288 53.03,288 L53.03,288.5zM54.23,288.5 L54.23,288 54.95,286.36 55.67,284.58 56.39,285.5 57.11,285.88 57.83,286.2 58.55,287.3 59.27,288 59.99,288 60.71,288 61.43,288 62.15,288 62.87,288 63.59,288 L63.59,288.5zM64.79,288.5 L64.79,288 65.51,288 66.23,288 66.95,287.82 67.67,286.27 68.39,285.47 69.11,285.6 69.84,286.05 70.56,286.55 71.28,286.77 72,287.03 72.72,287.96 73.44,288 74.16,288 L74.16,288.5zM75.36,288.5 L75.36,288 76.08,287.98 76.8,287.19 77.52,287.09 78.24,287.42 78.96,287.51 79.68,287.25 80.4,286.96 81.12,287.01 81.84,287.33 82.56,287.53 83.28,287.77 84,288 84.72,288 L84.72,288.5zM85.92,288.5 L85.92,288 86.64,288 87.36,287.49 88.08,287.48 88.8,287.64 89.52,287.65 90.24,287.5 90.96,287.3 91.68,287.19 92.4,287.46 93.12,288 93.85,288 94.57,288 95.29,288 L95.29,288.5zM96.49,288.5 L96.49,288 97.21,288 97.93,288 98.65,287.73 99.37,286.76 100.09,286.9 100.81,287.16 101.53,287.11 102.25,286.79 102.97,286.42 103.69,286.27 104.41,287.37 105.13,288 105.85,288 L105.85,288.5zM107.05,288.5 L107.05,288 107.77,288 108.49,288 109.21,288 109.93,287.51 110.65,287.15 111.37,286.89 112.09,286.4 112.81,286.27 113.53,287.57 114.25,288 114.97,288 115.69,288 116.41,288 L116.41,288.5zM117.61,288.5 L117.61,288 118.33,288 119.05,287.29 119.78,285.72 120.5,285.47 121.22,285.85 121.94,286.49 122.66,286.77 123.38,286.41 124.1,285.77 124.82,286.46 125.54,288 126.26,288 126.98,288 L126.98,288.5zM128.18,288.5 L128.18,288 128.9,286.15 129.62,283.69 130.34,285 131.06,286.14 131.78,286.6 132.5,286.92 133.22,287.53 133.94,288 134.66,288 135.38,288 136.1,288 136.82,288 137.54,288 L137.54,288.5zM138.74,288.5 L138.74,288 139.46,287.69 140.18,285.77 140.9,285.53 141.62,286.27 142.34,286.91 143.06,287.41 143.79,287.83 144.51,287.96 145.23,288 145.95,288 146.67,288 147.39,288 148.11,288 L148.11,288.5zM149.31,288.5 L149.31,288 150.03,287.93 150.75,287.31 151.47,286.84 152.19,286.48 152.91,286.27 153.63,286.36 154.35,286.69 155.07,287.03 155.79,287.18 156.51,287.26 157.23,287.9 157.95,288 158.67,288 L158.67,288.5zM159.87,288.5 L159.87,288 160.59,288 161.31,288 162.03,288 162.75,287.93 163.47,287.06 164.19,286.74 164.91,286.88 165.63,287.15 166.35,287.49 167.07,287.96 167.8,288 168.52,288 169.24,288 L169.24,288.5zM170.44,288.5 L170.44,288 171.16,288 171.88,288 172.6,287.81 173.32,286.98 174.04,286.54 174.76,286 175.48,285.47 176.2,285.58 176.92,287.42 177.64,288 178.36,288 179.08,288 179.8,288 L179.8,288.5zM33.1,299 L33.1,298.5 33.82,298.5 34.54,298.5 35.26,298.47 35.98,297.65 36.7,296.98 37.42,296.77 38.14,296.92 38.86,297.3 39.58,297.63 40.3,297.64 41.02,297.95 41.74,298.5 42.46,298.5 L42.46,299zM43.66,299 L43.66,298.5 44.38,298.5 45.1,298.5 45.83,298.24 46.55,297.56 47.27,297.22 47.99,296.88 48.71,296.77 49.43,296.97 50.15,297.95 50.87,298.5 51.59,298.5 52.31,298.5 53.03,298.5 L53.03,299zM54.23,299 L54.23,298.5 54.95,298.5 55.67,296.74 56.39,293.75 57.11,295.15 57.83,296.21 58.55,297.08 59.27,298.13 59.99,298.49 60.71,298.5 61.43,298.5 62.15,298.5 62.87,298.5 63.59,298.5 L63.59,299zM64.79,299 L64.79,298.5 65.51,298.5 66.23,297.72 66.95,297.6 67.67,297.84 68.39,297.92 69.11,297.8 69.84,297.55 70.56,297.32 71.28,297.24 72,297.36 72.72,298.24 73.44,298.5 74.16,298.5 L74.16,299zM75.36,299 L75.36,298.5 76.08,298.5 76.8,298.32 77.52,298.13 78.24,297.9 78.96,297.69 79.68,297.76 80.4,298.01 81.12,298.22 81.84,298.49 82.56,298.5 83.28,298.5 84,298.5 84.72,298.5 L84.72,299zM85.92,299 L85.92,298.5 86.64,298.5 87.36,298.5 88.08,298.31 88.8,298.25 89.52,298.09 90.24,297.93 90.96,297.93 91.68,298.08 92.4,298.24 93.12,298.26 93.85,298.37 94.57,298.5 95.29,298.5 L95.29,299zM96.49,299 L96.49,298.5 97.21,298.5 97.93,298.5 98.65,298.24 99.37,297.93 100.09,298.03 100.81,298.19 101.53,298.29 102.25,298.24 102.97,298.09 103.69,297.95 104.41,298.2 105.13,298.5 105.85,298.5 L105.85,299zM107.05,299 L107.05,298.5 107.77,298.5 108.49,297.41 109.21,296.86 109.93,297.3 110.65,297.66 111.37,297.54 112.09,297.08 112.81,296.77 113.53,296.96 114.25,297.51 114.97,298.32 115.69,298.5 116.41,298.5 L116.41,299zM117.61,299 L117.61,298.5 118.33,298.5 119.05,298.26 119.78,295.91 120.5,296.57 121.22,297.47 121.94,297.91 122.66,298.02 123.38,298.37 124.1,298.5 124.82,298.5 125.54,298.5 126.26,298.5 126.98,298.5 L126.98,299zM128.18,299 L128.18,298.5 128.9,298.15 129.62,295.53 130.34,296.41 131.06,297.22 131.78,297.52 132.5,297.71 133.22,298.15 133.94,298.5 134.66,298.5 135.38,298.5 136.1,298.5 136.82,298.5 137.54,298.5 L137.54,299zM138.74,299 L138.74,298.5 139.46,296.93 140.18,290.53 140.9,292.71 141.62,294.28 142.34,295.14 143.06,296.64 143.79,298.1 144.51,298.5 145.23,298.5 145.95,298.5 146.67,298.5 147.39,298.5 148.11,298.5 L148.11,299zM149.31,299 L149.31,298.5 150.03,298.5 150.75,298.5 151.47,298.5 152.19,298.46 152.91,297.77 153.63,297.38 154.35,296.83 155.07,296.43 155.79,296.64 156.51,297.22 157.23,297.78 157.95,298.44 158.67,298.5 L158.67,299zM159.87,299 L159.87,298.5 160.59,298.5 161.31,298.5 162.03,298.02 162.75,297.69 163.47,297.8 164.19,297.98 164.91,298.13 165.63,298.15 166.35,298.03 167.07,298.04 167.8,298.5 168.52,298.5 169.24,298.5 L169.24,299zM170.44,299 L170.44,298.5 171.16,298.5 171.88,298.5 172.6,298.5 173.32,298.25 174.04,297.76 174.76,297.69 175.48,297.82 176.2,298.04 176.92,298.16 177.64,298.14 178.36,298.43 179.08,298.5 179.8,298.5 L179.8,299zM33.1,309.5 L33.1,309 33.82,309 34.54,309 35.26,308.55 35.98,308.08 36.7,308.25 37.42,308.53 38.14,308.59 38.86,308.54 39.58,308.99 40.3,309 41.02,309 41.74,309 42.46,309 L42.46,309.5zM43.66,309.5 L43.66,309 44.38,309 45.1,309 45.83,308.69 46.55,308.24 47.27,308.08 47.99,308.2 48.71,308.46 49.43,308.6 50.15,308.47 50.87,308.6 51.59,309 52.31,309 53.03,309 L53.03,309.5zM54.23,309.5 L54.23,309 54.95,309 55.67,309 56.39,309 57.11,308.67 57.83,307.99 58.55,307.6 59.27,307.22 59.99,307.16 60.71,307.46 61.43,307.88 62.15,308.4 62.87,309 63.59,309 L63.59,309.5zM64.79,309.5 L64.79,309 65.51,309 66.23,309 66.95,309 67.67,308.51 68.39,308.08 69.11,308.26 69.84,308.46 70.56,308.57 71.28,308.52 72,308.34 72.72,308.28 73.44,308.89 74.16,309 L74.16,309.5zM75.36,309.5 L75.36,309 76.08,309 76.8,309 77.52,309 78.24,309 78.96,308.85 79.68,308.83 80.4,308.73 81.12,308.61 81.84,308.54 82.56,308.56 83.28,308.81 84,309 84.72,309 L84.72,309.5zM85.92,309.5 L85.92,309 86.64,309 87.36,309 88.08,309 88.8,309 89.52,308.69 90.24,308.54 90.96,308.65 91.68,308.79 92.4,309 93.12,309 93.85,309 94.57,309 95.29,309 L95.29,309.5zM96.49,309.5 L96.49,309 97.21,308.99 97.93,307.11 98.65,306.08 99.37,307.31 100.09,308.35 100.81,308.88 101.53,308.78 102.25,308.9 102.97,309 103.69,309 104.41,309 105.13,309 105.85,309 L105.85,309.5zM107.05,309.5 L107.05,309 107.77,309 108.49,309 109.21,306.26 109.93,305.22 110.65,306.36 111.37,307.59 112.09,308.74 112.81,309 113.53,309 114.25,309 114.97,309 115.69,309 116.41,309 L116.41,309.5zM117.61,309.5 L117.61,309 118.33,309 119.05,308.49 119.78,307.28 120.5,307.54 121.22,307.6 121.94,307.13 122.66,306.5 123.38,306.24 124.1,306.57 124.82,307.35 125.54,308.66 126.26,309 126.98,309 L126.98,309.5zM128.18,309.5 L128.18,309 128.9,309 129.62,309 130.34,309 131.06,308.88 131.78,306.97 132.5,306.24 133.22,307.03 133.94,307.55 134.66,307.17 135.38,306.35 136.1,307.17 136.82,309 137.54,309 L137.54,309.5zM138.74,309.5 L138.74,309 139.46,309 140.18,306.85 140.9,305.58 141.62,306.78 142.34,308.01 143.06,308.85 143.79,309 144.51,309 145.23,309 145.95,309 146.67,309 147.39,309 148.11,309 L148.11,309.5zM149.31,309.5 L149.31,309 150.03,308.03 150.75,304.14 151.47,305.44 152.19,306.5 152.91,307.42 153.63,308.43 154.35,309 155.07,309 155.79,309 156.51,309 157.23,309 157.95,309 158.67,309 L158.67,309.5zM159.87,309.5 L159.87,309 160.59,309 161.31,308.85 162.03,306.2 162.75,306.61 163.47,307.26 164.19,307.88 164.91,308.73 165.63,309 166.35,309 167.07,309 167.8,309 168.52,309 169.24,309 L169.24,309.5zM170.44,309.5 L170.44,309 171.16,309 171.88,309 172.6,309 173.32,308.62 174.04,308.66 174.76,308.79 175.48,308.8 176.2,308.69 176.92,308.54 177.64,308.78 178.36,309 179.08,309 179.8,309 L179.8,309.5zM33.1,320 L33.1,319.5 33.82,319.5 34.54,319.5 35.26,319.5 35.98,319.39 36.7,319.07 37.42,318.98 38.14,318.78 38.86,318.58 39.58,319.12 40.3,319.5 41.02,319.5 41.74,319.5 42.46,319.5 L42.46,320zM43.66,320 L43.66,319.5 44.38,319.5 45.1,319.5 45.83,319.5 46.55,319.5 47.27,319.18 47.99,319.09 48.71,318.98 49.43,318.77 50.15,318.6 50.87,318.58 51.59,318.96 52.31,319.5 53.03,319.5 L53.03,320zM54.23,320 L54.23,319.5 54.95,319.5 55.67,319.17 56.39,318.65 57.11,318.88 57.83,319.07 58.55,319.06 59.27,318.85 59.99,318.62 60.71,318.58 61.43,319.21 62.15,319.5 62.87,319.5 63.59,319.5 L63.59,320zM64.79,320 L64.79,319.5 65.51,319.39 66.23,318.53 66.95,318.59 67.67,318.84 68.39,318.74 69.11,318.39 69.84,318.12 70.56,318.18 71.28,318.82 72,319.5 72.72,319.5 73.44,319.5 74.16,319.5 L74.16,320zM75.36,320 L75.36,319.5 76.08,319.5 76.8,319.45 77.52,319.05 78.24,319.19 78.96,319.34 79.68,319.32 80.4,319.15 81.12,319.04 81.84,319.11 82.56,319.5 83.28,319.5 84,319.5 84.72,319.5 L84.72,320zM85.92,320 L85.92,319.5 86.64,319.5 87.36,319.5 88.08,319.5 88.8,319.48 89.52,319.34 90.24,319.31 90.96,319.16 91.68,319.04 92.4,319.08 93.12,319.24 93.85,319.5 94.57,319.5 95.29,319.5 L95.29,320zM96.49,320 L96.49,319.5 97.21,319.5 97.93,319.5 98.65,319.41 99.37,318.53 100.09,317.98 100.81,317.44 101.53,316.9 102.25,316.74 102.97,317.08 103.69,317.76 104.41,319.1 105.13,319.5 105.85,319.5 L105.85,320zM107.05,320 L107.05,319.5 107.77,319.5 108.49,319.5 109.21,315.39 109.93,314.25 110.65,315.73 111.37,316.79 112.09,317.79 112.81,319.06 113.53,319.5 114.25,319.5 114.97,319.5 115.69,319.5 116.41,319.5 L116.41,320zM117.61,320 L117.61,319.5 118.33,319.5 119.05,319.5 119.78,318.02 120.5,314.19 121.22,315.07 121.94,315.87 122.66,318.03 123.38,319.5 124.1,319.5 124.82,319.5 125.54,319.5 126.26,319.5 126.98,319.5 L126.98,320zM128.18,320 L128.18,319.5 128.9,319.5 129.62,318.01 130.34,315.5 131.06,316.95 131.78,318.22 132.5,318.78 133.22,318.65 133.94,319.1 134.66,319.5 135.38,319.5 136.1,319.5 136.82,319.5 137.54,319.5 L137.54,320zM138.74,320 L138.74,319.5 139.46,319.5 140.18,318.52 140.9,316.43 141.62,317.25 142.34,317.9 143.06,318.35 143.79,319.14 144.51,319.48 145.23,319.5 145.95,319.5 146.67,319.5 147.39,319.5 148.11,319.5 L148.11,320zM149.31,320 L149.31,319.5 150.03,319.5 150.75,319.5 151.47,319.5 152.19,319.25 152.91,318.38 153.63,318.12 154.35,318.22 155.07,318.58 155.79,319.02 156.51,319.5 157.23,319.5 157.95,319.5 158.67,319.5 L158.67,320zM159.87,320 L159.87,319.5 160.59,319.5 161.31,319.5 162.03,319.13 162.75,318.12 163.47,318.15 164.19,318.36 164.91,318.64 165.63,318.83 166.35,318.83 167.07,318.63 167.8,319.12 168.52,319.5 169.24,319.5 L169.24,320zM170.44,320 L170.44,319.5 171.16,319.5 171.88,319.4 172.6,319.31 173.32,319.17 174.04,319.05 174.76,319.04 175.48,319.16 176.2,319.3 176.92,319.34 177.64,319.26 178.36,319.24 179.08,319.5 179.8,319.5 L179.8,320zM33.1,330.5 L33.1,330 33.82,330 34.54,330 35.26,330 35.98,329.7 36.7,329.27 37.42,328.95 38.14,328.85 38.86,329.08 39.58,329.39 40.3,329.78 41.02,330 41.74,330 42.46,330 L42.46,330.5zM43.66,330.5 L43.66,330 44.38,330 45.1,330 45.83,329.79 46.55,329.34 47.27,329.01 47.99,328.62 48.71,328.64 49.43,329.03 50.15,329.32 50.87,329.54 51.59,330 52.31,330 53.03,330 L53.03,330.5zM54.23,330.5 L54.23,330 54.95,330 55.67,330 56.39,329.33 57.11,329.08 57.83,328.98 58.55,328.54 59.27,328.16 59.99,328.18 60.71,328.58 61.43,329.29 62.15,329.98 62.87,330 63.59,330 L63.59,330.5zM64.79,330.5 L64.79,330 65.51,330 66.23,330 66.95,329.4 67.67,328.16 68.39,328.42 69.11,328.79 69.84,328.86 70.56,328.58 71.28,329.02 72,330 72.72,330 73.44,330 74.16,330 L74.16,330.5zM75.36,330.5 L75.36,330 76.08,330 76.8,329.93 77.52,329.54 78.24,329.6 78.96,329.77 79.68,329.86 80.4,329.77 81.12,329.61 81.84,329.54 82.56,329.97 83.28,330 84,330 84.72,330 L84.72,330.5zM85.92,330.5 L85.92,330 86.64,330 87.36,330 88.08,329.98 88.8,329.54 89.52,329.58 90.24,329.72 90.96,329.84 91.68,329.83 92.4,329.71 93.12,329.58 93.85,329.88 94.57,330 95.29,330 L95.29,330.5zM96.49,330.5 L96.49,330 97.21,330 97.93,330 98.65,330 99.37,329.36 100.09,328.16 100.81,328.34 101.53,328.82 102.25,329.12 102.97,328.95 103.69,328.74 104.41,329.71 105.13,330 105.85,330 L105.85,330.5zM107.05,330.5 L107.05,330 107.77,330 108.49,328.34 109.21,323.91 109.93,325.56 110.65,326.67 111.37,327.77 112.09,329.33 112.81,330 113.53,330 114.25,330 114.97,330 115.69,330 116.41,330 L116.41,330.5zM117.61,330.5 L117.61,330 118.33,330 119.05,329.76 119.78,324.83 120.5,324.44 121.22,326.73 121.94,328.47 122.66,329.35 123.38,329.42 124.1,329.84 124.82,330 125.54,330 126.26,330 126.98,330 L126.98,330.5zM128.18,330.5 L128.18,330 128.9,330 129.62,329.8 130.34,326.2 131.06,324.63 131.78,326.56 132.5,328.25 133.22,329.57 133.94,329.96 134.66,329.99 135.38,330 136.1,330 136.82,330 137.54,330 L137.54,330.5zM138.74,330.5 L138.74,330 139.46,329.73 140.18,327.73 140.9,327.1 141.62,328.05 142.34,328.57 143.06,329.03 143.79,329.71 144.51,330 145.23,330 145.95,330 146.67,330 147.39,330 148.11,330 L148.11,330.5zM149.31,330.5 L149.31,330 150.03,330 150.75,330 151.47,330 152.19,329.74 152.91,329.46 153.63,329.23 154.35,329.08 155.07,329.14 155.79,329.36 156.51,329.77 157.23,330 157.95,330 158.67,330 L158.67,330.5zM159.87,330.5 L159.87,330 160.59,330 161.31,329.72 162.03,328.97 162.75,329.18 163.47,329.34 164.19,329.21 164.91,328.88 165.63,328.62 166.35,329.12 167.07,330 167.8,330 168.52,330 169.24,330 L169.24,330.5zM170.44,330.5 L170.44,330 171.16,330 171.88,330 172.6,329.79 173.32,329.56 174.04,329.54 174.76,329.64 175.48,329.78 176.2,329.85 176.92,329.8 177.64,329.99 178.36,330 179.08,330 179.8,330 L179.8,330.5zM33.1,341 L33.1,340.5 33.82,340.5 34.54,340.5 35.26,340.5 35.98,340.5 36.7,339.86 37.42,339.43 38.14,339.35 38.86,339.51 39.58,339.79 40.3,339.97 41.02,340.17 41.74,340.5 42.46,340.5 L42.46,341zM43.66,341 L43.66,340.5 44.38,340.5 45.1,340.5 45.83,340.5 46.55,340.38 47.27,339.73 47.99,339.31 48.71,339.12 49.43,339.31 50.15,339.68 50.87,340.27 51.59,340.5 52.31,340.5 53.03,340.5 L53.03,341zM54.23,341 L54.23,340.5 54.95,340.5 55.67,340.5 56.39,340.5 57.11,340.34 57.83,339.59 58.55,339.24 59.27,339.12 59.99,339.32 60.71,339.93 61.43,340.5 62.15,340.5 62.87,340.5 63.59,340.5 L63.59,341zM64.79,341 L64.79,340.5 65.51,340.33 66.23,338 66.95,336.86 67.67,337.8 68.39,338.27 69.11,338.89 69.84,340.04 70.56,340.5 71.28,340.5 72,340.5 72.72,340.5 73.44,340.5 74.16,340.5 L74.16,341zM75.36,341 L75.36,340.5 76.08,340.5 76.8,340.5 77.52,340.16 78.24,339.8 78.96,339.5 79.68,339.18 80.4,339.12 81.12,339.38 81.84,339.87 82.56,340.45 83.28,340.5 84,340.5 84.72,340.5 L84.72,341zM85.92,341 L85.92,340.5 86.64,340.5 87.36,340.44 88.08,340.07 88.8,340.1 89.52,339.95 90.24,339.68 90.96,339.58 91.68,339.76 92.4,340.03 93.12,340.14 93.85,340.44 94.57,340.5 95.29,340.5 L95.29,341zM96.49,341 L96.49,340.5 97.21,340.5 97.93,340.5 98.65,340.5 99.37,340.11 100.09,339.84 100.81,339.58 101.53,339.25 102.25,339.12 102.97,339.29 103.69,339.62 104.41,340.24 105.13,340.5 105.85,340.5 L105.85,341zM107.05,341 L107.05,340.5 107.77,340.5 108.49,340.38 109.21,336.65 109.93,337.02 110.65,337.86 111.37,338.49 112.09,339.74 112.81,340.48 113.53,340.5 114.25,340.5 114.97,340.5 115.69,340.5 116.41,340.5 L116.41,341zM117.61,341 L117.61,340.5 118.33,339.66 119.05,333.64 119.78,334.52 120.5,336.74 121.22,338.47 121.94,339.86 122.66,340.32 123.38,340.5 124.1,340.5 124.82,340.5 125.54,340.5 126.26,340.5 126.98,340.5 L126.98,341zM128.18,341 L128.18,340.5 128.9,340.5 129.62,340.5 130.34,338.37 131.06,333 131.78,335.7 132.5,338.02 133.22,339.94 133.94,340.47 134.66,340.5 135.38,340.5 136.1,340.5 136.82,340.5 137.54,340.5 L137.54,341zM138.74,341 L138.74,340.5 139.46,340.4 140.18,338.06 140.9,336.89 141.62,337.91 142.34,338.83 143.06,339.78 143.79,340.48 144.51,340.5 145.23,340.5 145.95,340.5 146.67,340.5 147.39,340.5 148.11,340.5 L148.11,341zM149.31,341 L149.31,340.5 150.03,340.5 150.75,340.1 151.47,338.73 152.19,338.9 152.91,339.33 153.63,339.28 154.35,338.8 155.07,338.29 155.79,338.2 156.51,338.59 157.23,340.02 157.95,340.5 158.67,340.5 L158.67,341zM159.87,341 L159.87,340.5 160.59,340.5 161.31,340.5 162.03,340.5 162.75,340.25 163.47,340.3 164.19,340.34 164.91,340.21 165.63,340.06 166.35,340.04 167.07,340.32 167.8,340.5 168.52,340.5 169.24,340.5 L169.24,341zM170.44,341 L170.44,340.5 171.16,340.5 171.88,340.5 172.6,340.35 173.32,340.12 174.04,340.04 174.76,340.09 175.48,340.23 176.2,340.34 176.92,340.47 177.64,340.5 178.36,340.5 179.08,340.5 179.8,340.5 L179.8,341zM33.1,351.5 L33.1,351 33.82,351 34.54,350.42 35.26,350.25 35.98,350.34 36.7,350.08 37.42,349.72 38.14,349.62 38.86,349.87 39.58,350.25 40.3,350.84 41.02,351 41.74,351 42.46,351 L42.46,351.5zM43.66,351.5 L43.66,351 44.38,351 45.1,349.88 45.83,349.16 46.55,349.56 47.27,349.94 47.99,350.03 48.71,349.77 49.43,349.34 50.15,350.2 50.87,351 51.59,351 52.31,351 53.03,351 L53.03,351.5zM54.23,351.5 L54.23,351 54.95,350.95 55.67,350.5 56.39,350.28 57.11,350.02 57.83,349.75 58.55,349.62 59.27,349.72 59.99,349.99 60.71,350.73 61.43,351 62.15,351 62.87,351 63.59,351 L63.59,351.5zM64.79,351.5 L64.79,351 65.51,350.84 66.23,350.22 66.95,350.29 67.67,350.35 68.39,350.18 69.11,349.89 69.84,349.66 70.56,349.62 71.28,349.8 72,350.72 72.72,351 73.44,351 74.16,351 L74.16,351.5zM75.36,351.5 L75.36,351 76.08,351 76.8,351 77.52,351 78.24,350.69 78.96,350.08 79.68,350.16 80.4,350.41 81.12,350.59 81.84,350.86 82.56,351 83.28,351 84,351 84.72,351 L84.72,351.5zM85.92,351.5 L85.92,351 86.64,350.86 87.36,348.91 88.08,348.18 88.8,349.42 89.52,350.43 90.24,350.5 90.96,350.13 91.68,350.6 92.4,351 93.12,351 93.85,351 94.57,351 95.29,351 L95.29,351.5zM96.49,351.5 L96.49,351 97.21,351 97.93,351 98.65,350.96 99.37,350.2 100.09,350.08 100.81,350.37 101.53,350.49 102.25,350.47 102.97,350.91 103.69,351 104.41,351 105.13,351 105.85,351 L105.85,351.5zM107.05,351.5 L107.05,351 107.77,351 108.49,351 109.21,351 109.93,350.81 110.65,350.57 111.37,350.3 112.09,350.08 112.81,350.17 113.53,350.79 114.25,351 114.97,351 115.69,351 116.41,351 L116.41,351.5zM117.61,351.5 L117.61,351 118.33,351 119.05,349.79 119.78,348.72 120.5,348.7 121.22,348.98 121.94,349.41 122.66,349.77 123.38,349.86 124.1,350.04 124.82,350.92 125.54,351 126.26,351 126.98,351 L126.98,351.5zM128.18,351.5 L128.18,351 128.9,351 129.62,351 130.34,351 131.06,350.75 131.78,350.07 132.5,350.27 133.22,350.33 133.94,350.06 134.66,349.71 135.38,349.62 136.1,350.06 136.82,350.93 137.54,351 L137.54,351.5zM138.74,351.5 L138.74,351 139.46,351 140.18,351 140.9,351 141.62,350.39 142.34,350.41 143.06,350.59 143.79,350.44 144.51,350.15 145.23,350.08 145.95,350.63 146.67,351 147.39,351 148.11,351 L148.11,351.5zM149.31,351.5 L149.31,351 150.03,351 150.75,351 151.47,350.72 152.19,350.54 152.91,350.54 153.63,350.62 154.35,350.73 155.07,350.82 155.79,350.85 156.51,350.98 157.23,351 157.95,351 158.67,351 L158.67,351.5zM159.87,351.5 L159.87,351 160.59,351 161.31,351 162.03,351 162.75,350.82 163.47,350.83 164.19,350.83 164.91,350.67 165.63,350.54 166.35,350.62 167.07,351 167.8,351 168.52,351 169.24,351 L169.24,351.5zM170.44,351.5 L170.44,351 171.16,351 171.88,351 172.6,350.77 173.32,350.77 174.04,350.77 174.76,350.68 175.48,350.54 176.2,350.54 176.92,350.98 177.64,351 178.36,351 179.08,351 179.8,351 L179.8,351.5zM33.1,362 L33.1,361.5 33.82,361.5 34.54,361.34 35.26,360.67 35.98,360.05 36.7,359.66 37.42,359.84 38.14,360.38 38.86,360.61 39.58,360.26 40.3,360.93 41.02,361.5 41.74,361.5 42.46,361.5 L42.46,362zM43.66,362 L43.66,361.5 44.38,361.5 45.1,361.5 45.83,361.5 46.55,361.01 47.27,359.66 47.99,359.94 48.71,360.44 49.43,360.4 50.15,359.87 50.87,359.8 51.59,361.17 52.31,361.5 53.03,361.5 L53.03,362zM54.23,362 L54.23,361.5 54.95,361.17 55.67,360.12 56.39,360.27 57.11,360.57 57.83,360.58 58.55,360.29 59.27,359.89 59.99,359.66 60.71,359.74 61.43,360.09 62.15,361.11 62.87,361.5 63.59,361.5 L63.59,362zM64.79,362 L64.79,361.5 65.51,361.5 66.23,361.5 66.95,361.5 67.67,361.23 68.39,360.64 69.11,360.34 69.84,360.12 70.56,360.13 71.28,360.36 72,360.8 72.72,361.44 73.44,361.5 74.16,361.5 L74.16,362zM75.36,362 L75.36,361.5 76.08,361.5 76.8,361.5 77.52,361.5 78.24,361.45 78.96,360.7 79.68,360.17 80.4,360.12 81.12,360.43 81.84,361.09 82.56,361.5 83.28,361.5 84,361.5 84.72,361.5 L84.72,362zM85.92,362 L85.92,361.5 86.64,361.5 87.36,361.5 88.08,361.5 88.8,361.21 89.52,360.79 90.24,360.51 90.96,360.16 91.68,360.12 92.4,361.18 93.12,361.5 93.85,361.5 94.57,361.5 95.29,361.5 L95.29,362zM96.49,362 L96.49,361.5 97.21,361.5 97.93,361.5 98.65,361.31 99.37,360.86 100.09,360.74 100.81,360.48 101.53,360.22 102.25,360.12 102.97,360.22 103.69,360.47 104.41,361.13 105.13,361.5 105.85,361.5 L105.85,362zM107.05,362 L107.05,361.5 107.77,361.5 108.49,361.5 109.21,361.5 109.93,361.04 110.65,360.58 111.37,360.76 112.09,360.98 112.81,361.09 113.53,361 114.25,361.04 114.97,361.5 115.69,361.5 116.41,361.5 L116.41,362zM117.61,362 L117.61,361.5 118.33,361.5 119.05,361.5 119.78,360.78 120.5,360.12 121.22,360.35 121.94,360.66 122.66,360.84 123.38,360.76 124.1,360.47 124.82,360.19 125.54,360.73 126.26,361.5 126.98,361.5 L126.98,362zM128.18,362 L128.18,361.5 128.9,361.5 129.62,361.5 130.34,361.31 131.06,360.31 131.78,360.28 132.5,360.62 133.22,360.8 133.94,360.68 134.66,360.35 135.38,360.12 136.1,361.09 136.82,361.5 137.54,361.5 L137.54,362zM138.74,362 L138.74,361.44 139.46,361.44 140.18,361.44 140.9,361.31 141.62,359.9 142.34,359.68 143.06,360.05 143.79,360.12 144.51,359.85 145.23,359.66 145.95,360.87 146.67,361.44 147.39,361.44 148.11,361.44 L148.11,362zM149.31,362 L149.31,361.5 150.03,361.5 150.75,361.5 151.47,361.5 152.19,360.91 152.91,360.19 153.63,360.12 154.35,360.42 155.07,360.78 155.79,361.21 156.51,361.5 157.23,361.5 157.95,361.5 158.67,361.5 L158.67,362zM159.87,362 L159.87,361.5 160.59,361.5 161.31,361.5 162.03,361.2 162.75,360.71 163.47,360.38 164.19,360.12 164.91,360.15 165.63,360.44 166.35,360.75 167.07,360.84 167.8,361.03 168.52,361.5 169.24,361.5 L169.24,362zM170.44,362 L170.44,361.5 171.16,361.5 171.88,361.46 172.6,361.13 173.32,361.08 174.04,360.94 174.76,360.73 175.48,360.58 176.2,360.74 176.92,361.43 177.64,361.5 178.36,361.5 179.08,361.5 179.8,361.5 L179.8,362zM33.1,372.5 L33.1,372 33.82,372 34.54,371.56 35.26,371.31 35.98,371.33 36.7,371.06 37.42,370.73 38.14,370.62 38.86,371.03 39.58,371.92 40.3,372 41.02,372 41.74,372 42.46,372 L42.46,372.5zM43.66,372.5 L43.66,372 44.38,372 45.1,372 45.83,372 46.55,371.01 47.27,370.16 47.99,370.34 48.71,370.72 49.43,371.05 50.15,371.1 50.87,370.83 51.59,370.92 52.31,371.97 53.03,372 L53.03,372.5zM54.23,372.5 L54.23,372 54.95,372 55.67,372 56.39,370.89 57.11,369.7 57.83,370.16 58.55,370.6 59.27,370.76 59.99,370.75 60.71,371.61 61.43,372 62.15,372 62.87,372 63.59,372 L63.59,372.5zM64.79,372.5 L64.79,372 65.51,372 66.23,372 66.95,371.57 67.67,370.8 68.39,370.62 69.11,370.63 69.84,370.83 70.56,371.11 71.28,371.31 72,371.33 72.72,371.67 73.44,372 74.16,372 L74.16,372.5zM75.36,372.5 L75.36,372 76.08,372 76.8,372 77.52,372 78.24,371.73 78.96,370.78 79.68,370.62 80.4,370.66 81.12,370.87 81.84,371.13 82.56,371.32 83.28,371.66 84,372 84.72,372 L84.72,372.5zM85.92,372.5 L85.92,372 86.64,372 87.36,371.95 88.08,371.28 88.8,371.12 89.52,370.99 90.24,370.67 90.96,370.33 91.68,370.16 92.4,370.26 93.12,370.56 93.85,371.66 94.57,372 95.29,372 L95.29,372.5zM96.49,372.5 L96.49,372 97.21,372 97.93,372 98.65,372 99.37,371.5 100.09,371.09 100.81,370.96 101.53,370.54 102.25,370.17 102.97,370.16 103.69,371.45 104.41,372 105.13,372 105.85,372 L105.85,372.5zM107.05,372.5 L107.05,372 107.77,372 108.49,371.84 109.21,371.31 109.93,371.33 110.65,371.21 111.37,370.89 112.09,370.62 112.81,370.92 113.53,371.91 114.25,372 114.97,372 115.69,372 116.41,372 L116.41,372.5zM117.61,372.5 L117.61,372 118.33,372 119.05,371.63 119.78,371.13 120.5,371.11 121.22,371.38 121.94,371.59 122.66,371.49 123.38,371.2 124.1,371.08 124.82,371.62 125.54,372 126.26,372 126.98,372 L126.98,372.5zM128.18,372.5 L128.18,372 128.9,372 129.62,372 130.34,371.87 131.06,371.16 131.78,371.23 132.5,371.43 133.22,371.36 133.94,371.08 134.66,371.16 135.38,371.95 136.1,372 136.82,372 137.54,372 L137.54,372.5zM138.74,372.5 L138.74,372 139.46,372 140.18,372 140.9,371.97 141.62,371.61 142.34,371.35 143.06,371.12 143.79,371.08 144.51,371.27 145.23,371.51 145.95,371.59 146.67,371.81 147.39,372 148.11,372 L148.11,372.5zM149.31,372.5 L149.31,372 150.03,372 150.75,372 151.47,371.9 152.19,371.21 152.91,371.08 153.63,371.17 154.35,371.37 155.07,371.55 155.79,371.6 156.51,371.85 157.23,372 157.95,372 158.67,372 L158.67,372.5zM159.87,372.5 L159.87,372 160.59,372 161.31,372 162.03,372 162.75,371.49 163.47,371.09 164.19,371.35 164.91,371.33 165.63,371.08 166.35,371.6 167.07,372 167.8,372 168.52,372 169.24,372 L169.24,372.5zM170.44,372.5 L170.44,372 171.16,372 171.88,372 172.6,371.87 173.32,371.59 174.04,371.54 174.76,371.61 175.48,371.75 176.2,371.85 176.92,371.96 177.64,372 178.36,372 179.08,372 179.8,372 L179.8,372.5z"/>
<path fill="none" stroke="#111" stroke-width="1.15" d="M32.5 235.9V373.6M43.5 235.9V373.6M53.5 235.9V373.6M64.5 235.9V373.6M74.5 235.9V373.6M85.5 235.9V373.6M95.5 235.9V373.6M106.5 235.9V373.6M117.5 235.9V373.6M127.5 235.9V373.6M138.5 235.9V373.6M148.5 235.9V373.6M159.5 235.9V373.6M169.5 235.9V373.6M180.5 235.9V373.6M31.9 236.5H181M31.9 246.5H181M31.9 257.5H181M31.9 268.5H181M31.9 278.5H181M31.9 288.5H181M31.9 299.5H181M31.9 310.5H181M31.9 320.5H181M31.9 330.5H181M31.9 341.5H181M31.9 352.5H181M31.9 362.5H181M31.9 372.5H181"/>
<path fill="none" stroke="#111" stroke-width="1.2" d="M186.8 362.8H182.6V373.2H186.8M169.9 378.8V375.8H180.6V378.8"/>
<text x="0.9" y="214.6" font-size="17" font-weight="bold" textLength="9.9" lengthAdjust="spacingAndGlyphs" >b</text><text x="141.3" y="226.4" font-size="10.2" textLength="33.8" lengthAdjust="spacingAndGlyphs" >N212°E</text><path d="M143.8 231.3H179" stroke="#000" stroke-width="1.3"/><path d="M178 228.4L185.4 231.3L178 234.2z" fill="#000"/><text x="0" y="0" font-size="8.9" text-anchor="middle" textLength="78.3" lengthAdjust="spacingAndGlyphs" transform="translate(28.4,304.9) rotate(-90)">Along Dip Direction</text><text x="107.1" y="384.2" font-size="8.9" text-anchor="middle" textLength="85.8" lengthAdjust="spacingAndGlyphs" >Along Strike Direction</text><text x="175.2" y="387.4" font-size="8.4" text-anchor="middle" textLength="19.2" lengthAdjust="spacingAndGlyphs" >3.0 s</text><text font-size="8.6" transform="translate(194.6,371.6) rotate(-90)">4.5 x 10<tspan font-size="5.6" dy="-3.2">16</tspan><tspan dy="3.2"> Nm/s</tspan></text>
<g clip-path="url(#clipC0)">
<path fill="none" stroke="#1a1a1a" stroke-width="0.55"  d="M316.01,96.06 314.01,96.48 312.01,96.23 310,95.2 308.76,94 307.56,92.01 306.96,90.02 306.7,84.04 307.8,77.56 307.59,74.07 308.41,72.08 310.5,71.02 313.51,71.08 317.52,70.44 320.02,71.35 321.01,73.07 320.83,74.57 319.53,77.56 320.45,83.04 320.69,89.02 320.21,91.51 319.2,93.51 317.81,95 316.01,96.06"/>
<path fill="none" stroke="#1a1a1a" stroke-width="0.55"  d="M314.01,93.52 311.89,93.01 310.05,91.01 309.41,89.02 308.92,84.53 309.05,81.54 309.87,79.05 311.5,76.74 313.01,76.18 315.01,76.54 316.52,77.8 317.75,80.05 318.33,83.04 318.15,88.52 317.54,91.01 316.01,92.84 314.01,93.52"/>
<path fill="none" stroke="#1a1a1a" stroke-width="0.55"  d="M314.01,90.54 313.01,90.34 311.87,89.02 310.61,85.53 310.19,83.04 310.43,81.05 311.15,79.55 312.01,78.67 313.51,78.17 315.01,78.59 316.01,79.52 317.02,82.54 316.77,85.03 315.64,89.02 315.01,90.01 314.01,90.54"/>
<path fill="none" stroke="#1a1a1a" stroke-width="0.55"  d="M314.01,86.17 312.51,85.69 311.3,83.04 311.85,80.55 313.51,79.52 315.01,80.14 315.9,82.04 315.51,84.55 314.01,86.17"/>
<path fill="none" stroke="#1a1a1a" stroke-width="0.55"  d="M314.01,83.71 313.01,83.57 312.59,82.54 312.87,81.54 313.51,81.13 314.57,82.04 314.53,83.04 314.01,83.71"/>
</g>
<polygon points="313.6,74.7 315.15,79.16 319.88,79.26 316.11,82.12 317.48,86.64 313.6,83.94 309.72,86.64 311.09,82.12 307.32,79.26 312.05,79.16" fill="none" stroke="#333" stroke-width="0.7"/>
<rect x="272.17" y="39.43" width="69.15" height="63.29" fill="none" stroke="#000" stroke-width="1.1"/>
<path fill="none" stroke="#000" stroke-width="0.6" d="M274 102.73v2.8M274 39.43v-2.8M278.95 102.73v2.8M278.95 39.43v-2.8M283.9 102.73v2.8M283.9 39.43v-2.8M293.8 102.73v2.8M293.8 39.43v-2.8M298.75 102.73v2.8M298.75 39.43v-2.8M303.7 102.73v2.8M303.7 39.43v-2.8M308.65 102.73v2.8M308.65 39.43v-2.8M318.55 102.73v2.8M318.55 39.43v-2.8M323.5 102.73v2.8M323.5 39.43v-2.8M328.45 102.73v2.8M328.45 39.43v-2.8M333.4 102.73v2.8M333.4 39.43v-2.8M272.17 42.1h-2.8M341.32 42.1h2.8M272.17 46.95h-2.8M341.32 46.95h2.8M272.17 51.8h-2.8M341.32 51.8h2.8M272.17 61.5h-2.8M341.32 61.5h2.8M272.17 66.35h-2.8M341.32 66.35h2.8M272.17 71.2h-2.8M341.32 71.2h2.8M272.17 76.05h-2.8M341.32 76.05h2.8M272.17 85.75h-2.8M341.32 85.75h2.8M272.17 90.6h-2.8M341.32 90.6h2.8M272.17 95.45h-2.8M341.32 95.45h2.8M272.17 100.3h-2.8M341.32 100.3h2.8"/>
<path fill="none" stroke="#555" stroke-width="0.5" d="M288.85 102.73v3.6M288.85 39.43v-3.6M313.6 102.73v3.6M313.6 39.43v-3.6M338.35 102.73v3.6M338.35 39.43v-3.6M272.17 56.65h-3.6M341.32 56.65h3.6M272.17 80.9h-3.6M341.32 80.9h3.6"/>
<g clip-path="url(#clipC1)">
<path fill="none" stroke="#1a1a1a" stroke-width="0.55"  d="M315.51,178.1 311.5,177.94 308.5,177.22 305.49,175.65 303.37,173.59 302.26,171.59 301.63,168.11 301.81,164.12 302.66,160.63 304.99,156.78 308.5,154.25 320.02,149.94 322.53,149.6 325.03,150.02 327.53,151.66 328.51,154.15 328.28,155.65 326.18,160.63 326.65,168.11 326.09,171.59 324.53,174.27 322.03,176.31 319.02,177.54 315.51,178.1M299.48,175.68 297.98,175.5 297.27,174.59 297.47,173.25 298.48,172.47 299.98,172.56 300.85,173.59 300.72,174.59 299.48,175.68"/>
<path fill="none" stroke="#1a1a1a" stroke-width="0.55"  d="M316.01,175.63 313.01,175.66 310.5,175.19 308,174.09 306.26,172.59 305.08,170.6 304.52,168.11 304.56,165.12 305.17,162.13 306.99,158.73 309.6,156.64 312.01,155.69 317.02,154.55 321.03,152.96 323.03,152.92 324.12,153.65 324.4,154.65 322.86,159.14 323.8,166.61 323.39,170.6 322.31,172.59 320.65,174.09 318.52,175.1 316.01,175.63"/>
<path fill="none" stroke="#1a1a1a" stroke-width="0.55"  d="M317.02,173.71 313.51,174 310.5,173.29 308.1,171.59 306.81,169.1 306.65,165.12 307.59,161.63 309.5,159.1 312.51,157.56 316.01,157.22 318.52,157.89 319.99,159.63 321.03,162.41 321.77,167.11 321.35,170.1 319.52,172.54 317.02,173.71"/>
<path fill="none" stroke="#1a1a1a" stroke-width="0.55"  d="M316.01,172.21 313.51,172.34 311.11,171.59 309.5,170.16 308.8,168.6 308.63,165.61 309.39,162.62 310.82,160.63 313.01,159.47 315.01,159.33 317.02,160.06 318.4,161.63 319.35,164.12 319.77,167.11 319.37,169.6 318.02,171.31 316.01,172.21"/>
<path fill="none" stroke="#1a1a1a" stroke-width="0.55"  d="M314.51,170.12 313.01,169.83 312.02,169.1 311.29,167.11 312.01,163.72 313.01,162.64 314.01,162.33 315.01,162.52 316.01,163.38 317.1,166.61 316.56,169.1 314.51,170.12"/>
</g>
<polygon points="313.6,158.77 315.15,163.23 319.88,163.33 316.11,166.19 317.48,170.71 313.6,168.01 309.72,170.71 311.09,166.19 307.32,163.33 312.05,163.23" fill="none" stroke="#333" stroke-width="0.7"/>
<rect x="272.17" y="123.5" width="69.15" height="63.29" fill="none" stroke="#000" stroke-width="1.1"/>
<path fill="none" stroke="#000" stroke-width="0.6" d="M274 186.79v2.8M274 123.5v-2.8M278.95 186.79v2.8M278.95 123.5v-2.8M283.9 186.79v2.8M283.9 123.5v-2.8M293.8 186.79v2.8M293.8 123.5v-2.8M298.75 186.79v2.8M298.75 123.5v-2.8M303.7 186.79v2.8M303.7 123.5v-2.8M308.65 186.79v2.8M308.65 123.5v-2.8M318.55 186.79v2.8M318.55 123.5v-2.8M323.5 186.79v2.8M323.5 123.5v-2.8M328.45 186.79v2.8M328.45 123.5v-2.8M333.4 186.79v2.8M333.4 123.5v-2.8M272.17 126.17h-2.8M341.32 126.17h2.8M272.17 131.02h-2.8M341.32 131.02h2.8M272.17 135.87h-2.8M341.32 135.87h2.8M272.17 145.57h-2.8M341.32 145.57h2.8M272.17 150.42h-2.8M341.32 150.42h2.8M272.17 155.27h-2.8M341.32 155.27h2.8M272.17 160.12h-2.8M341.32 160.12h2.8M272.17 169.82h-2.8M341.32 169.82h2.8M272.17 174.67h-2.8M341.32 174.67h2.8M272.17 179.52h-2.8M341.32 179.52h2.8M272.17 184.37h-2.8M341.32 184.37h2.8"/>
<path fill="none" stroke="#555" stroke-width="0.5" d="M288.85 186.79v3.6M288.85 123.5v-3.6M313.6 186.79v3.6M313.6 123.5v-3.6M338.35 186.79v3.6M338.35 123.5v-3.6M272.17 140.72h-3.6M341.32 140.72h3.6M272.17 164.97h-3.6M341.32 164.97h3.6"/>
<g clip-path="url(#clipC2)">
<path fill="none" stroke="#1a1a1a" stroke-width="0.55"  d="M334.05,259.71 332.05,259.95 330.05,258.15 328.76,255.17 327.16,248.19 326.28,246.69 325.03,245.57 323.03,244.67 320.52,244.26 313.51,244.73 310,244.47 306.99,243.37 305.01,241.71 304.11,239.72 304.36,237.23 307.58,229.75 309.5,227.48 312.01,226.29 315.01,225.81 318.52,225.97 322.53,226.8 327.04,228.4 332.05,230.83 335.06,232.92 337.26,235.23 339.34,239.22 339.61,243.21 336.68,255.66 335.56,258.12 334.05,259.71M302.99,270.62 299.48,268.83 290.95,260.15 286.35,256.66 285.51,255.17 285.31,253.17 285.84,251.68 286.95,250.37 289.96,249.02 292.96,249.2 294.97,250.09 297.75,252.18 302.99,255.22 306.49,260.01 311,263.09 312.45,265.13 312.58,267.13 311.81,268.62 310.5,269.75 308.51,270.62"/>
<path fill="none" stroke="#1a1a1a" stroke-width="0.55"  d="M333.55,247.82 332.55,248.08 328.86,244.2 325.15,242.21 320.02,241.23 313.17,241.21 310.68,240.22 309.81,238.72 309.92,237.23 312.73,231.24 314.01,230.05 316.01,229.2 321.03,229.11 327.04,231 332.05,234.15 334.84,237.23 336.02,240.71 335.51,244.2 333.55,247.82M293.97,256.32 291.46,256.21 289.77,255.66 288.78,254.67 288.81,253.17 290.46,252.18 292.3,252.67 293.5,254.17 294.33,256.16 293.97,256.32M300.98,262.36 298.48,262.45 295.9,261.15 294.43,258.66 294.04,256.66 294.47,256.18 297.98,256.2 300.48,257.22 301.3,258.16 301.8,259.65 301.67,261.15 300.98,262.36M306.99,268.22 304.99,268.4 302.9,267.63 301.81,266.13 302.06,264.14 302.99,263.67 304.99,263.71 308,264.89 308.59,265.63 308.72,266.63 308.09,267.63 306.99,268.22"/>
<path fill="none" stroke="#1a1a1a" stroke-width="0.55"  d="M330.05,240.72 322.53,239.43 316.7,237.72 315.44,236.23 315.41,234.73 315.94,233.24 317.52,231.69 320.02,230.98 323.03,231.18 326.54,232.46 329.6,234.73 331.63,237.72 331.91,239.22 331.56,240.22 330.05,240.72"/>
<path fill="none" stroke="#1a1a1a" stroke-width="0.55"  d="M327.04,237.93 324.03,238.05 321.03,237.03 319.19,235.23 319.28,233.74 320.52,232.75 322.03,232.48 325.54,233.37 326.81,234.24 327.96,235.73 327.97,237.23 327.04,237.93"/>
<path fill="none" stroke="#1a1a1a" stroke-width="0.55"  d="M325.03,235.82 324.03,236.14 323.03,235.85 322.32,234.73 323.03,234.3 324.03,234.45 325.07,235.23 325.03,235.82"/>
</g>
<polygon points="313.6,242.84 315.15,247.3 319.88,247.4 316.11,250.26 317.48,254.78 313.6,252.08 309.72,254.78 311.09,250.26 307.32,247.4 312.05,247.3" fill="none" stroke="#333" stroke-width="0.7"/>
<rect x="272.17" y="207.57" width="69.15" height="63.29" fill="none" stroke="#000" stroke-width="1.1"/>
<path fill="none" stroke="#000" stroke-width="0.6" d="M274 270.87v2.8M274 207.57v-2.8M278.95 270.87v2.8M278.95 207.57v-2.8M283.9 270.87v2.8M283.9 207.57v-2.8M293.8 270.87v2.8M293.8 207.57v-2.8M298.75 270.87v2.8M298.75 207.57v-2.8M303.7 270.87v2.8M303.7 207.57v-2.8M308.65 270.87v2.8M308.65 207.57v-2.8M318.55 270.87v2.8M318.55 207.57v-2.8M323.5 270.87v2.8M323.5 207.57v-2.8M328.45 270.87v2.8M328.45 207.57v-2.8M333.4 270.87v2.8M333.4 207.57v-2.8M272.17 210.24h-2.8M341.32 210.24h2.8M272.17 215.09h-2.8M341.32 215.09h2.8M272.17 219.94h-2.8M341.32 219.94h2.8M272.17 229.64h-2.8M341.32 229.64h2.8M272.17 234.49h-2.8M341.32 234.49h2.8M272.17 239.34h-2.8M341.32 239.34h2.8M272.17 244.19h-2.8M341.32 244.19h2.8M272.17 253.89h-2.8M341.32 253.89h2.8M272.17 258.74h-2.8M341.32 258.74h2.8M272.17 263.59h-2.8M341.32 263.59h2.8M272.17 268.44h-2.8M341.32 268.44h2.8"/>
<path fill="none" stroke="#555" stroke-width="0.5" d="M288.85 270.87v3.6M288.85 207.57v-3.6M313.6 270.87v3.6M313.6 207.57v-3.6M338.35 270.87v3.6M338.35 207.57v-3.6M272.17 224.79h-3.6M341.32 224.79h3.6M272.17 249.04h-3.6M341.32 249.04h3.6"/>
<g clip-path="url(#clipC3)">
<path fill="none" stroke="#1a1a1a" stroke-width="0.55"  d="M341.07,312.04 339.92,315.31 338.69,322.29 337.56,324.33 336.06,325.3 334.56,325.04 333.55,324.14 331.05,318.22 330.05,317.16 328.54,316.52 325.03,316.67 319.52,319.24 316.01,319.87 312.51,318.93 308.5,316.09 305.49,318.41 302.99,318.6 301.48,317.63 300.75,315.81 301.44,313.82 302.99,312.73 304.49,312.48 307.51,312.82 309,308.34 310.56,305.85 313.51,303.5 317.52,301.91 326.54,299.97 332.55,299.72 335.06,300.19 337.56,301.19 339.57,302.6 341.07,304.43M308,353.69 283.44,353.8 280.02,352.69 276.45,349.7 276,348.71 276.04,347.21 278.57,342.73 279.18,340.23 276.49,324.29 276.38,317.31 277.14,313.82 278.17,311.33 279.94,308.75 281.94,307.13 283.44,306.6 284.95,306.61 287.45,307.83 289.93,310.83 291.57,314.82 292.28,318.8 292.32,323.29 290.37,338.74 290.71,340.23 291.5,341.23 293.47,342.28 296.97,342.95 315.01,343.29 321.53,343.95 327.26,345.72 328.74,346.71 329.66,348.21 329.25,349.7 328.17,350.7 324.03,352.41 318.02,353.37 308,353.69"/>
<path fill="none" stroke="#1a1a1a" stroke-width="0.55"  d="M334.56,314.34 324.03,312.49 322.03,312.6 318.02,313.6 316.52,313.54 314.76,312.32 314.39,310.33 314.99,308.84 316.52,307.34 324.82,303.35 329.54,301.98 333.55,302.1 335.76,302.86 337.56,304.09 338.83,305.85 339.24,307.34 339.09,309.33 337.94,311.83 336.06,313.84 334.56,314.34M284.45,328.39 282.44,327.86 280.55,325.78 279.23,322.79 278.74,319.8 279.08,316.31 280.08,313.82 281.94,311.79 283.94,311.15 285.95,311.73 287.59,313.32 288.79,315.81 289.29,318.8 289.06,321.79 287.95,325.08 286.45,327.23 284.45,328.39M318.02,349.79 312.51,349.81 309.62,349.2 308.95,348.71 310.61,347.71 314.51,347.13 318.02,347.35 320.05,348.21 320.17,348.71 319.73,349.2 318.02,349.79M283.44,350.81 282.04,350.2 281.87,349.2 282.71,348.21 283.94,347.99 284.95,348.56 285.13,349.2 284.62,350.2 283.44,350.81M302.48,351.24 299.48,350.73 299.03,350.2 299.2,349.7 300.48,349.15 302.48,348.98 304.55,349.2 305.27,349.7 304.38,350.7 302.48,351.24"/>
<path fill="none" stroke="#1a1a1a" stroke-width="0.55"  d="M333.55,311.85 329.54,311.43 326.04,309.86 324.81,308.34 325.26,306.34 327.04,304.76 330.05,303.65 332.55,303.6 335.06,304.44 336.86,306.34 337.07,308.84 335.83,310.83 333.55,311.85M284.45,324.35 282.94,324.15 281.88,323.29 280.94,321.64 280.48,319.3 280.66,317.31 281.44,315.4 282.44,314.31 283.94,313.8 285.45,314.29 286.43,315.31 287.13,316.81 287.45,318.8 286.72,322.29 285.56,323.79 284.45,324.35"/>
<path fill="none" stroke="#1a1a1a" stroke-width="0.55"  d="M333.05,309.86 330.91,309.83 328.89,308.84 328.29,307.84 328.78,306.34 330.05,305.55 331.55,305.26 334.05,306.03 334.92,307.34 334.87,308.34 334.15,309.33 333.05,309.86M284.45,321.05 283.13,320.8 282.44,319.3 282.86,317.31 283.94,316.64 284.95,317.2 285.45,318.51 285.34,319.8 284.45,321.05"/>
</g>
<polygon points="313.6,326.91 315.15,331.37 319.88,331.47 316.11,334.33 317.48,338.85 313.6,336.15 309.72,338.85 311.09,334.33 307.32,331.47 312.05,331.37" fill="none" stroke="#333" stroke-width="0.7"/>
<rect x="272.17" y="291.64" width="69.15" height="63.29" fill="none" stroke="#000" stroke-width="1.1"/>
<path fill="none" stroke="#000" stroke-width="0.6" d="M274 354.94v2.8M274 291.64v-2.8M278.95 354.94v2.8M278.95 291.64v-2.8M283.9 354.94v2.8M283.9 291.64v-2.8M293.8 354.94v2.8M293.8 291.64v-2.8M298.75 354.94v2.8M298.75 291.64v-2.8M303.7 354.94v2.8M303.7 291.64v-2.8M308.65 354.94v2.8M308.65 291.64v-2.8M318.55 354.94v2.8M318.55 291.64v-2.8M323.5 354.94v2.8M323.5 291.64v-2.8M328.45 354.94v2.8M328.45 291.64v-2.8M333.4 354.94v2.8M333.4 291.64v-2.8M272.17 294.31h-2.8M341.32 294.31h2.8M272.17 299.16h-2.8M341.32 299.16h2.8M272.17 304.01h-2.8M341.32 304.01h2.8M272.17 313.71h-2.8M341.32 313.71h2.8M272.17 318.56h-2.8M341.32 318.56h2.8M272.17 323.41h-2.8M341.32 323.41h2.8M272.17 328.26h-2.8M341.32 328.26h2.8M272.17 337.96h-2.8M341.32 337.96h2.8M272.17 342.81h-2.8M341.32 342.81h2.8M272.17 347.66h-2.8M341.32 347.66h2.8M272.17 352.51h-2.8M341.32 352.51h2.8"/>
<path fill="none" stroke="#555" stroke-width="0.5" d="M288.85 354.94v3.6M288.85 291.64v-3.6M313.6 354.94v3.6M313.6 291.64v-3.6M338.35 354.94v3.6M338.35 291.64v-3.6M272.17 308.86h-3.6M341.32 308.86h3.6M272.17 333.11h-3.6M341.32 333.11h3.6"/>
<g clip-path="url(#clipC4)">
<path fill="none" stroke="#1a1a1a" stroke-width="0.55"  d="M362.02,52.87 364.02,50.21 366.53,48.3 372.54,44.74 381.06,40.74 385.57,39.89 393.59,40.33 399.6,39.68M406.91,39.68 421.65,42.45 423.15,42.24 426.16,40.73 427.66,40.78 429.32,42.17 430.36,44.67 430.53,47.16 429.92,49.65 428.67,51.72 427.16,52.52 422.65,51.17 414.13,51.77 391.08,49.33 388.58,49.58 387.07,50.18 383.29,54.63 378.05,58.53 372.31,66.59 372.07,69.09 374.12,81.54 374.1,90.52 374.79,91.51 376.31,92.51 383.57,95.77 394.09,96.79 408.12,99.07 413.13,98.88 422.65,96.89 426.16,97.1 428.16,98.16 428.8,98.99 428.97,99.98 427.84,101.48 424.93,102.48M391.58,65.77 389.08,65.74 388.28,65.1 388.12,64.1 389.58,62.96 391.59,63.1 392.31,63.6 392.66,64.6 391.58,65.77M428.16,76.73 427.66,76.85 427.14,76.06 426.39,71.08 426.66,65.75 427.66,62.95 428.16,63.04 428.67,64.02 429.3,68.59 429.17,73.11 428.16,76.73M367.59,102.48 364.95,100.98 363.49,98.99 362.02,88.26M419.21,102.48 409.62,101.26 399.61,102.48"/>
<path fill="none" stroke="#1a1a1a" stroke-width="0.55"  d="M369.03,63.73 367.53,64.03 366.03,63.67 364.52,62.25 363.59,60.61 362.88,56.63 364.12,53.14 365.53,51.6 367.53,50.26 374.05,46.67 383.07,42.46 385.07,42.04 387.58,42.11 394.09,44.14 400.6,42.28 405.61,42.1 416.14,43.28 422.65,45.11 426.66,43.61 427.66,44.09 428.28,45.16 428.32,47.16 427.16,48.77 426.16,48.99 422.65,48.44 419.14,49.59 416.64,49.97 413.13,49.79 405.61,48.05 399.15,47.16 393.59,45.27 385.57,47.37 383.57,48.59 381.37,52.64 376.83,56.13 373.04,61.3 371.04,62.82 369.03,63.73M368.03,89.72 367.53,89.85 366.53,89.06 365.52,86.03 365.76,81.54 366.34,80.05 367.03,79.61 368.53,81.59 369.26,84.53 369.03,87.96 368.03,89.72M376.05,101.53 370.54,101.32 368.53,100.63 367.03,99.55 366.32,98.49 366.04,96.99 366.53,95 367.53,93.42 369.03,92.87 374.05,94.2 377.05,95.32 382.56,98.28 389.08,99.35 389.6,99.49 389.7,99.98 382.06,100.55 376.05,101.53"/>
<path fill="none" stroke="#1a1a1a" stroke-width="0.55"  d="M417.14,48.18 414.63,48.28 412.13,47.67 410.44,46.66 410.14,45.66 411.02,45.16 413.13,44.85 417.14,45.29 418.99,46.66 418.45,47.66 417.14,48.18M369.03,61.65 366.53,61.25 364.72,59.12 364.37,56.13 365.51,53.64 367.53,51.99 375.55,48.42 377.55,48.06 379.06,48.56 379.6,50.15 378.94,51.64 375.55,54.42 373.29,58.62 372.06,60.11 369.03,61.65M375.05,100.07 372.54,100.14 370.22,99.49 369.06,98.49 368.91,96.99 369.95,96 371.54,95.66 375.5,96.5 376.97,97.49 377.54,98.49 376.86,99.49 375.05,100.07"/>
<path fill="none" stroke="#1a1a1a" stroke-width="0.55"  d="M370.04,59.82 368.53,60.11 367,59.62 365.86,58.12 365.72,56.13 366.39,54.63 367.53,53.56 369.54,52.78 371.54,52.77 372.75,53.64 372.82,56.13 371.63,58.62 370.04,59.82"/>
<path fill="none" stroke="#1a1a1a" stroke-width="0.55"  d="M369.54,58.24 367.99,58.12 367.28,56.63 368.03,55.15 369.54,54.62 370.54,55.02 370.97,56.13 370.54,57.43 369.54,58.24"/>
</g>
<polygon points="403.2,74.7 404.75,79.16 409.48,79.26 405.71,82.12 407.08,86.64 403.2,83.94 399.32,86.64 400.69,82.12 396.92,79.26 401.65,79.16" fill="none" stroke="#333" stroke-width="0.7"/>
<rect x="361.77" y="39.43" width="69.15" height="63.29" fill="none" stroke="#000" stroke-width="1.1"/>
<path fill="none" stroke="#000" stroke-width="0.6" d="M363.6 102.73v2.8M363.6 39.43v-2.8M368.55 102.73v2.8M368.55 39.43v-2.8M373.5 102.73v2.8M373.5 39.43v-2.8M383.4 102.73v2.8M383.4 39.43v-2.8M388.35 102.73v2.8M388.35 39.43v-2.8M393.3 102.73v2.8M393.3 39.43v-2.8M398.25 102.73v2.8M398.25 39.43v-2.8M408.15 102.73v2.8M408.15 39.43v-2.8M413.1 102.73v2.8M413.1 39.43v-2.8M418.05 102.73v2.8M418.05 39.43v-2.8M423 102.73v2.8M423 39.43v-2.8M361.77 42.1h-2.8M430.92 42.1h2.8M361.77 46.95h-2.8M430.92 46.95h2.8M361.77 51.8h-2.8M430.92 51.8h2.8M361.77 61.5h-2.8M430.92 61.5h2.8M361.77 66.35h-2.8M430.92 66.35h2.8M361.77 71.2h-2.8M430.92 71.2h2.8M361.77 76.05h-2.8M430.92 76.05h2.8M361.77 85.75h-2.8M430.92 85.75h2.8M361.77 90.6h-2.8M430.92 90.6h2.8M361.77 95.45h-2.8M430.92 95.45h2.8M361.77 100.3h-2.8M430.92 100.3h2.8"/>
<path fill="none" stroke="#555" stroke-width="0.5" d="M378.45 102.73v3.6M378.45 39.43v-3.6M403.2 102.73v3.6M403.2 39.43v-3.6M427.95 102.73v3.6M427.95 39.43v-3.6M361.77 56.65h-3.6M430.92 56.65h3.6M361.77 80.9h-3.6M430.92 80.9h3.6"/>
<g clip-path="url(#clipC5)">
<path fill="none" stroke="#1a1a1a" stroke-width="0.55"  d="M362.02,126.2 364.52,124.9 368.53,124.07 379.06,124.44 385.07,125.21 388.58,126.1 391.08,127.48 392,129.23 391.29,130.73 388.91,132.22 376.05,135.27 374.05,136.08 373.04,137.07 372.51,138.7 372.16,143.69 372.6,155.15 371.18,165.61 371.52,169.1 373.02,175.58 372.71,179.07 371.59,181.06 369.55,183.06 367.53,183.97 366.03,183.9 364.52,182.97 363.22,181.06 362.39,178.57 362.02,175.14M413.63,127.27 413.63,127.27M362.02,174.46 363.02,164.62 362.18,155.65 362.33,147.67 362.02,144.83"/>
<path fill="none" stroke="#1a1a1a" stroke-width="0.55"  d="M362.02,129.54 363.11,127.74 365.03,126.48 367.53,125.72 371.04,125.4 375.55,125.69 380.63,126.74 383.34,127.74 384.74,129.23 384.19,130.23 381.42,131.73 371.54,134.87 370.19,136.21 368.22,140.7 366.53,141.76 365.03,141.17 363.68,139.2 362.02,131.95M366.53,178.11 365.53,177.08 365.28,175.58 365.53,173.94 366.53,172.89 367.53,173.71 367.97,175.58 367.53,177.49 366.53,178.11"/>
<path fill="none" stroke="#1a1a1a" stroke-width="0.55"  d="M366.53,135.87 365.03,134.63 363.64,131.23 363.94,129.23 365.53,127.67 368.53,126.68 372.54,126.53 376.65,127.24 379.38,128.74 379.58,129.73 377.91,131.23 370.32,133.72 366.53,135.87"/>
<path fill="none" stroke="#1a1a1a" stroke-width="0.55"  d="M368.03,132.76 366.19,132.22 365.39,130.73 365.84,129.23 367.17,128.24 369.54,127.61 372.54,127.62 375.04,128.24 376.23,129.23 375.95,130.23 374.24,131.23 368.03,132.76"/>
<path fill="none" stroke="#1a1a1a" stroke-width="0.55"  d="M369.54,130.75 368.29,130.23 369.15,129.23 371.04,129.05 371.89,129.23 372.27,129.73 371.54,130.32 369.54,130.75"/>
</g>
<polygon points="403.2,158.77 404.75,163.23 409.48,163.33 405.71,166.19 407.08,170.71 403.2,168.01 399.32,170.71 400.69,166.19 396.92,163.33 401.65,163.23" fill="none" stroke="#333" stroke-width="0.7"/>
<rect x="361.77" y="123.5" width="69.15" height="63.29" fill="none" stroke="#000" stroke-width="1.1"/>
<path fill="none" stroke="#000" stroke-width="0.6" d="M363.6 186.79v2.8M363.6 123.5v-2.8M368.55 186.79v2.8M368.55 123.5v-2.8M373.5 186.79v2.8M373.5 123.5v-2.8M383.4 186.79v2.8M383.4 123.5v-2.8M388.35 186.79v2.8M388.35 123.5v-2.8M393.3 186.79v2.8M393.3 123.5v-2.8M398.25 186.79v2.8M398.25 123.5v-2.8M408.15 186.79v2.8M408.15 123.5v-2.8M413.1 186.79v2.8M413.1 123.5v-2.8M418.05 186.79v2.8M418.05 123.5v-2.8M423 186.79v2.8M423 123.5v-2.8M361.77 126.17h-2.8M430.92 126.17h2.8M361.77 131.02h-2.8M430.92 131.02h2.8M361.77 135.87h-2.8M430.92 135.87h2.8M361.77 145.57h-2.8M430.92 145.57h2.8M361.77 150.42h-2.8M430.92 150.42h2.8M361.77 155.27h-2.8M430.92 155.27h2.8M361.77 160.12h-2.8M430.92 160.12h2.8M361.77 169.82h-2.8M430.92 169.82h2.8M361.77 174.67h-2.8M430.92 174.67h2.8M361.77 179.52h-2.8M430.92 179.52h2.8M361.77 184.37h-2.8M430.92 184.37h2.8"/>
<path fill="none" stroke="#555" stroke-width="0.5" d="M378.45 186.79v3.6M378.45 123.5v-3.6M403.2 186.79v3.6M403.2 123.5v-3.6M427.95 186.79v3.6M427.95 123.5v-3.6M361.77 140.72h-3.6M430.92 140.72h3.6M361.77 164.97h-3.6M430.92 164.97h3.6"/>
<g clip-path="url(#clipC6)">
<path fill="none" stroke="#1a1a1a" stroke-width="0.55"  d="M362.02,210.65 363.02,209.31 365.12,207.82M384.37,207.82 386.57,208.66 388.16,209.82 388.84,211.31 388.35,212.81 387.07,214.05 382.15,217.29 379.71,221.28 378.05,223.1 376.05,224.38 372.54,225.83 371.04,226.95 369.65,229.25 367.53,235.25 366.03,237.05 365.03,236.94 363.79,235.23 362.02,227.79M412.63,211.88 411.13,212.03 410.01,211.31 410.63,210.54 412.13,210.39 413.13,211.02 412.63,211.88M427.16,214.88 426.16,214.49 425.72,213.3 425.88,212.31 426.66,211.45 427.66,211.7 428.19,212.81 427.89,214.3 427.16,214.88M364.52,266.68 363.52,266.58 362.97,265.63 363.08,264.14 364.02,263.3 364.78,263.64 365.24,264.64 365.04,266.13 364.52,266.68"/>
<path fill="none" stroke="#1a1a1a" stroke-width="0.55"  d="M376.74,207.82 380.06,208.59 382.99,209.82 384.04,210.81 383.91,212.31 381.06,214.3 371.54,218.45 369.54,220.52 367.03,224.19 366.03,224.89 365.21,223.77 364.8,221.78 365.45,216.29 364.54,212.81 364.66,211.31 366.53,209.14 370.21,207.82"/>
<path fill="none" stroke="#1a1a1a" stroke-width="0.55"  d="M374.55,214.85 371.54,214.96 368.53,214.21 366.95,212.81 366.68,211.81 366.97,210.81 367.95,209.82 369.54,209.05 373.54,208.47 378.05,209.25 380.53,210.81 380.68,211.81 379.56,213.04 377.55,214.06 374.55,214.85"/>
<path fill="none" stroke="#1a1a1a" stroke-width="0.55"  d="M375.55,213.44 373.04,213.78 370.54,213.41 369.03,212.51 368.67,211.31 369.44,210.31 371.54,209.49 373.54,209.32 376.05,209.71 377.97,210.81 378.13,211.81 377.11,212.81 375.55,213.44"/>
<path fill="none" stroke="#1a1a1a" stroke-width="0.55"  d="M374.55,212.37 372.04,212.42 371.04,211.84 370.95,211.31 372.54,210.43 374.55,210.55 375.64,211.31 375.51,211.81 374.55,212.37"/>
</g>
<polygon points="403.2,242.84 404.75,247.3 409.48,247.4 405.71,250.26 407.08,254.78 403.2,252.08 399.32,254.78 400.69,250.26 396.92,247.4 401.65,247.3" fill="none" stroke="#333" stroke-width="0.7"/>
<rect x="361.77" y="207.57" width="69.15" height="63.29" fill="none" stroke="#000" stroke-width="1.1"/>
<path fill="none" stroke="#000" stroke-width="0.6" d="M363.6 270.87v2.8M363.6 207.57v-2.8M368.55 270.87v2.8M368.55 207.57v-2.8M373.5 270.87v2.8M373.5 207.57v-2.8M383.4 270.87v2.8M383.4 207.57v-2.8M388.35 270.87v2.8M388.35 207.57v-2.8M393.3 270.87v2.8M393.3 207.57v-2.8M398.25 270.87v2.8M398.25 207.57v-2.8M408.15 270.87v2.8M408.15 207.57v-2.8M413.1 270.87v2.8M413.1 207.57v-2.8M418.05 270.87v2.8M418.05 207.57v-2.8M423 270.87v2.8M423 207.57v-2.8M361.77 210.24h-2.8M430.92 210.24h2.8M361.77 215.09h-2.8M430.92 215.09h2.8M361.77 219.94h-2.8M430.92 219.94h2.8M361.77 229.64h-2.8M430.92 229.64h2.8M361.77 234.49h-2.8M430.92 234.49h2.8M361.77 239.34h-2.8M430.92 239.34h2.8M361.77 244.19h-2.8M430.92 244.19h2.8M361.77 253.89h-2.8M430.92 253.89h2.8M361.77 258.74h-2.8M430.92 258.74h2.8M361.77 263.59h-2.8M430.92 263.59h2.8M361.77 268.44h-2.8M430.92 268.44h2.8"/>
<path fill="none" stroke="#555" stroke-width="0.5" d="M378.45 270.87v3.6M378.45 207.57v-3.6M403.2 270.87v3.6M403.2 207.57v-3.6M427.95 270.87v3.6M427.95 207.57v-3.6M361.77 224.79h-3.6M430.92 224.79h3.6M361.77 249.04h-3.6M430.92 249.04h3.6"/>
<g clip-path="url(#clipC7)">
<path fill="none" stroke="#1a1a1a" stroke-width="0.55"  d="M366.03,296.89 364.52,296.92 363.53,296.38 363.06,295.38 363.44,294.38 365.03,293.68 366.97,294.38 367.27,295.88 366.03,296.89M374.05,296.94 372.54,296.89 371.67,296.38 371.19,295.38 371.59,294.38 373.54,293.64 375.24,294.38 375.47,295.88 374.05,296.94"/>
</g>
<polygon points="403.2,326.91 404.75,331.37 409.48,331.47 405.71,334.33 407.08,338.85 403.2,336.15 399.32,338.85 400.69,334.33 396.92,331.47 401.65,331.37" fill="none" stroke="#333" stroke-width="0.7"/>
<rect x="361.77" y="291.64" width="69.15" height="63.29" fill="none" stroke="#000" stroke-width="1.1"/>
<path fill="none" stroke="#000" stroke-width="0.6" d="M363.6 354.94v2.8M363.6 291.64v-2.8M368.55 354.94v2.8M368.55 291.64v-2.8M373.5 354.94v2.8M373.5 291.64v-2.8M383.4 354.94v2.8M383.4 291.64v-2.8M388.35 354.94v2.8M388.35 291.64v-2.8M393.3 354.94v2.8M393.3 291.64v-2.8M398.25 354.94v2.8M398.25 291.64v-2.8M408.15 354.94v2.8M408.15 291.64v-2.8M413.1 354.94v2.8M413.1 291.64v-2.8M418.05 354.94v2.8M418.05 291.64v-2.8M423 354.94v2.8M423 291.64v-2.8M361.77 294.31h-2.8M430.92 294.31h2.8M361.77 299.16h-2.8M430.92 299.16h2.8M361.77 304.01h-2.8M430.92 304.01h2.8M361.77 313.71h-2.8M430.92 313.71h2.8M361.77 318.56h-2.8M430.92 318.56h2.8M361.77 323.41h-2.8M430.92 323.41h2.8M361.77 328.26h-2.8M430.92 328.26h2.8M361.77 337.96h-2.8M430.92 337.96h2.8M361.77 342.81h-2.8M430.92 342.81h2.8M361.77 347.66h-2.8M430.92 347.66h2.8M361.77 352.51h-2.8M430.92 352.51h2.8"/>
<path fill="none" stroke="#555" stroke-width="0.5" d="M378.45 354.94v3.6M378.45 291.64v-3.6M403.2 354.94v3.6M403.2 291.64v-3.6M427.95 354.94v3.6M427.95 291.64v-3.6M361.77 308.86h-3.6M430.92 308.86h3.6M361.77 333.11h-3.6M430.92 333.11h3.6"/>
<text x="245.4" y="16.8" font-size="18" font-weight="bold" textLength="9.6" lengthAdjust="spacingAndGlyphs" >c</text><text x="272.37" y="34.83" font-size="8.5" textLength="26.6" lengthAdjust="spacingAndGlyphs" >0 ~ 1 s</text><text x="272.37" y="118.9" font-size="8.5" textLength="26.6" lengthAdjust="spacingAndGlyphs" >1 ~ 2 s</text><text x="272.37" y="202.97" font-size="8.5" textLength="26.6" lengthAdjust="spacingAndGlyphs" >2 ~ 3 s</text><text x="272.37" y="287.04" font-size="8.5" textLength="26.6" lengthAdjust="spacingAndGlyphs" >3 ~ 4 s</text><text x="361.97" y="34.83" font-size="8.5" textLength="26.6" lengthAdjust="spacingAndGlyphs" >4 ~ 5 s</text><text x="361.97" y="118.9" font-size="8.5" textLength="26.6" lengthAdjust="spacingAndGlyphs" >5 ~ 6 s</text><text x="361.97" y="202.97" font-size="8.5" textLength="26.6" lengthAdjust="spacingAndGlyphs" >6 ~ 7 s</text><text x="361.97" y="287.04" font-size="8.5" textLength="26.6" lengthAdjust="spacingAndGlyphs" >7 ~ 8 s</text><text x="261.67" y="311.46" font-size="7.6" text-anchor="end" >-5</text><text x="261.67" y="335.71" font-size="7.6" text-anchor="end" >0</text><text x="288.85" y="370.8" font-size="7.6" text-anchor="middle" >-5</text><text x="313.6" y="370.8" font-size="7.6" text-anchor="middle" >0</text><text x="338.35" y="370.8" font-size="7.6" text-anchor="middle" >5</text><text x="306.6" y="383.6" font-size="8.9" text-anchor="middle" textLength="68.6" lengthAdjust="spacingAndGlyphs" >Along Strike (km)</text><text x="0" y="0" font-size="8.9" text-anchor="middle" textLength="56.7" lengthAdjust="spacingAndGlyphs" transform="translate(248.0,324.3) rotate(-90)">Along Dip (km)</text><rect x="361" y="369.2" width="69.8" height="4.9" fill="none" stroke="#000" stroke-width="0.8"/><text x="361.3" y="388.8" font-size="7.4" text-anchor="middle" textLength="10.6" lengthAdjust="spacingAndGlyphs" >0.0</text><text x="378.6" y="388.8" font-size="7.4" text-anchor="middle" textLength="10.6" lengthAdjust="spacingAndGlyphs" >0.2</text><text x="395.9" y="388.8" font-size="7.4" text-anchor="middle" textLength="10.6" lengthAdjust="spacingAndGlyphs" >0.4</text><text x="413.2" y="388.8" font-size="7.4" text-anchor="middle" textLength="10.6" lengthAdjust="spacingAndGlyphs" >0.6</text><text x="430.5" y="388.8" font-size="7.4" text-anchor="middle" textLength="10.6" lengthAdjust="spacingAndGlyphs" >0.8</text><path d="M361.3 374.1V379.4M378.6 374.1V379.4M395.9 374.1V379.4M413.2 374.1V379.4M430.5 374.1V379.4" stroke="#444" stroke-width="0.6"/><text x="436" y="375" font-size="7.8" >m</text>
<path fill="none" stroke="#000" stroke-width="1.25" stroke-linejoin="round" d="M502 46.33l0.7 -0.2 0.7 0.2 0.7 0.4 0.7 0.1 0.7 0 0.7 0.1 0.7 0.1 0.7 0.3 0.7 0 0.7 -0.4 0.7 1.3 0.7 3 0.7 2.6 0.7 0.8 0.7 -2.8 0.7 -5.4 0.7 -2 0.7 2.6 0.7 0.6 0.7 -3.3 0.7 -2.1 0.7 1.6 0.7 2.6 0.7 1.2 0.7 0.5 0.7 0.6 0.7 -0.3 0.7 -1.2 0.7 -0.4 0.7 1.3 0.7 2.1 0.7 0.7 0.7 -1.6 0.7 -1.6 0.7 0.2 0.7 -0.5 0.7 -3 0.7 -3 0.7 0.1 0.7 3.5 0.7 3.2 0.7 -0.4 0.7 1.9 0.7 7.9 0.7 -1.1 0.7 -6.3 0.7 -1.3 0.7 0.5 0.7 -0.1 0.7 -1.5 0.7 -2.2 0.7 -1.6 0.7 -0.2 0.7 1.1 0.7 2.3 0.7 3.2 0.7 2.3 0.7 -0.7 0.7 -2.9 0.7 -2.7 0.7 -2.3 0.7 -2.1 0.7 -1.3 0.7 0.2 0.7 1.9 0.7 2.9 0.7 2.7 0.7 1.5 0.7 0.5 0.7 -0.3 0.7 -1.2 0.7 -1.3M565.3 46.63l0.7 0.1 0.7 0 0.7 0 0.7 0.1 0.7 0.1 0.7 0.1 0.7 0.7 0.7 1.6 0.7 -0.3 0.7 -4.6 0.7 -4.1 0.7 0 0.7 4.4 0.7 5.7 0.7 2.5 0.7 -1.2 0.7 -3.3 0.7 -3.3 0.7 -1.2 0.7 1 0.7 2.5 0.7 3 0.7 1.3 0.7 -1.8 0.7 -3.5 0.7 -2.8 0.7 -0.5 0.7 2.4 0.7 3.4 0.7 1.1 0.7 -1.9 0.7 -4 0.7 -2.3 0.7 1.2 0.7 0.2 0.7 -0.2 0.7 1.3 0.7 1 0.7 0.1 0.7 -0.3 0.7 -0.6 0.7 0.2 0.7 1.7 0.7 1 0.7 -1.1 0.7 -1.9 0.7 -0.8 0.7 0.9 0.7 2.5 0.7 2.5 0.7 0.7 0.7 -0.1 0.7 1 0.7 1.4 0.7 0.1 0.7 -1.3 0.7 -1.8 0.7 -2.4 0.7 -3.2 0.7 -2.4 0.7 -0.4 0.7 1.4 0.7 2.8 0.7 2.9 0.7 1.2 0.7 -0.5 0.7 -1.3 0.7 -1.3 0.7 -0.7 0.7 0.8 0.7 0.6 0.7 -1.4M628.2 47.06l0.7 -0.3 0.7 -0.3 0.7 -0.1 0.7 0.1 0.7 0.1 0.7 0 0.7 0 0.7 0 0.7 0 0.7 -0.1 0.7 0.6 0.7 2.6 0.7 5.7 0.7 2.3 0.7 -4 0.7 -3.2 0.7 0 0.7 0.2 0.7 -2 0.7 -3 0.7 -1.6 0.7 -0.4 0.7 0.1 0.7 0.9 0.7 1.4 0.7 0.9 0.7 -0.2 0.7 -0.8 0.7 -0.2 0.7 1.3 0.7 2 0.7 0.6 0.7 -1.7 0.7 -2.3 0.7 -0.6 0.7 2 0.7 2.9 0.7 1.1 0.7 -1.2 0.7 -1.8 0.7 -1.2 0.7 -0.3 0.7 0.6 0.7 0.8 0.7 -0.1 0.7 -1 0.7 -1.2 0.7 -1.1 0.7 -0.4 0.7 1 0.7 1.5 0.7 0.8 0.7 -0.4 0.7 -0.9 0.7 -0.4 0.7 0.2 0.7 0.8 0.7 1.6 0.7 1.4 0.7 -0.7 0.7 -2.3 0.7 -0.9 0.7 1.2 0.7 1.4 0.7 0.3 0.7 -0.1 0.7 0 0.7 -0.8 0.7 -1.3 0.7 -0.8 0.7 -0.4 0.7 -0.2M502 74.99l0.7 -0.4 0.7 -0.6 0.7 -1.1 0.7 -1.2 0.7 -1.4 0.7 -4.5 0.7 -4.7 0.7 0 0.7 5.6 0.7 1.7 0.7 -4.7 0.7 -3.2 0.7 4.6 0.7 7.9 0.7 5 0.7 4 0.7 2 0.7 -6.7 0.7 -7.8 0.7 -1 0.7 1.3 0.7 0.9 0.7 2 0.7 2.2 0.7 -0.3 0.7 -1.3 0.7 3 0.7 7 0.7 2.1 0.7 0 0.7 -2.4 0.7 -7.2 0.7 -6.9 0.7 -3.9 0.7 -0.8 0.7 1.3 0.7 4.1 0.7 5.3 0.7 1.5 0.7 -4.5 0.7 -6.9 0.7 -4.5 0.7 -0.2 0.7 3.2 0.7 4.8 0.7 4.2 0.7 1.3 0.7 -1.1 0.7 0 0.7 2.8 0.7 2.6 0.7 -0.4 0.7 -1.9 0.7 -1.4 0.7 -0.9 0.7 -0.7 0.7 -0.3 0.7 0.2 0.7 -0.4 0.7 -1 0.7 -0.5 0.7 0.2 0.7 -0.1 0.7 -0.8 0.7 -0.8 0.7 0.5 0.7 1.8 0.7 2.5 0.7 1.9 0.7 0 0.7 -2.1 0.7 -2.5M565.3 70.76l0.7 -1.2 0.7 -0.4 0.7 0.4 0.7 1 0.7 1.3 0.7 1.1 0.7 0.7 0.7 0.1 0.7 -0.4 0.7 0.4 0.7 -0.3 0.7 0 0.7 -4.2 0.7 -5.8 0.7 0.8 0.7 6.8 0.7 7 0.7 3.6 0.7 0.8 0.7 -1 0.7 -1.8 0.7 -2.2 0.7 -2 0.7 -1 0.7 0.1 0.7 2.6 0.7 4.6 0.7 0.6 0.7 -5 0.7 -5 0.7 -2.1 0.7 0.4 0.7 1.6 0.7 0.8 0.7 -1 0.7 -1.2 0.7 -0.1 0.7 0.1 0.7 -1.2 0.7 -2 0.7 -1.5 0.7 -0.3 0.7 1.1 0.7 2 0.7 1.8 0.7 1.2 0.7 1.1 0.7 1.4 0.7 1.1 0.7 0.1 0.7 -0.6 0.7 -0.1 0.7 1 0.7 1 0.7 -0.6 0.7 -2.4 0.7 -3.4 0.7 -3.2 0.7 -1.7 0.7 0.4 0.7 1.5 0.7 1.5 0.7 1.9 0.7 2.5 0.7 1.7 0.7 -0.4 0.7 -1.6 0.7 -1 0.7 -0.2 0.7 -0.1 0.7 -0.2 0.7 0M628.2 72.71l0.7 -0.4 0.7 -0.6 0.7 -0.4 0.7 0.1 0.7 0.3 0.7 0.2 0.7 -0.1 0.7 -0.4 0.7 0.3 0.7 0.9 0.7 0.1 0.7 -0.3 0.7 0.2 0.7 0.9 0.7 0.4 0.7 -0.9 0.7 -0.8 0.7 0.1 0.7 -0.9 0.7 -2 0.7 -0.4 0.7 2.2 0.7 2.9 0.7 1.6 0.7 0.2 0.7 -1.4 0.7 -2.1 0.7 -0.2 0.7 2 0.7 1.5 0.7 -0.3 0.7 -1.4 0.7 -2.3 0.7 -2.1 0.7 -0.1 0.7 0.8 0.7 -1.2 0.7 -1.6 0.7 0 0.7 0.8 0.7 1.7 0.7 1.3 0.7 1.2 0.7 0 0.7 -0.4 0.7 0.8 0.7 1.5 0.7 0.5 0.7 -0.8 0.7 -0.7 0.7 0.3 0.7 -0.1 0.7 -1.9 0.7 -1.9 0.7 -0.1 0.7 0.8 0.7 0.3 0.7 0.4 0.7 1.2 0.7 0.9 0.7 -0.5 0.7 -0.9 0.7 -0.2 0.7 0.3 0.7 0.5 0.7 0.7 0.7 0.1 0.7 -0.9 0.7 -0.7 0.7 -0.5 0.7 -0.9 0.7 -1.3M502 98.1l0.7 -0.2 0.7 -0.4 0.7 -0.3 0.7 -0.1 0.7 0.1 0.7 0.1 0.7 0 0.7 -0.5 0.7 -2.3 0.7 -5.4 0.7 -0.6 0.7 0 0.7 6.6 0.7 5 0.7 1.1 0.7 -1.2 0.7 -1 0.7 0 0.7 0.1 0.7 0.2 0.7 1.1 0.7 1.5 0.7 0.4 0.7 -1.2 0.7 -1.8 0.7 -1.2 0.7 -0.2 0.7 0.7 0.7 0.9 0.7 0.1 0.7 -1.3 0.7 -1.7 0.7 -0.2 0.7 1.4 0.7 1 0.7 -0.3 0.7 -0.9 0.7 -0.7 0.7 -0.1 0.7 0.3 0.7 -0.4 0.7 -1.1 0.7 -0.6 0.7 0.4 0.7 0.2 0.7 -0.8 0.7 -0.7 0.7 1.1 0.7 2.2 0.7 0.9 0.7 -1.6 0.7 -2.6 0.7 -1.4 0.7 0.7 0.7 2.2 0.7 3.2 0.7 3.4 0.7 1.7 0.7 -0.7 0.7 -2.1 0.7 -2.2 0.7 -1.7 0.7 -0.7 0.7 -0.1 0.7 -0.5 0.7 -1.1 0.7 -0.5 0.7 0.3 0.7 0.5 0.7 0.6 0.7 1.4 0.7 2.4M565.3 94.76l0.7 0.6 0.7 0.7 0.7 0.9 0.7 0.8 0.7 0.6 0.7 0.5 0.7 0.2 0.7 -0.4 0.7 -0.6 0.7 -0.4 0.7 -0.4 0.7 -1.4 0.7 -1.8 0.7 -2.1 0.7 -3.3 0.7 -0.5 0.7 4.9 0.7 0.2 0.7 -6.1 0.7 4.3 0.7 5.1 0.7 7.3 0.7 4.3 0.7 -7 0.7 -3 0.7 4.2 0.7 4.4 0.7 0.4 0.7 -1.1 0.7 0 0.7 -0.4 0.7 -2.7 0.7 -3.2 0.7 -0.7 0.7 1.3 0.7 0.5 0.7 -1.5 0.7 -1.7 0.7 -0.5 0.7 -0.2 0.7 -0.7 0.7 -0.5 0.7 0.2 0.7 0.1 0.7 -0.8 0.7 -1.3 0.7 -1.4 0.7 -0.9 0.7 0.4 0.7 2.3 0.7 3.8 0.7 4.5 0.7 4.4 0.7 2.6 0.7 -0.8 0.7 -5.4 0.7 -6.9 0.7 -5 0.7 -1.7 0.7 0.8 0.7 1.2 0.7 0 0.7 -0.3 0.7 0.8 0.7 2.3 0.7 3.2 0.7 3 0.7 1.5 0.7 -0.6 0.7 -1.7 0.7 -1.3 0.7 -0.9M628.2 97.23l0.7 0 0.7 0.1 0.7 0.2 0.7 0.3 0.7 0.7 0.7 1.3 0.7 0.2 0.7 -0.4 0.7 0.3 0.7 -0.8 0.7 -2 0.7 -1.3 0.7 0.6 0.7 1 0.7 -0.2 0.7 -1.2 0.7 -1.5 0.7 0.1 0.7 1.7 0.7 1.6 0.7 1.3 0.7 0.3 0.7 -1.1 0.7 -1.3 0.7 -1 0.7 -0.9 0.7 -0.1 0.7 1.2 0.7 1.7 0.7 0.8 0.7 0.1 0.7 -0.2 0.7 -1.4 0.7 -2 0.7 -0.8 0.7 1.1 0.7 2.2 0.7 1.6 0.7 0.5 0.7 0 0.7 -0.4 0.7 -0.9 0.7 -1.8 0.7 -1.6 0.7 0.7 0.7 1.8 0.7 0.1 0.7 -1.2 0.7 -0.4 0.7 0.5 0.7 0.8 0.7 0.6 0.7 -0.5 0.7 -0.1 0.7 0.9 0.7 -0.9 0.7 -1.7 0.7 0.5 0.7 2 0.7 2 0.7 0.4 0.7 -0.8 0.7 -2.1 0.7 -1.4 0.7 -0.7 0.7 -0.1 0.7 0.9 0.7 1.1 0.7 -0.1 0.7 -0.5 0.7 0.5 0.7 1.1M502 123.22l0.7 0.3 0.7 0 0.7 -0.6 0.7 -0.6 0.7 -0.3 0.7 -1 0.7 -1.3 0.7 -1.2 0.7 0.3 0.7 3 0.7 3.1 0.7 -0.2 0.7 -1.2 0.7 0.4 0.7 0.7 0.7 0.5 0.7 3.7 0.7 4 0.7 -4.6 0.7 -7.3 0.7 -2.2 0.7 3.3 0.7 2.9 0.7 1.9 0.7 -0.5 0.7 -5.7 0.7 -3.9 0.7 0.2 0.7 -0.6 0.7 1.1 0.7 5.6 0.7 5.3 0.7 -0.4 0.7 -3.1 0.7 -1.2 0.7 1.6 0.7 4.1 0.7 1.2 0.7 -0.8 0.7 -3.8 0.7 -2.1 0.7 -1.4 0.7 -2.6 0.7 -3.5 0.7 -1.2 0.7 0.7 0.7 1.9 0.7 4.5 0.7 5 0.7 0.9 0.7 -1.9 0.7 -2.1 0.7 -2.2 0.7 -0.1 0.7 2 0.7 0.1 0.7 -2.4 0.7 -2.1 0.7 -0.1 0.7 1.6 0.7 1.5 0.7 0.6 0.7 -0.3 0.7 -0.8 0.7 1.5 0.7 3.3 0.7 1.7 0.7 -0.6 0.7 -3.2 0.7 -4.7 0.7 -1.1 0.7 1.6M565.3 122.84l0.7 0.1 0.7 0 0.7 0 0.7 0.4 0.7 0.4 0.7 0.4 0.7 0 0.7 -0.6 0.7 -1 0.7 -1 0.7 -0.7 0.7 -0.4 0.7 -0.2 0.7 -0.2 0.7 -0.2 0.7 -0.1 0.7 -0.1 0.7 -0.3 0.7 -0.3 0.7 0.2 0.7 1.1 0.7 2 0.7 2.3 0.7 1.8 0.7 0.6 0.7 -0.6 0.7 -1.3 0.7 -1.1 0.7 -0.2 0.7 0.7 0.7 0.9 0.7 0.4 0.7 -0.6 0.7 -1.5 0.7 -1.6 0.7 -1.1 0.7 -0.4 0.7 0 0.7 0.7 0.7 1.3 0.7 1.2 0.7 0.1 0.7 -1.3 0.7 -1.8 0.7 -1 0.7 0.2 0.7 0.4 0.7 -0.3 0.7 -0.7 0.7 -0.4 0.7 0.3 0.7 0.6 0.7 0.6 0.7 0.4 0.7 0.3 0.7 0.3 0.7 0.5 0.7 0.9 0.7 1.2 0.7 1.3 0.7 0.9 0.7 0.3 0.7 -0.4 0.7 -1.1 0.7 -1.6 0.7 -1.6 0.7 -1.2 0.7 -0.4 0.7 0.5 0.7 1.1 0.7 0.8 0.7 0.1M628.2 122.88l0.7 -0.1 0.7 0 0.7 0 0.7 -0.2 0.7 -0.9 0.7 -1.2 0.7 -0.2 0.7 0.8 0.7 1.5 0.7 1.8 0.7 1.1 0.7 0.3 0.7 -0.4 0.7 -1.2 0.7 -1.4 0.7 -1 0.7 -0.5 0.7 -0.1 0.7 0 0.7 0 0.7 0.2 0.7 0.5 0.7 0.5 0.7 0.3 0.7 0 0.7 -0.2 0.7 0.4 0.7 1.2 0.7 1 0.7 -0.2 0.7 -1.2 0.7 -1.7 0.7 -1.7 0.7 -0.9 0.7 0.5 0.7 1.7 0.7 1.6 0.7 0.3 0.7 -0.7 0.7 -0.4 0.7 0.4 0.7 0.9 0.7 1.1 0.7 0.4 0.7 -0.8 0.7 -0.9 0.7 -0.2 0.7 -0.1 0.7 -1 0.7 -1.6 0.7 -1.1 0.7 0.2 0.7 1.4 0.7 1.9 0.7 1.5 0.7 0.5 0.7 -0.7 0.7 -1.7 0.7 -1.8 0.7 -1 0.7 0 0.7 0.6 0.7 0.9 0.7 1.3 0.7 0.8 0.7 0 0.7 0.1 0.7 0.7 0.7 0.6 0.7 -0.4 0.7 -1.6 0.7 -1.8M502 147.82l0.7 -0.1 0.7 0 0.7 0.3 0.7 1.2 0.7 1.8 0.7 1.4 0.7 -0.1 0.7 -2.4 0.7 -2.8 0.7 -1.4 0.7 0.6 0.7 1.1 0.7 0.2 0.7 -0.2 0.7 0.9 0.7 1.1 0.7 -1.5 0.7 -3.7 0.7 -2.6 0.7 0.1 0.7 2.4 0.7 3.7 0.7 2.6 0.7 0 0.7 -1.4 0.7 -1.4 0.7 -1.2 0.7 -0.9 0.7 0.3 0.7 2.2 0.7 2.9 0.7 1.4 0.7 -0.9 0.7 -2.7 0.7 -3.1 0.7 -0.8 0.7 2.3 0.7 2.7 0.7 -0.1 0.7 -3.1 0.7 -3.9 0.7 -1.9 0.7 1.4 0.7 3.5 0.7 3.3 0.7 2.2 0.7 1.4 0.7 0.6 0.7 0.1 0.7 0.4 0.7 0.2 0.7 -1.5 0.7 -2.8 0.7 -2.1 0.7 -1 0.7 -0.4 0.7 0.4 0.7 0.1 0.7 -1.8 0.7 -3.1 0.7 -1.4 0.7 0.6 0.7 3.4 0.7 4 0.7 2.7 0.7 1.1 0.7 -0.6 0.7 -2.1 0.7 -1.3 0.7 0.9 0.7 1.4 0.7 -0.3M565.3 147.17l0.7 -1.7 0.7 -1.2 0.7 -0.2 0.7 1.4 0.7 2.5 0.7 2.5 0.7 2.2 0.7 1.6 0.7 0.7 0.7 -0.2 0.7 -1 0.7 -1.4 0.7 -1.5 0.7 -1.2 0.7 -0.6 0.7 -0.1 0.7 0.4 0.7 0.7 0.7 0.8 0.7 0.8 0.7 0.6 0.7 0.5 0.7 0.3 0.7 0.1 0.7 -0.1 0.7 -0.3 0.7 -0.5 0.7 -0.8 0.7 -1.2 0.7 -1.5 0.7 -1.6 0.7 -1.5 0.7 -1.1 0.7 -0.5 0.7 0.1 0.7 0.3 0.7 0.1 0.7 -0.5 0.7 -1 0.7 -1.3 0.7 -1.1 0.7 -0.4 0.7 0.4 0.7 1.1 0.7 1.3 0.7 1.2 0.7 0.9 0.7 0.6 0.7 0.4 0.7 0.4 0.7 0.5 0.7 0.9 0.7 1.4 0.7 2 0.7 2.3 0.7 1.9 0.7 0.8 0.7 -0.7 0.7 -1.8 0.7 -2.2 0.7 -1.8 0.7 -1.1 0.7 -0.4 0.7 0.1 0.7 0.4 0.7 0.4 0.7 0.3 0.7 0.1 0.7 0 0.7 -0.1 0.7 0 0.7 0.2M628.2 148.06l0.7 0.3 0.7 0.2 0.7 0.1 0.7 1.6 0.7 1.5 0.7 1.1 0.7 0.2 0.7 -0.7 0.7 -0.8 0.7 -0.9 0.7 -1.1 0.7 -1.2 0.7 -1.4 0.7 -1.6 0.7 -1.8 0.7 -1.8 0.7 -1.4 0.7 -0.5 0.7 0.4 0.7 0.7 0.7 0.5 0.7 0.3 0.7 0.4 0.7 1 0.7 1.7 0.7 2.1 0.7 2.1 0.7 1.8 0.7 1.4 0.7 1 0.7 0.7 0.7 0.4 0.7 0 0.7 -0.6 0.7 -1.1 0.7 -0.6 0.7 1.6 0.7 3.8 0.7 2.2 0.7 -2.4 0.7 -4.8 0.7 -3.4 0.7 -1.2 0.7 0 0.7 0.2 0.7 0 0.7 -0.6 0.7 -1.6 0.7 -2.6 0.7 -2.6 0.7 -1.1 0.7 1 0.7 1.9 0.7 1.2 0.7 0 0.7 -0.6 0.7 -0.1 0.7 0.8 0.7 1.7 0.7 2.2 0.7 2.1 0.7 1.4 0.7 0.4 0.7 -0.8 0.7 -1.7 0.7 -2.2 0.7 -1.9 0.7 -1.1 0.7 -0.1 0.7 0.8 0.7 1.4 0.7 1.4M502 173.65l0.7 1 0.7 0.1 0.7 -0.6 0.7 -0.4 0.7 -0.4 0.7 -1.8 0.7 -0.6 0.7 4.3 0.7 2.6 0.7 -4.5 0.7 -6.8 0.7 -4.3 0.7 0 0.7 2.5 0.7 2.8 0.7 2.7 0.7 4.4 0.7 1.9 0.7 -3.2 0.7 -3.5 0.7 -0.9 0.7 0.3 0.7 0.6 0.7 0.9 0.7 2.9 0.7 5.2 0.7 2.8 0.7 -1.9 0.7 -3.7 0.7 -1.4 0.7 3.1 0.7 4.3 0.7 0.5 0.7 -4.8 0.7 -7.7 0.7 -5.5 0.7 -1.5 0.7 1.7 0.7 3.4 0.7 2.5 0.7 1.3 0.7 3 0.7 3.5 0.7 -0.6 0.7 -3.6 0.7 -0.5 0.7 2.7 0.7 0 0.7 -4.3 0.7 -4.2 0.7 -0.5 0.7 2.8 0.7 3.8 0.7 3.9 0.7 3.5 0.7 -0.6 0.7 -5.9 0.7 -6.3 0.7 -1.9 0.7 2.2 0.7 2.7 0.7 1.7 0.7 1.1 0.7 0.4 0.7 -0.2 0.7 -0.7 0.7 -1.8 0.7 -1.7 0.7 0.5 0.7 1.2 0.7 0.2 0.7 0.4M565.3 172.66l0.7 0.2 0.7 0.4 0.7 0.1 0.7 -0.5 0.7 -0.9 0.7 -0.2 0.7 0.1 0.7 5.6 0.7 6.5 0.7 0.3 0.7 0 0.7 -5.2 0.7 -5.1 0.7 -3.8 0.7 -1.8 0.7 1.5 0.7 3.1 0.7 2.5 0.7 1.9 0.7 0.5 0.7 -1.3 0.7 -1.5 0.7 -0.5 0.7 -0.7 0.7 -2 0.7 -2.1 0.7 -0.6 0.7 1.3 0.7 1 0.7 -1.1 0.7 0.2 0.7 4.1 0.7 3.2 0.7 -1.6 0.7 -3.3 0.7 -2.4 0.7 -1.8 0.7 -1.5 0.7 -0.3 0.7 2.1 0.7 4.1 0.7 3.7 0.7 -0.1 0.7 -3.6 0.7 -2.5 0.7 0.6 0.7 1 0.7 1.1 0.7 3 0.7 3.1 0.7 -0.3 0.7 -3.2 0.7 -3 0.7 -1.9 0.7 -0.1 0.7 1.8 0.7 2.7 0.7 1.8 0.7 -0.4 0.7 -2.4 0.7 -3 0.7 -2.2 0.7 -0.5 0.7 1.9 0.7 3.7 0.7 2.5 0.7 -0.9 0.7 -2.2 0.7 -0.9 0.7 -0.5 0.7 -0.1 0.7 1.8M628.2 173.31l0.7 -0.1 0.7 0 0.7 0.1 0.7 0.1 0.7 -0.6 0.7 -0.4 0.7 0.9 0.7 1 0.7 0.2 0.7 -0.6 0.7 -1.1 0.7 -1 0.7 -0.5 0.7 -0.3 0.7 0 0.7 0.7 0.7 1.5 0.7 1.7 0.7 0.6 0.7 -1.2 0.7 -1.9 0.7 -0.8 0.7 0.4 0.7 0.7 0.7 0.4 0.7 0.3 0.7 0.6 0.7 0.6 0.7 0.2 0.7 -0.2 0.7 -0.6 0.7 -1.2 0.7 -0.9 0.7 0.4 0.7 1.5 0.7 1.7 0.7 0.9 0.7 0 0.7 -0.8 0.7 -1.6 0.7 -1.9 0.7 -1.2 0.7 -0.2 0.7 0.3 0.7 -0.1 0.7 -0.3 0.7 0.7 0.7 1.9 0.7 1.9 0.7 0.6 0.7 -1.2 0.7 -2.4 0.7 -1.9 0.7 0.2 0.7 1.7 0.7 1.8 0.7 1.4 0.7 0.7 0.7 -0.4 0.7 -1.2 0.7 -1.2 0.7 -0.9 0.7 -0.6 0.7 0.1 0.7 1.2 0.7 1.3 0.7 -0.2 0.7 -1.1 0.7 -0.5 0.7 0 0.7 0.5 0.7 1.7M502 199.15l0.7 -0.2 0.7 -0.2 0.7 -0.2 0.7 -0.9 0.7 -1.5 0.7 -0.7 0.7 1.4 0.7 2.6 0.7 1.7 0.7 -0.5 0.7 -2.5 0.7 -2.7 0.7 -1.7 0.7 -0.3 0.7 0.8 0.7 1.6 0.7 1.9 0.7 2.4 0.7 2.8 0.7 2.1 0.7 0.3 0.7 -1.6 0.7 -3 0.7 -3 0.7 -1.1 0.7 1.7 0.7 3.3 0.7 2.4 0.7 -0.3 0.7 -2.9 0.7 -3.8 0.7 -2.9 0.7 -1.2 0.7 0.7 0.7 2.4 0.7 2.9 0.7 1.9 0.7 0.4 0.7 -0.1 0.7 0.4 0.7 1.3 0.7 1.5 0.7 0.5 0.7 -1.5 0.7 -3.7 0.7 -4.2 0.7 -2.5 0.7 0.1 0.7 1.6 0.7 1.6 0.7 0.7 0.7 0 0.7 -0.3 0.7 -0.1 0.7 -0.1 0.7 -0.3 0.7 -0.1 0.7 0.8 0.7 1.7 0.7 1.9 0.7 1.1 0.7 0.1 0.7 -0.7 0.7 -1 0.7 -0.7 0.7 -0.2 0.7 0.1 0.7 -0.1 0.7 -0.4 0.7 -0.3 0.7 -0.2 0.7 -0.2M565.3 198.97l0.7 0 0.7 0 0.7 0 0.7 0.1 0.7 0.2 0.7 1 0.7 0.8 0.7 -0.1 0.7 -2.1 0.7 -3.4 0.7 -3.5 0.7 -1 0.7 0 0.7 0.6 0.7 2.2 0.7 1.8 0.7 1.5 0.7 1.3 0.7 1 0.7 0.3 0.7 -0.5 0.7 -0.9 0.7 -0.4 0.7 0.3 0.7 0.1 0.7 -0.9 0.7 -1.5 0.7 -0.6 0.7 1.3 0.7 2.8 0.7 2.9 0.7 1.2 0.7 -0.7 0.7 -1.5 0.7 -1.2 0.7 -0.4 0.7 0.1 0.7 0.1 0.7 -0.1 0.7 -0.4 0.7 -0.3 0.7 0.2 0.7 1 0.7 1.4 0.7 1.5 0.7 1 0.7 0 0.7 -1.2 0.7 -2.2 0.7 -2.6 0.7 -2.1 0.7 -1.2 0.7 -0.1 0.7 0.7 0.7 0.8 0.7 0.5 0.7 0.2 0.7 0.2 0.7 0.3 0.7 0.5 0.7 0.6 0.7 0.6 0.7 0.8 0.7 0.7 0.7 0 0.7 -1.1 0.7 -1.6 0.7 -1 0.7 0.4 0.7 1.5 0.7 1.6 0.7 0.7M628.2 198.78l0.7 -0.1 0.7 0 0.7 0.1 0.7 0.3 0.7 -0.5 0.7 -2.4 0.7 -2.3 0.7 0.4 0.7 1.7 0.7 1.2 0.7 0.8 0.7 1.4 0.7 2.2 0.7 2.2 0.7 0.4 0.7 -0.5 0.7 -2.2 0.7 -2.8 0.7 -1.8 0.7 -0.4 0.7 -0.5 0.7 -1.3 0.7 -0.5 0.7 0.7 0.7 0.9 0.7 1.6 0.7 3.3 0.7 2.1 0.7 -1.9 0.7 -3.1 0.7 0.1 0.7 3.1 0.7 2.2 0.7 0.1 0.7 -0.3 0.7 -1.5 0.7 -3.4 0.7 -2.8 0.7 -0.7 0.7 1 0.7 1.6 0.7 1 0.7 0.1 0.7 -0.2 0.7 0.1 0.7 1.1 0.7 1.2 0.7 0 0.7 -0.3 0.7 -0.2 0.7 -1.5 0.7 -2.1 0.7 0.3 0.7 3.1 0.7 1.5 0.7 -2.5 0.7 -1.9 0.7 1.7 0.7 1.8 0.7 -0.5 0.7 -1.3 0.7 -0.6 0.7 -0.7 0.7 -0.9 0.7 0.8 0.7 1.6 0.7 0.1 0.7 -0.5 0.7 -0.2 0.7 0.3 0.7 0.8 0.7 1.1M502 223.48l0.7 0.4 0.7 0.1 0.7 -0.4 0.7 -0.3 0.7 -0.1 0.7 0.3 0.7 2.2 0.7 2.9 0.7 0 0.7 -1.8 0.7 -0.6 0.7 -0.7 0.7 -0.8 0.7 1.1 0.7 1.8 0.7 -0.3 0.7 -2.3 0.7 -2.8 0.7 -2.3 0.7 -1.4 0.7 -0.5 0.7 0.3 0.7 1 0.7 2.2 0.7 2.8 0.7 1.2 0.7 -1.1 0.7 -1.2 0.7 0.7 0.7 2 0.7 1.4 0.7 -0.9 0.7 -2.5 0.7 -1.2 0.7 1.7 0.7 2.9 0.7 2.2 0.7 1 0.7 -0.4 0.7 -1.9 0.7 -3 0.7 -4.1 0.7 -4 0.7 -0.7 0.7 0.4 0.7 3.2 0.7 4.1 0.7 4.2 0.7 2.6 0.7 -0.9 0.7 -4.2 0.7 -4.6 0.7 -1.3 0.7 2.8 0.7 3.3 0.7 0.9 0.7 -0.2 0.7 0.1 0.7 -0.7 0.7 -1.4 0.7 -1 0.7 -0.1 0.7 -0.1 0.7 -0.9 0.7 -1.1 0.7 0 0.7 1.2 0.7 1.4 0.7 0.9 0.7 0 0.7 -1.3 0.7 -2.1M565.3 224.77l0.7 -0.6 0.7 -0.5 0.7 0 0.7 0.2 0.7 -0.1 0.7 -0.4 0.7 -0.2 0.7 0.2 0.7 0.2 0.7 -0.1 0.7 -0.4 0.7 -1.1 0.7 0.6 0.7 7.2 0.7 6 0.7 -5.4 0.7 -5.1 0.7 0.2 0.7 1.4 0.7 1.7 0.7 1.8 0.7 0.8 0.7 -0.4 0.7 -1.3 0.7 -2.4 0.7 -4 0.7 -4.7 0.7 -2.2 0.7 2 0.7 3.9 0.7 2.6 0.7 -0.2 0.7 -2.2 0.7 -1.6 0.7 -0.3 0.7 -0.8 0.7 -0.9 0.7 1.5 0.7 4.1 0.7 4 0.7 1.3 0.7 -1.6 0.7 -2.8 0.7 -1.8 0.7 0.6 0.7 2.3 0.7 1.7 0.7 0.6 0.7 -0.3 0.7 -1.8 0.7 -2.9 0.7 -3 0.7 -1.7 0.7 0.3 0.7 1.2 0.7 0.5 0.7 0.5 0.7 2.2 0.7 3 0.7 0.9 0.7 -1.9 0.7 -3.1 0.7 -2.1 0.7 0.2 0.7 1.6 0.7 0.9 0.7 0 0.7 0.2 0.7 0.6 0.7 1 0.7 1.9 0.7 0.9M628.2 223.63l0.7 0.1 0.7 0.1 0.7 0.1 0.7 0.2 0.7 0.7 0.7 1.4 0.7 0.5 0.7 0 0.7 -1.6 0.7 -1 0.7 -0.1 0.7 0 0.7 -0.5 0.7 -0.8 0.7 -0.8 0.7 -0.3 0.7 0.9 0.7 1.7 0.7 1 0.7 -0.3 0.7 -1.4 0.7 -1.4 0.7 -0.2 0.7 1.3 0.7 1.7 0.7 0.9 0.7 -0.6 0.7 -1.2 0.7 -0.7 0.7 -0.3 0.7 -0.2 0.7 0.4 0.7 0.8 0.7 0.8 0.7 0.2 0.7 -1.3 0.7 -1.4 0.7 0.6 0.7 1.6 0.7 0.3 0.7 -0.8 0.7 -0.5 0.7 0.2 0.7 0.2 0.7 -0.4 0.7 -0.1 0.7 1 0.7 1.4 0.7 0.6 0.7 -0.8 0.7 -1.6 0.7 -1.1 0.7 -0.3 0.7 -0.1 0.7 0.3 0.7 1 0.7 1 0.7 0.6 0.7 0.1 0.7 -1 0.7 -1.6 0.7 -0.5 0.7 0.8 0.7 1.1 0.7 0.5 0.7 -0.1 0.7 -0.8 0.7 -1 0.7 -0.6 0.7 0.1 0.7 0.9 0.7 0.8M502 249.45l0.7 -0.2 0.7 -0.1 0.7 -0.1 0.7 0 0.7 0 0.7 -0.4 0.7 -0.8 0.7 -0.9 0.7 0.6 0.7 1.6 0.7 0.4 0.7 -0.8 0.7 0.3 0.7 1.8 0.7 1.4 0.7 -0.1 0.7 -0.6 0.7 0.1 0.7 0.1 0.7 -1.5 0.7 -3.1 0.7 -2.2 0.7 0.7 0.7 2.6 0.7 1.4 0.7 -0.8 0.7 -1.6 0.7 -1.2 0.7 0.3 0.7 2 0.7 2.6 0.7 1.4 0.7 -1.5 0.7 -3.1 0.7 -0.6 0.7 2.6 0.7 1.8 0.7 -0.6 0.7 -0.8 0.7 -0.4 0.7 -0.6 0.7 0.4 0.7 1.3 0.7 -0.6 0.7 -2.7 0.7 -1.8 0.7 -0.3 0.7 0.1 0.7 1 0.7 1.8 0.7 1 0.7 -0.1 0.7 -0.2 0.7 1 0.7 2.3 0.7 1.1 0.7 0 0.7 -1.1 0.7 -2.8 0.7 -1.5 0.7 0.6 0.7 0.8 0.7 -0.4 0.7 -0.8 0.7 0.1 0.7 1 0.7 0.8 0.7 -0.3 0.7 -1.3 0.7 -1.5 0.7 -1 0.7 0M565.3 249.67l0.7 0.3 0.7 -0.4 0.7 -0.6 0.7 -0.4 0.7 -0.1 0.7 0.4 0.7 0.6 0.7 0.1 0.7 -0.2 0.7 0 0.7 0.4 0.7 -2.7 0.7 -9.3 0.7 4.2 0.7 5 0.7 8.4 0.7 5.5 0.7 -7.8 0.7 -2.7 0.7 -0.9 0.7 0.2 0.7 2.8 0.7 0.9 0.7 -3.1 0.7 -1.4 0.7 1 0.7 -0.3 0.7 -1 0.7 0.5 0.7 -0.5 0.7 -3.6 0.7 -1.3 0.7 3.1 0.7 1.8 0.7 -1.7 0.7 0 0.7 3.4 0.7 2.6 0.7 -0.1 0.7 -1.2 0.7 -0.8 0.7 -0.5 0.7 0 0.7 -0.5 0.7 -1.9 0.7 -0.2 0.7 1.9 0.7 0.6 0.7 -0.3 0.7 -0.1 0.7 -0.1 0.7 -0.3 0.7 -0.4 0.7 0.6 0.7 0.4 0.7 -0.8 0.7 -1.1 0.7 -0.4 0.7 0.6 0.7 0 0.7 -0.7 0.7 0.1 0.7 0.2 0.7 0.3 0.7 1 0.7 0.6 0.7 -0.6 0.7 -0.5 0.7 1.1 0.7 0.9 0.7 -1 0.7 -1.7M628.2 249.25l0.7 0.1 0.7 -0.2 0.7 -0.2 0.7 0 0.7 0.1 0.7 0.4 0.7 0.7 0.7 0.7 0.7 0.2 0.7 -0.6 0.7 -1.2 0.7 -0.9 0.7 0 0.7 -0.4 0.7 -0.6 0.7 1.1 0.7 1.5 0.7 -0.2 0.7 -0.6 0.7 0.6 0.7 0.8 0.7 -0.2 0.7 -1.7 0.7 -1.7 0.7 0.4 0.7 1.9 0.7 0.7 0.7 -0.8 0.7 -0.6 0.7 0.5 0.7 1.2 0.7 1.1 0.7 -0.1 0.7 -1.5 0.7 -1.2 0.7 0.4 0.7 0.9 0.7 -0.5 0.7 -1.2 0.7 -0.1 0.7 0.7 0.7 0.2 0.7 -0.1 0.7 0.7 0.7 1.7 0.7 1.7 0.7 0.1 0.7 -2.1 0.7 -3.2 0.7 -2.8 0.7 -0.1 0.7 0.9 0.7 2.6 0.7 2.2 0.7 1.4 0.7 0.1 0.7 -1.4 0.7 -2.2 0.7 -1.4 0.7 0.3 0.7 1 0.7 0.5 0.7 0 0.7 -0.2 0.7 -0.2 0.7 -0.4 0.7 -0.9 0.7 -0.1 0.7 2.1 0.7 3 0.7 1.1 0.7 -0.8M502 274.74l0.7 0 0.7 -0.1 0.7 -0.2 0.7 -0.4 0.7 -0.7 0.7 -2.3 0.7 -1.3 0.7 0.1 0.7 -1.8 0.7 -3.4 0.7 2.1 0.7 5.6 0.7 4.6 0.7 4.3 0.7 3.8 0.7 0.5 0.7 -0.5 0.7 -3.8 0.7 -3.9 0.7 -2.4 0.7 -0.6 0.7 0.1 0.7 -0.1 0.7 -0.3 0.7 0.4 0.7 1.2 0.7 1.5 0.7 1.1 0.7 0.2 0.7 -1 0.7 -2 0.7 -2.2 0.7 -1.6 0.7 -1.1 0.7 -0.7 0.7 0.1 0.7 1.5 0.7 2.6 0.7 1.9 0.7 -0.2 0.7 -2.1 0.7 -2.6 0.7 -1.6 0.7 -0.4 0.7 0.1 0.7 0.2 0.7 0.7 0.7 1.4 0.7 2.1 0.7 2.5 0.7 2.5 0.7 1.2 0.7 -1.2 0.7 -2.2 0.7 0.7 0.7 4.5 0.7 2.9 0.7 -3 0.7 -4.9 0.7 -1.8 0.7 1.4 0.7 1.8 0.7 0.3 0.7 -1 0.7 -1.4 0.7 -1.4 0.7 -0.8 0.7 0.3 0.7 1.4 0.7 1.2 0.7 -0.1 0.7 -0.8M565.3 274.16l0.7 0.4 0.7 0.2 0.7 0 0.7 0.1 0.7 0 0.7 1.1 0.7 1.9 0.7 1 0.7 -0.3 0.7 -1.5 0.7 -2 0.7 -1.5 0.7 -0.8 0.7 -0.6 0.7 -0.5 0.7 0.2 0.7 0.9 0.7 0.8 0.7 0.1 0.7 -0.1 0.7 0.3 0.7 0.6 0.7 0.5 0.7 0.2 0.7 -0.4 0.7 -1.5 0.7 -2.3 0.7 -1.6 0.7 0.7 0.7 3 0.7 3.7 0.7 2.3 0.7 0.1 0.7 -1.6 0.7 -1.7 0.7 -0.4 0.7 0.5 0.7 -0.2 0.7 -1.6 0.7 -2.1 0.7 -1.3 0.7 -0.5 0.7 -0.2 0.7 0.5 0.7 1.9 0.7 2.7 0.7 1.7 0.7 -0.3 0.7 -1.4 0.7 -1.1 0.7 0 0.7 1 0.7 1.5 0.7 1.3 0.7 0.3 0.7 -1.3 0.7 -2.3 0.7 -1.8 0.7 0.1 0.7 2.1 0.7 3.1 0.7 2.4 0.7 0 0.7 -2.8 0.7 -4.2 0.7 -3.6 0.7 -1.8 0.7 -0.1 0.7 1.4 0.7 2.6 0.7 3.1 0.7 2.4M628.2 273.4l0.7 0 0.7 0.5 0.7 0.7 0.7 0.4 0.7 0.2 0.7 0.1 0.7 0 0.7 0.9 0.7 0 0.7 -0.4 0.7 -0.2 0.7 -0.9 0.7 -2.1 0.7 -2 0.7 -0.2 0.7 0.3 0.7 -2.1 0.7 -2.1 0.7 2.5 0.7 4.3 0.7 2 0.7 1 0.7 2.4 0.7 2.8 0.7 0.9 0.7 -1.9 0.7 -3.5 0.7 -2.8 0.7 -1.4 0.7 -1.3 0.7 -1.6 0.7 -1 0.7 -1.8 0.7 -0.3 0.7 3.2 0.7 2.7 0.7 1.5 0.7 1.8 0.7 1.2 0.7 -0.6 0.7 -1.2 0.7 -0.1 0.7 0.9 0.7 0.5 0.7 -0.6 0.7 -1 0.7 -0.5 0.7 0.2 0.7 2 0.7 5.5 0.7 4 0.7 -3.9 0.7 -5.2 0.7 -0.6 0.7 1.1 0.7 -2.1 0.7 -5.7 0.7 -4.3 0.7 0.8 0.7 5.1 0.7 5.4 0.7 2.7 0.7 -1.1 0.7 -4.6 0.7 -6.2 0.7 -3.3 0.7 2.9 0.7 4.2 0.7 2.5 0.7 1.5 0.7 0.5 0.7 -0.6M502 300.1l0.7 0.2 0.7 0.1 0.7 -0.2 0.7 -0.6 0.7 -2.8 0.7 -3 0.7 0.5 0.7 2.9 0.7 1.2 0.7 -0.7 0.7 -0.7 0.7 0.9 0.7 2.6 0.7 3.1 0.7 2.4 0.7 1 0.7 -0.3 0.7 -1 0.7 -1.7 0.7 -2.8 0.7 -3.4 0.7 -2.6 0.7 -1.1 0.7 0.3 0.7 1.7 0.7 2.7 0.7 2.2 0.7 0.9 0.7 -0.1 0.7 -0.7 0.7 -1.3 0.7 -1.3 0.7 -0.5 0.7 0.4 0.7 1 0.7 1 0.7 0 0.7 -0.9 0.7 -0.4 0.7 1.1 0.7 1.7 0.7 1.5 0.7 0.9 0.7 -0.6 0.7 -2 0.7 -2 0.7 -0.4 0.7 0.6 0.7 0 0.7 -1.5 0.7 -2.7 0.7 -2.5 0.7 0.2 0.7 4.2 0.7 6 0.7 4.1 0.7 0.1 0.7 -2.7 0.7 -4 0.7 -2.6 0.7 -0.2 0.7 1.2 0.7 1.2 0.7 0.1 0.7 -1.3 0.7 -1.6 0.7 0 0.7 1.7 0.7 1.5 0.7 -0.4 0.7 -1.7 0.7 -1M565.3 299.33l0.7 0.2 0.7 0.1 0.7 -0.2 0.7 -1.8 0.7 -2.3 0.7 -0.9 0.7 2.3 0.7 4.2 0.7 3.5 0.7 1.4 0.7 -0.7 0.7 -1.2 0.7 0.1 0.7 1.3 0.7 1.2 0.7 0.3 0.7 -1.4 0.7 -3.1 0.7 -3.8 0.7 -3.1 0.7 -1.8 0.7 0.2 0.7 2.3 0.7 3.6 0.7 3.3 0.7 1.6 0.7 -1 0.7 -3.3 0.7 -3.5 0.7 -0.9 0.7 2.6 0.7 4.4 0.7 2.7 0.7 -2.2 0.7 -5.7 0.7 -4.1 0.7 0.6 0.7 4 0.7 4.6 0.7 3.1 0.7 1.2 0.7 -0.1 0.7 -2.1 0.7 -5 0.7 -5.8 0.7 -3.3 0.7 0.2 0.7 2 0.7 1.5 0.7 0.3 0.7 0.3 0.7 2.8 0.7 6 0.7 6.1 0.7 0.8 0.7 -0.4 0.7 -5 0.7 -4.7 0.7 -1.9 0.7 -0.2 0.7 -1 0.7 -2.2 0.7 -1.3 0.7 1.1 0.7 2.7 0.7 2.5 0.7 1.1 0.7 -0.5 0.7 -1.7 0.7 -0.8 0.7 1.3 0.7 1.4M628.2 299.85l0.7 -0.1 0.7 0 0.7 0 0.7 0.1 0.7 0.9 0.7 2.5 0.7 2.8 0.7 -0.9 0.7 -4.9 0.7 -5.9 0.7 -1.8 0.7 3.9 0.7 6.5 0.7 4.1 0.7 -1.1 0.7 -4.4 0.7 -2.6 0.7 1.1 0.7 1.6 0.7 -1.4 0.7 -3.2 0.7 -1.4 0.7 1.9 0.7 3 0.7 1.7 0.7 -0.2 0.7 -1.7 0.7 -1.5 0.7 -0.5 0.7 -2.1 0.7 -3.4 0.7 0.3 0.7 4.6 0.7 3.2 0.7 -0.3 0.7 -1 0.7 -1.5 0.7 -2.9 0.7 -1.3 0.7 3.3 0.7 6.1 0.7 4.3 0.7 0.4 0.7 -1.8 0.7 -1.7 0.7 -2.3 0.7 -4.9 0.7 -5.4 0.7 -0.3 0.7 5.2 0.7 5.1 0.7 1.7 0.7 -0.3 0.7 -0.5 0.7 -0.1 0.7 0.6 0.7 1.3 0.7 0.4 0.7 -2 0.7 -3.2 0.7 -2.9 0.7 -2.5 0.7 -1 0.7 2.3 0.7 4.9 0.7 4.2 0.7 1 0.7 -2.1 0.7 -2.9 0.7 -2.6 0.7 -3 0.7 -2.2M502 324.09l0.7 0.3 0.7 0.5 0.7 0.5 0.7 1.7 0.7 1.1 0.7 -2.6 0.7 -5.4 0.7 -1.3 0.7 4.2 0.7 5.5 0.7 2.2 0.7 -1.4 0.7 -2.5 0.7 -1.4 0.7 0.2 0.7 1 0.7 0.7 0.7 0.3 0.7 0.2 0.7 -0.9 0.7 -3.1 0.7 -4 0.7 -2 0.7 1.4 0.7 3.2 0.7 2.4 0.7 0.6 0.7 -0.3 0.7 0.8 0.7 3.4 0.7 4.6 0.7 0.1 0.7 -1.9 0.7 -6.1 0.7 -4.5 0.7 -0.3 0.7 3.1 0.7 2.9 0.7 -0.3 0.7 -3 0.7 -2.8 0.7 -0.4 0.7 1.4 0.7 0.9 0.7 -1.4 0.7 -2.2 0.7 0.3 0.7 3.8 0.7 4.6 0.7 2.7 0.7 0.6 0.7 -0.4 0.7 -1.1 0.7 -3.2 0.7 -5.4 0.7 -4.3 0.7 0.5 0.7 4.8 0.7 5.6 0.7 3.9 0.7 0.8 0.7 -3 0.7 -5 0.7 -2.8 0.7 1.4 0.7 3.9 0.7 2.7 0.7 -1.6 0.7 -5.5 0.7 -4.3 0.7 1 0.7 4.4M565.3 324.04l0.7 0.5 0.7 0.8 0.7 0.4 0.7 -0.1 0.7 0 0.7 0.9 0.7 1.1 0.7 -0.2 0.7 -4.2 0.7 -7.3 0.7 -2.6 0.7 4.8 0.7 7.6 0.7 6.6 0.7 0.8 0.7 -5.3 0.7 -6.8 0.7 -4.4 0.7 -1.5 0.7 -0.4 0.7 0.2 0.7 2 0.7 4.4 0.7 5.1 0.7 2.8 0.7 -0.6 0.7 -2.4 0.7 -1.4 0.7 1 0.7 2.4 0.7 1.6 0.7 0.6 0.7 0.4 0.7 -0.2 0.7 -1.8 0.7 -3 0.7 -3.4 0.7 -3.5 0.7 -2.4 0.7 0.5 0.7 3.7 0.7 5.2 0.7 4 0.7 -0.4 0.7 -5.2 0.7 -6.2 0.7 -2.6 0.7 1.3 0.7 2.4 0.7 2.4 0.7 3.9 0.7 5.3 0.7 3.6 0.7 -0.2 0.7 -2.9 0.7 -3 0.7 -1.9 0.7 -0.7 0.7 0.3 0.7 0.4 0.7 -1.1 0.7 -3.1 0.7 -3.4 0.7 -1.3 0.7 1.9 0.7 3.7 0.7 3.2 0.7 1.9 0.7 1.6 0.7 1.1 0.7 -0.9 0.7 -3M628.2 324.88l0.7 -0.5 0.7 0.1 0.7 0.7 0.7 0.8 0.7 0.9 0.7 2.1 0.7 -0.4 0.7 -2.4 0.7 -2.4 0.7 -1 0.7 -0.8 0.7 -1.7 0.7 -2.1 0.7 -1 0.7 0.1 0.7 0.5 0.7 1.4 0.7 3.3 0.7 5.2 0.7 5.1 0.7 2 0.7 -2.4 0.7 -5.2 0.7 -5.4 0.7 -3.1 0.7 0 0.7 1.9 0.7 1.8 0.7 0.8 0.7 0.8 0.7 1.4 0.7 0.2 0.7 -1.2 0.7 -0.4 0.7 2.4 0.7 4.7 0.7 5 0.7 0.2 0.7 -1 0.7 -5.5 0.7 -4.8 0.7 -2.7 0.7 -1.9 0.7 -2.7 0.7 -2.2 0.7 1.3 0.7 4.7 0.7 4.8 0.7 2.5 0.7 1 0.7 0.8 0.7 0.1 0.7 -1.8 0.7 -3.3 0.7 -3.1 0.7 -1.7 0.7 -0.1 0.7 2.2 0.7 5.1 0.7 5.2 0.7 1.7 0.7 -1.2 0.7 -1.4 0.7 -1.7 0.7 -3.9 0.7 -5 0.7 -3.5 0.7 -1.5 0.7 0.3 0.7 2.2 0.7 3 0.7 1.6M502 351.45l0.7 -1.3 0.7 -1.5 0.7 -0.6 0.7 0.9 0.7 1.9 0.7 5.1 0.7 3.5 0.7 -4.7 0.7 -8.3 0.7 -1.6 0.7 3.2 0.7 4.1 0.7 3.8 0.7 2.6 0.7 0.5 0.7 -2.8 0.7 -6.4 0.7 -6 0.7 -0.4 0.7 4.9 0.7 4.7 0.7 0.8 0.7 -4.2 0.7 -6.8 0.7 -2.4 0.7 0 0.7 5.4 0.7 5.9 0.7 4.6 0.7 2.8 0.7 -0.4 0.7 -5 0.7 -6.2 0.7 -1.5 0.7 4.9 0.7 5.4 0.7 0.7 0.7 -2.5 0.7 -3.4 0.7 -3.8 0.7 -2.5 0.7 1.5 0.7 4.5 0.7 3.3 0.7 -0.3 0.7 -3 0.7 -4.4 0.7 -3.7 0.7 0.1 0.7 4.8 0.7 6.6 0.7 4 0.7 -1.5 0.7 -5.7 0.7 -4.8 0.7 -0.2 0.7 3.2 0.7 3.4 0.7 2.1 0.7 0.5 0.7 -2.2 0.7 -5.2 0.7 -4.4 0.7 0.8 0.7 4.8 0.7 4.3 0.7 1.4 0.7 -0.9 0.7 -2.5 0.7 -3.3 0.7 -2.1 0.7 0.5M565.3 350.84l0.7 0.1 0.7 -0.2 0.7 -0.5 0.7 -0.5 0.7 -0.2 0.7 0.2 0.7 0.5 0.7 2.8 0.7 3.5 0.7 -0.4 0.7 -5.5 0.7 -5.6 0.7 -1.3 0.7 3.9 0.7 6.2 0.7 4.3 0.7 -0.6 0.7 -5.6 0.7 -7.4 0.7 -5 0.7 0.3 0.7 5.4 0.7 7.8 0.7 6.1 0.7 1.3 0.7 -4.2 0.7 -7.3 0.7 -6.1 0.7 -0.9 0.7 5.2 0.7 7.6 0.7 4.3 0.7 -1.9 0.7 -6.3 0.7 -6 0.7 -2.3 0.7 1.6 0.7 3.6 0.7 4.1 0.7 3 0.7 0.6 0.7 -2.2 0.7 -3.6 0.7 -2.6 0.7 0.3 0.7 3.4 0.7 4.6 0.7 2.5 0.7 -2.4 0.7 -6.3 0.7 -5.9 0.7 -1.5 0.7 3.6 0.7 6 0.7 4.5 0.7 1 0.7 -2.9 0.7 -5.7 0.7 -4.9 0.7 0 0.7 5.3 0.7 6.6 0.7 3.2 0.7 -1.7 0.7 -4.8 0.7 -4.9 0.7 -2.8 0.7 0.4 0.7 3.5 0.7 4.8 0.7 3 0.7 -0.6M628.2 350.68l0.7 -0.4 0.7 -0.4 0.7 -0.1 0.7 0.4 0.7 0.7 0.7 1.2 0.7 -0.6 0.7 -2.5 0.7 -1 0.7 2.4 0.7 3.5 0.7 1.4 0.7 -1.4 0.7 -3.2 0.7 -3.1 0.7 -1 0.7 1.9 0.7 3.8 0.7 2.6 0.7 -1.3 0.7 -4.6 0.7 -4.3 0.7 -0.8 0.7 3.3 0.7 5.1 0.7 2.9 0.7 -2 0.7 -5.4 0.7 -3.6 0.7 2.5 0.7 7.1 0.7 4.4 0.7 -0.7 0.7 -6.7 0.7 -5.7 0.7 0.1 0.7 5 0.7 5 0.7 1 0.7 -4 0.7 -6 0.7 -3.1 0.7 2.2 0.7 5.7 0.7 5.6 0.7 0.6 0.7 -5.8 0.7 -6.3 0.7 -1 0.7 3.7 0.7 5.2 0.7 3.7 0.7 -0.7 0.7 -4.9 0.7 -4.8 0.7 -0.7 0.7 3.5 0.7 4.3 0.7 0.9 0.7 -3.2 0.7 -4.4 0.7 -2.1 0.7 1.9 0.7 4.7 0.7 4.3 0.7 -0.1 0.7 -5.1 0.7 -5.2 0.7 0.1 0.7 5 0.7 5.1 0.7 1.4"/>
<path fill="none" stroke="#f00" stroke-width="1.25" stroke-linejoin="round" d="M502 46.54l0.7 0 0.7 0.1 0.7 0.1 0.7 0.1 0.7 0.1 0.7 0.1 0.7 0 0.7 0 0.7 -0.6 0.7 -1 0.7 0.1 0.7 1.8 0.7 1.9 0.7 1.6 0.7 0.8 0.7 -0.9 0.7 -1.9 0.7 -1.4 0.7 -1.2 0.7 -1.6 0.7 -1.2 0.7 0.1 0.7 1.2 0.7 1.7 0.7 1.3 0.7 0.4 0.7 -0.4 0.7 -0.6 0.7 -0.3 0.7 0.1 0.7 0.1 0.7 0.2 0.7 0.7 0.7 0.9 0.7 0.3 0.7 -1.1 0.7 -2.4 0.7 -2.3 0.7 -0.9 0.7 0.9 0.7 1.4 0.7 0.4 0.7 -0.7 0.7 -0.5 0.7 0.6 0.7 1.1 0.7 0.9 0.7 0.6 0.7 0.4 0.7 0.2 0.7 0 0.7 0 0.7 0.1 0.7 0.1 0.7 0.1 0.7 0.2 0.7 0.2 0.7 -0.3 0.7 -0.5 0.7 -0.6 0.7 -1 0.7 -1.7 0.7 -1.9 0.7 -0.4 0.7 0.2 0.7 2.4 0.7 2.7 0.7 1.6 0.7 0.1 0.7 -0.7 0.7 -0.8 0.7 -0.2M565.3 46.43l0.7 0 0.7 0 0.7 0 0.7 0.1 0.7 0.3 0.7 0.4 0.7 0.9 0.7 0.9 0.7 -0.2 0.7 -1.9 0.7 -1.6 0.7 1.5 0.7 4.2 0.7 4.2 0.7 0.9 0.7 -2.9 0.7 -3.7 0.7 -2.3 0.7 -1.1 0.7 -0.2 0.7 0.6 0.7 1.3 0.7 0.9 0.7 -0.3 0.7 -1.4 0.7 -1.4 0.7 -0.4 0.7 0.9 0.7 1.5 0.7 1 0.7 0.1 0.7 -0.5 0.7 -1.2 0.7 -2 0.7 -3 0.7 -3.1 0.7 -0.4 0.7 2.8 0.7 2.6 0.7 0.9 0.7 -0.2 0.7 -0.2 0.7 0.5 0.7 1.1 0.7 1 0.7 0.8 0.7 0.7 0.7 0.9 0.7 0.9 0.7 0.6 0.7 -0.1 0.7 -0.4 0.7 -0.3 0.7 -0.1 0.7 -0.4 0.7 -1 0.7 -1.4 0.7 -1.3 0.7 -0.9 0.7 -0.7 0.7 -0.4 0.7 0.4 0.7 1.4 0.7 1.7 0.7 1 0.7 0.2 0.7 -0.4 0.7 -1.1 0.7 -1.7 0.7 -1.6 0.7 -0.8 0.7 0.3M628.2 47.13l0.7 -0.1 0.7 -0.2 0.7 -0.1 0.7 -0.1 0.7 0 0.7 0 0.7 -0.1 0.7 -0.1 0.7 -0.1 0.7 -0.5 0.7 -0.6 0.7 -0.6 0.7 0.2 0.7 1.5 0.7 2.1 0.7 1.5 0.7 0 0.7 -0.1 0.7 -1.9 0.7 -1.8 0.7 -1 0.7 -0.2 0.7 0.3 0.7 0.5 0.7 0.6 0.7 0.5 0.7 0.1 0.7 -0.2 0.7 0.1 0.7 0.6 0.7 0.8 0.7 0.2 0.7 -0.8 0.7 -1.3 0.7 -0.7 0.7 0.5 0.7 1.3 0.7 1.1 0.7 0.3 0.7 -0.3 0.7 -0.5 0.7 -0.4 0.7 -0.1 0.7 0.1 0.7 -0.2 0.7 -0.6 0.7 -0.9 0.7 -0.8 0.7 -0.3 0.7 0.4 0.7 0.7 0.7 0.4 0.7 -0.1 0.7 -0.2 0.7 0 0.7 0.4 0.7 0.8 0.7 0.9 0.7 0.5 0.7 -0.3 0.7 -0.8 0.7 -0.5 0.7 0.2 0.7 0.2 0.7 -0.2 0.7 -0.4 0.7 -0.2 0.7 -0.2 0.7 -0.3 0.7 -0.3 0.7 -0.2 0.7 0M502 74.57l0.7 -0.3 0.7 -0.6 0.7 -0.9 0.7 -1.2 0.7 -2 0.7 -3.3 0.7 -3.2 0.7 -0.6 0.7 2.7 0.7 2 0.7 -2.4 0.7 -2.4 0.7 3.7 0.7 6.2 0.7 4.2 0.7 3.8 0.7 1.7 0.7 -5 0.7 -6.1 0.7 -1.9 0.7 0.6 0.7 1.1 0.7 1.4 0.7 1.2 0.7 0.5 0.7 0.6 0.7 2.3 0.7 3.4 0.7 2.4 0.7 0.3 0.7 -2 0.7 -4.1 0.7 -4.6 0.7 -3.4 0.7 -1.4 0.7 0.7 0.7 2.3 0.7 2.4 0.7 0.6 0.7 -2 0.7 -3.4 0.7 -2.8 0.7 -0.8 0.7 1.3 0.7 2.6 0.7 2.4 0.7 1.2 0.7 0.3 0.7 0.7 0.7 1.5 0.7 1.2 0.7 0 0.7 -1 0.7 -1 0.7 -0.6 0.7 -0.3 0.7 -0.1 0.7 -0.2 0.7 -0.5 0.7 -0.5 0.7 -0.2 0.7 0.1 0.7 -0.1 0.7 -0.5 0.7 -0.4 0.7 0.4 0.7 1.3 0.7 1.6 0.7 1 0.7 -0.2 0.7 -1.2 0.7 -1.2M565.3 71.54l0.7 -0.1 0.7 -0.1 0.7 0.1 0.7 0.2 0.7 0.3 0.7 0.3 0.7 0.2 0.7 0.1 0.7 0 0.7 0.1 0.7 0.2 0.7 0.4 0.7 0.5 0.7 0.3 0.7 0.4 0.7 0.6 0.7 0.3 0.7 0 0.7 -0.5 0.7 -0.8 0.7 -0.7 0.7 -0.5 0.7 -0.2 0.7 -0.2 0.7 -0.3 0.7 -0.5 0.7 -0.5 0.7 -0.3 0.7 0 0.7 0.1 0.7 0.2 0.7 0.4 0.7 0.4 0.7 0.2 0.7 -0.1 0.7 -0.1 0.7 0 0.7 0 0.7 -0.2 0.7 -0.5 0.7 -0.6 0.7 -0.3 0.7 0.1 0.7 0.5 0.7 0.7 0.7 0.6 0.7 0.5 0.7 0.4 0.7 0.3 0.7 0 0.7 -0.1 0.7 -0.1 0.7 0 0.7 0 0.7 -0.2 0.7 -0.6 0.7 -0.8 0.7 -0.8 0.7 -0.4 0.7 0 0.7 0.4 0.7 0.6 0.7 0.7 0.7 0.6 0.7 0.4 0.7 0 0.7 -0.3 0.7 -0.3 0.7 -0.2 0.7 -0.2 0.7 -0.1 0.7 -0.1M628.2 72.43l0.7 -0.3 0.7 -0.4 0.7 -0.2 0.7 0.1 0.7 0.3 0.7 0.1 0.7 0.3 0.7 -0.2 0.7 -0.4 0.7 -0.4 0.7 -0.2 0.7 0.1 0.7 0.7 0.7 0.9 0.7 0.4 0.7 -0.5 0.7 -0.6 0.7 -0.5 0.7 -0.7 0.7 -0.8 0.7 0 0.7 1.4 0.7 1.9 0.7 1.2 0.7 0.1 0.7 -0.7 0.7 -0.8 0.7 0.1 0.7 0.9 0.7 0.7 0.7 -0.3 0.7 -1.3 0.7 -1.8 0.7 -1.3 0.7 -0.2 0.7 0.2 0.7 -0.3 0.7 -0.8 0.7 -0.4 0.7 0 0.7 1 0.7 1.4 0.7 1.1 0.7 0.5 0.7 0.2 0.7 0.4 0.7 0.6 0.7 0.3 0.7 -0.2 0.7 -0.2 0.7 -0.1 0.7 -0.7 0.7 -1.6 0.7 -1.5 0.7 -0.4 0.7 0.6 0.7 0.9 0.7 1 0.7 1.2 0.7 0.8 0.7 0 0.7 -0.6 0.7 -0.6 0.7 -0.2 0.7 0 0.7 0 0.7 -0.4 0.7 -0.7 0.7 -0.6 0.7 -0.4 0.7 -0.5 0.7 -0.4M502 97.61l0.7 -0.1 0.7 -0.2 0.7 -0.1 0.7 0.1 0.7 0.2 0.7 0.1 0.7 -0.3 0.7 -1 0.7 -3.1 0.7 -4 0.7 -0.5 0.7 0.1 0.7 5.1 0.7 5.1 0.7 2.4 0.7 0 0.7 -0.6 0.7 -0.1 0.7 0.4 0.7 0.6 0.7 0.8 0.7 0.7 0.7 -0.1 0.7 -1.2 0.7 -1.7 0.7 -1.3 0.7 -0.3 0.7 0.5 0.7 0.7 0.7 0.1 0.7 -0.9 0.7 -1.2 0.7 -0.4 0.7 0.5 0.7 0.3 0.7 -0.5 0.7 -1 0.7 -1 0.7 -0.8 0.7 -0.8 0.7 -1 0.7 -0.8 0.7 0.3 0.7 1.5 0.7 1.8 0.7 1.1 0.7 0.6 0.7 0.9 0.7 1 0.7 -0.1 0.7 -1.7 0.7 -2.3 0.7 -1.4 0.7 0.4 0.7 2.1 0.7 3.1 0.7 2.8 0.7 1.3 0.7 -0.8 0.7 -2.1 0.7 -2.3 0.7 -1.6 0.7 -0.8 0.7 -0.4 0.7 -0.6 0.7 -0.9 0.7 -0.6 0.7 0.1 0.7 0.7 0.7 1.2 0.7 1.6 0.7 1.2M565.3 96.1l0.7 -0.1 0.7 0.2 0.7 0.5 0.7 0.8 0.7 0.8 0.7 0.7 0.7 0.2 0.7 -0.4 0.7 -0.8 0.7 -0.7 0.7 -0.9 0.7 -1.6 0.7 -1.6 0.7 -1.9 0.7 -1.3 0.7 1 0.7 3.6 0.7 3.2 0.7 -1.4 0.7 -4.6 0.7 -2.3 0.7 1.4 0.7 1.9 0.7 1.6 0.7 2.4 0.7 3.3 0.7 3.1 0.7 2 0.7 0.9 0.7 -0.1 0.7 -1.4 0.7 -2.7 0.7 -2.7 0.7 -1.2 0.7 0.3 0.7 0.5 0.7 -0.3 0.7 -1 0.7 -1 0.7 -0.8 0.7 -0.7 0.7 -0.5 0.7 -0.3 0.7 -0.3 0.7 -0.5 0.7 -0.6 0.7 -0.5 0.7 -0.1 0.7 0.8 0.7 1.9 0.7 2.9 0.7 3.4 0.7 2.9 0.7 1.3 0.7 -0.9 0.7 -2.7 0.7 -3.2 0.7 -2.5 0.7 -1.3 0.7 -0.5 0.7 -0.2 0.7 -0.4 0.7 -0.4 0.7 0.2 0.7 1.1 0.7 1.8 0.7 1.9 0.7 1.4 0.7 0.5 0.7 -0.2 0.7 -0.7 0.7 -0.8M628.2 97.21l0.7 0 0.7 0.1 0.7 0.1 0.7 0.2 0.7 0.4 0.7 0.6 0.7 0.5 0.7 0.3 0.7 0 0.7 -0.6 0.7 -1.1 0.7 -0.7 0.7 0.1 0.7 0.4 0.7 -0.1 0.7 -0.7 0.7 -0.8 0.7 -0.1 0.7 0.7 0.7 1 0.7 0.8 0.7 0.3 0.7 -0.4 0.7 -0.9 0.7 -1 0.7 -0.7 0.7 0.1 0.7 0.9 0.7 1.2 0.7 0.8 0.7 0.2 0.7 -0.5 0.7 -1 0.7 -1 0.7 -0.3 0.7 0.7 0.7 1.3 0.7 1.2 0.7 0.6 0.7 -0.1 0.7 -0.7 0.7 -1.2 0.7 -1.3 0.7 -0.7 0.7 0.4 0.7 0.9 0.7 0.4 0.7 -0.3 0.7 -0.4 0.7 0 0.7 0.4 0.7 0.3 0.7 0.1 0.7 0.1 0.7 0.1 0.7 -0.3 0.7 -0.3 0.7 0.3 0.7 0.9 0.7 0.9 0.7 0.3 0.7 -0.5 0.7 -0.9 0.7 -0.7 0.7 -0.2 0.7 0.2 0.7 0.4 0.7 0.2 0.7 -0.3 0.7 -0.3 0.7 0.2 0.7 0.6M502 122.99l0.7 0 0.7 0 0.7 -0.2 0.7 -0.3 0.7 -0.4 0.7 -0.3 0.7 0.1 0.7 0.7 0.7 0.5 0.7 0.3 0.7 -0.3 0.7 -1.4 0.7 -1.6 0.7 -0.6 0.7 0.4 0.7 0.5 0.7 0.2 0.7 0.1 0.7 0.2 0.7 0.8 0.7 1.9 0.7 2 0.7 0.9 0.7 -0.4 0.7 -1.6 0.7 -2.1 0.7 -1.4 0.7 -0.8 0.7 -0.6 0.7 0.8 0.7 3.1 0.7 3.2 0.7 0.9 0.7 -1.3 0.7 -1.4 0.7 0 0.7 1.2 0.7 0.8 0.7 -0.8 0.7 -2.2 0.7 -2.4 0.7 -2 0.7 -1.6 0.7 -0.9 0.7 0 0.7 0.8 0.7 1.5 0.7 1.7 0.7 1.3 0.7 0.5 0.7 0.3 0.7 0.6 0.7 0.9 0.7 0.9 0.7 0.3 0.7 -1.1 0.7 -2.2 0.7 -1.7 0.7 -0.5 0.7 0 0.7 -0.1 0.7 -0.1 0.7 0.3 0.7 0.9 0.7 1.5 0.7 1.9 0.7 1.4 0.7 0 0.7 -1.7 0.7 -2.3 0.7 -1.3 0.7 -0.4M565.3 122.69l0.7 0 0.7 0 0.7 0.1 0.7 0 0.7 0.5 0.7 1 0.7 1 0.7 0.5 0.7 -0.1 0.7 -0.6 0.7 -1.1 0.7 -1.4 0.7 -1.4 0.7 -1.3 0.7 -0.8 0.7 -0.3 0.7 -0.1 0.7 -0.1 0.7 -0.1 0.7 0.3 0.7 1.1 0.7 1.9 0.7 2.2 0.7 1.7 0.7 0.5 0.7 -0.6 0.7 -1.2 0.7 -0.9 0.7 -0.1 0.7 0.6 0.7 0.8 0.7 0.4 0.7 -0.2 0.7 -0.6 0.7 -0.6 0.7 -0.3 0.7 0 0.7 0.1 0.7 0.3 0.7 0.5 0.7 0.4 0.7 -0.1 0.7 -0.8 0.7 -1.1 0.7 -0.9 0.7 -0.6 0.7 -0.5 0.7 -0.6 0.7 -0.6 0.7 -0.3 0.7 0 0.7 0.1 0.7 0 0.7 0 0.7 0.1 0.7 0.4 0.7 0.7 0.7 1 0.7 1.2 0.7 1.2 0.7 1 0.7 0.7 0.7 0.2 0.7 -0.5 0.7 -1.1 0.7 -1.3 0.7 -1.1 0.7 -0.4 0.7 0.5 0.7 1.2 0.7 1.2 0.7 0.7M628.2 122.89l0.7 -0.1 0.7 -0.1 0.7 -0.1 0.7 -0.5 0.7 -0.7 0.7 -0.6 0.7 0.3 0.7 1.2 0.7 1.3 0.7 0.9 0.7 0.3 0.7 -0.1 0.7 -0.5 0.7 -0.8 0.7 -0.8 0.7 -0.4 0.7 -0.1 0.7 -0.2 0.7 -0.4 0.7 -0.4 0.7 0 0.7 0.5 0.7 0.7 0.7 0.7 0.7 0.6 0.7 0.2 0.7 -0.3 0.7 -0.4 0.7 -0.1 0.7 0.2 0.7 0.1 0.7 -0.2 0.7 -0.5 0.7 -0.5 0.7 -0.1 0.7 0.3 0.7 0.3 0.7 0.1 0.7 0 0.7 0.1 0.7 0.2 0.7 0.3 0.7 0.3 0.7 0.2 0.7 0 0.7 -0.2 0.7 -0.3 0.7 -0.5 0.7 -0.6 0.7 -0.5 0.7 0 0.7 0.3 0.7 0.4 0.7 0.4 0.7 0.3 0.7 0.1 0.7 -0.3 0.7 -0.8 0.7 -0.9 0.7 -0.5 0.7 -0.1 0.7 0.1 0.7 0.4 0.7 0.7 0.7 0.7 0.7 0.4 0.7 0.4 0.7 0.6 0.7 0.6 0.7 0.1 0.7 -0.4 0.7 -0.6M502 147.96l0.7 -0.1 0.7 0 0.7 0.1 0.7 0 0.7 0.2 0.7 0.2 0.7 0.3 0.7 0.3 0.7 0.4 0.7 0.4 0.7 0 0.7 -0.4 0.7 -0.7 0.7 -0.7 0.7 -0.5 0.7 -0.3 0.7 -0.4 0.7 -0.4 0.7 -0.1 0.7 0.3 0.7 0.4 0.7 0.3 0.7 0.3 0.7 0.2 0.7 0.1 0.7 -0.1 0.7 -0.2 0.7 0 0.7 0.4 0.7 0.6 0.7 0.3 0.7 -0.2 0.7 -0.5 0.7 -0.5 0.7 -0.5 0.7 -0.4 0.7 -0.2 0.7 -0.1 0.7 0 0.7 -0.2 0.7 -0.2 0.7 0 0.7 0.2 0.7 0.5 0.7 0.8 0.7 1 0.7 0.9 0.7 0.4 0.7 0 0.7 0.1 0.7 0.3 0.7 0.4 0.7 0.2 0.7 -0.2 0.7 -0.5 0.7 -0.7 0.7 -0.7 0.7 -0.7 0.7 -0.8 0.7 -1 0.7 -1 0.7 -0.6 0.7 0.1 0.7 0.8 0.7 0.8 0.7 0.4 0.7 -0.1 0.7 -0.2 0.7 0.1 0.7 0.4 0.7 0.5 0.7 0.5M565.3 147.79l0.7 0.1 0.7 0.1 0.7 0.3 0.7 0.2 0.7 0.1 0.7 0.1 0.7 0 0.7 -0.1 0.7 -0.2 0.7 -0.2 0.7 -0.2 0.7 -0.2 0.7 0 0.7 0.2 0.7 0.4 0.7 0.5 0.7 0.6 0.7 0.6 0.7 0.5 0.7 0.5 0.7 0.4 0.7 0.3 0.7 0.2 0.7 0.1 0.7 -0.1 0.7 -0.3 0.7 -0.5 0.7 -0.7 0.7 -0.8 0.7 -0.9 0.7 -0.9 0.7 -0.8 0.7 -0.7 0.7 -0.6 0.7 -0.5 0.7 -0.4 0.7 -0.5 0.7 -0.6 0.7 -0.6 0.7 -0.6 0.7 -0.4 0.7 -0.2 0.7 0.1 0.7 0.4 0.7 0.6 0.7 0.8 0.7 0.9 0.7 0.9 0.7 0.9 0.7 0.9 0.7 0.9 0.7 0.9 0.7 0.8 0.7 0.7 0.7 0.5 0.7 0.3 0.7 0.1 0.7 -0.1 0.7 -0.4 0.7 -0.5 0.7 -0.6 0.7 -0.7 0.7 -0.7 0.7 -0.7 0.7 -0.6 0.7 -0.6 0.7 -0.5 0.7 -0.4 0.7 -0.3 0.7 -0.1 0.7 0.1 0.7 0.2M628.2 148.71l0.7 0 0.7 0 0.7 0 0.7 0.7 0.7 0.4 0.7 -0.1 0.7 -0.7 0.7 -0.9 0.7 -1 0.7 -0.9 0.7 -0.8 0.7 -0.7 0.7 -0.6 0.7 -0.5 0.7 -0.5 0.7 -0.5 0.7 -0.4 0.7 -0.2 0.7 0.2 0.7 0.6 0.7 0.9 0.7 1.1 0.7 1.2 0.7 1.1 0.7 0.9 0.7 0.7 0.7 0.5 0.7 0.4 0.7 0.3 0.7 0.2 0.7 0.1 0.7 -0.1 0.7 -0.2 0.7 -0.1 0.7 0.3 0.7 0.8 0.7 1.3 0.7 1.2 0.7 0.5 0.7 -0.6 0.7 -1.4 0.7 -1.6 0.7 -1.1 0.7 -0.2 0.7 0.6 0.7 1 0.7 1 0.7 0.6 0.7 0 0.7 -0.6 0.7 -1 0.7 -1.2 0.7 -1.2 0.7 -1 0.7 -0.7 0.7 -0.2 0.7 0.3 0.7 0.8 0.7 1.1 0.7 1.3 0.7 1.3 0.7 1 0.7 0.6 0.7 0 0.7 -0.5 0.7 -1 0.7 -1.3 0.7 -1.4 0.7 -1.3 0.7 -1.1 0.7 -0.8 0.7 -0.5M502 174.23l0.7 0 0.7 -0.2 0.7 -0.3 0.7 -0.4 0.7 -0.6 0.7 -0.9 0.7 0.4 0.7 1.2 0.7 -0.3 0.7 -2.1 0.7 -2.2 0.7 -0.6 0.7 1.1 0.7 1.7 0.7 1.1 0.7 0.5 0.7 0.2 0.7 -0.3 0.7 -0.8 0.7 -0.7 0.7 0 0.7 0.3 0.7 0 0.7 -0.1 0.7 1 0.7 2.7 0.7 2.9 0.7 1.5 0.7 0.1 0.7 -0.2 0.7 0.1 0.7 -0.5 0.7 -2 0.7 -3.1 0.7 -3.1 0.7 -2.1 0.7 -1 0.7 -0.2 0.7 0.7 0.7 1.7 0.7 2.3 0.7 2.1 0.7 1.3 0.7 0.3 0.7 0 0.7 0.3 0.7 0.1 0.7 -1 0.7 -2.3 0.7 -2.4 0.7 -0.9 0.7 1.2 0.7 2.7 0.7 2.7 0.7 1 0.7 -1.3 0.7 -2.6 0.7 -1.7 0.7 0 0.7 1 0.7 0.8 0.7 0.5 0.7 0.5 0.7 0.6 0.7 0.4 0.7 -0.2 0.7 -0.9 0.7 -1.1 0.7 -1.1 0.7 -1.2 0.7 -1.4 0.7 -0.8M565.3 173.15l0.7 0.2 0.7 0.1 0.7 -0.1 0.7 -0.3 0.7 -0.4 0.7 0 0.7 1.2 0.7 2 0.7 1.3 0.7 -0.9 0.7 -2.1 0.7 -2.5 0.7 -1.3 0.7 -0.2 0.7 0.3 0.7 1.5 0.7 3.5 0.7 4 0.7 2.1 0.7 -0.9 0.7 -3.1 0.7 -3.3 0.7 -1.6 0.7 0.1 0.7 0.5 0.7 0.2 0.7 0.3 0.7 0.8 0.7 0.7 0.7 -0.2 0.7 -0.7 0.7 -0.4 0.7 -0.5 0.7 -1.2 0.7 -1.5 0.7 -1.4 0.7 -1.5 0.7 -1.3 0.7 0 0.7 2.2 0.7 3.8 0.7 3.3 0.7 0.8 0.7 -1.2 0.7 -1.2 0.7 -0.4 0.7 -0.5 0.7 -0.8 0.7 -0.2 0.7 0.2 0.7 -0.5 0.7 -1.6 0.7 -1.5 0.7 0.1 0.7 2.7 0.7 4.8 0.7 4.8 0.7 1.2 0.7 -0.7 0.7 -4.7 0.7 -5.4 0.7 -4 0.7 -1.3 0.7 1.7 0.7 3.6 0.7 3.4 0.7 1.9 0.7 0.4 0.7 -0.4 0.7 -0.7 0.7 -0.5 0.7 -0.4M628.2 173.24l0.7 0 0.7 0 0.7 0 0.7 -0.2 0.7 -0.3 0.7 -0.1 0.7 0.3 0.7 0.5 0.7 0.2 0.7 -0.2 0.7 -0.3 0.7 -0.2 0.7 0 0.7 0.2 0.7 0.3 0.7 0.3 0.7 0.4 0.7 0.4 0.7 0.1 0.7 -0.5 0.7 -0.8 0.7 -0.6 0.7 -0.1 0.7 0.3 0.7 0.4 0.7 0.2 0.7 0.1 0.7 0.1 0.7 0.1 0.7 0.1 0.7 -0.1 0.7 -0.3 0.7 -0.2 0.7 0.2 0.7 0.6 0.7 0.6 0.7 0.4 0.7 0.1 0.7 -0.3 0.7 -0.8 0.7 -1.1 0.7 -1 0.7 -0.6 0.7 -0.1 0.7 0.1 0.7 0.4 0.7 0.8 0.7 1.1 0.7 0.9 0.7 0.1 0.7 -0.7 0.7 -1.1 0.7 -0.8 0.7 0.1 0.7 0.6 0.7 0.6 0.7 0.4 0.7 0.2 0.7 -0.3 0.7 -0.8 0.7 -1 0.7 -0.7 0.7 0 0.7 0.9 0.7 1.3 0.7 1.1 0.7 0.4 0.7 -0.1 0.7 -0.4 0.7 -0.5 0.7 -0.5 0.7 -0.4M502 199.42l0.7 -0.3 0.7 -0.4 0.7 -0.7 0.7 -1.3 0.7 -1.4 0.7 -0.3 0.7 -0.2 0.7 -3.3 0.7 -3.1 0.7 3.3 0.7 4 0.7 0.1 0.7 -1.2 0.7 -0.9 0.7 -0.6 0.7 -0.3 0.7 0.4 0.7 1.7 0.7 2.7 0.7 2.8 0.7 1.8 0.7 0.4 0.7 -0.8 0.7 -1 0.7 0.1 0.7 2 0.7 3.2 0.7 1.1 0.7 0 0.7 -0.7 0.7 -4.4 0.7 -4.7 0.7 -3.2 0.7 -0.5 0.7 2.5 0.7 3.9 0.7 3.1 0.7 0.8 0.7 -1 0.7 -1.2 0.7 -0.3 0.7 0.5 0.7 0.1 0.7 -1.6 0.7 -3.4 0.7 -3.7 0.7 -2.3 0.7 -0.2 0.7 1.3 0.7 1.4 0.7 0.7 0.7 0.2 0.7 0.4 0.7 0.9 0.7 1 0.7 0.6 0.7 0.2 0.7 0.4 0.7 1.1 0.7 1.5 0.7 1.4 0.7 0.7 0.7 0 0.7 -0.7 0.7 -1 0.7 -1 0.7 -1 0.7 -1 0.7 -1 0.7 -1 0.7 -0.8 0.7 -0.3M565.3 199.15l0.7 0.3 0.7 0.2 0.7 0.1 0.7 0.1 0.7 0.4 0.7 0.7 0.7 -0.2 0.7 -1.2 0.7 -0.7 0.7 2.4 0.7 5.9 0.7 3.6 0.7 -3.6 0.7 -6.5 0.7 -4.4 0.7 -2.1 0.7 -0.9 0.7 0 0.7 0.5 0.7 0.2 0.7 -0.5 0.7 -1 0.7 -1 0.7 -0.5 0.7 -0.1 0.7 0.1 0.7 0.5 0.7 1.5 0.7 2.7 0.7 3.4 0.7 3.2 0.7 2 0.7 0.4 0.7 -0.7 0.7 -1 0.7 -0.9 0.7 -0.5 0.7 -0.2 0.7 0 0.7 0.2 0.7 0.5 0.7 1.1 0.7 1.7 0.7 2.1 0.7 2 0.7 0.9 0.7 0 0.7 -1.8 0.7 -3.4 0.7 -4.4 0.7 -4.4 0.7 -3.4 0.7 -1.8 0.7 -0.2 0.7 0.9 0.7 1.3 0.7 1.4 0.7 1.3 0.7 1.3 0.7 1.4 0.7 1.3 0.7 1 0.7 0.6 0.7 0 0.7 -0.7 0.7 -1.4 0.7 -1.5 0.7 -0.8 0.7 0.5 0.7 1.5 0.7 1.6 0.7 1M628.2 198.62l0.7 -0.1 0.7 0 0.7 0 0.7 -0.1 0.7 -0.3 0.7 -0.6 0.7 -0.3 0.7 0.5 0.7 0.9 0.7 0.5 0.7 0 0.7 0.2 0.7 0.7 0.7 0.8 0.7 0.1 0.7 0 0.7 -0.5 0.7 -0.8 0.7 -0.9 0.7 -0.8 0.7 -0.6 0.7 -0.2 0.7 -0.1 0.7 -0.1 0.7 0.2 0.7 0.8 0.7 1 0.7 0.4 0.7 -0.5 0.7 -0.6 0.7 0.2 0.7 0.7 0.7 0.6 0.7 0.2 0.7 -0.2 0.7 -0.5 0.7 -0.6 0.7 -0.5 0.7 -0.1 0.7 0.4 0.7 0.7 0.7 0.5 0.7 -0.2 0.7 -0.7 0.7 -0.6 0.7 0.1 0.7 0.4 0.7 0.3 0.7 0 0.7 -0.3 0.7 -0.3 0.7 -0.2 0.7 0.1 0.7 0.4 0.7 0.2 0.7 -0.2 0.7 -0.3 0.7 0.1 0.7 0.4 0.7 0.4 0.7 0.1 0.7 -0.3 0.7 -0.5 0.7 -0.2 0.7 0.3 0.7 0.4 0.7 0 0.7 -0.2 0.7 -0.3 0.7 -0.3 0.7 -0.2 0.7 0.1M502 223.6l0.7 0.1 0.7 0.1 0.7 0 0.7 -0.1 0.7 0.1 0.7 0.5 0.7 0.8 0.7 0.9 0.7 0.5 0.7 0.3 0.7 0.6 0.7 0.6 0.7 0 0.7 -1 0.7 -1.8 0.7 -2.1 0.7 -1.4 0.7 -0.2 0.7 0.4 0.7 0.1 0.7 -0.5 0.7 -0.6 0.7 -0.1 0.7 0.9 0.7 1.6 0.7 1.3 0.7 0.2 0.7 -0.6 0.7 -0.4 0.7 0.4 0.7 0.7 0.7 0.2 0.7 -0.5 0.7 -0.5 0.7 0.2 0.7 1 0.7 1.4 0.7 1.1 0.7 0.4 0.7 -0.7 0.7 -1.7 0.7 -2.3 0.7 -2.3 0.7 -1.4 0.7 0 0.7 0.8 0.7 2.3 0.7 2.5 0.7 1.7 0.7 0.2 0.7 -1.1 0.7 -1.5 0.7 -0.8 0.7 0.2 0.7 0.5 0.7 0.4 0.7 0.2 0.7 -0.2 0.7 -0.7 0.7 -1 0.7 -0.6 0.7 0 0.7 0.1 0.7 -0.1 0.7 0 0.7 0.6 0.7 1.1 0.7 1.2 0.7 0.7 0.7 -0.2 0.7 -1.1 0.7 -1.5M565.3 224.34l0.7 -0.3 0.7 -0.3 0.7 -0.1 0.7 0 0.7 0 0.7 -0.1 0.7 0 0.7 0.1 0.7 0.2 0.7 0.5 0.7 0.1 0.7 -0.7 0.7 -1.1 0.7 -0.5 0.7 0 0.7 -0.1 0.7 -0.1 0.7 0.2 0.7 0.5 0.7 0.9 0.7 1.4 0.7 1.6 0.7 0.6 0.7 0 0.7 -0.8 0.7 -1.5 0.7 -1.2 0.7 -0.5 0.7 0.2 0.7 0.4 0.7 0.3 0.7 0.3 0.7 0.2 0.7 0 0.7 -0.4 0.7 -0.8 0.7 -0.7 0.7 0.1 0.7 0.9 0.7 0.7 0.7 -0.2 0.7 -1 0.7 -1.2 0.7 -0.8 0.7 0.2 0.7 1.2 0.7 1.7 0.7 1.5 0.7 0.7 0.7 -0.2 0.7 -0.7 0.7 -0.7 0.7 -0.5 0.7 -0.5 0.7 -0.9 0.7 -0.9 0.7 0 0.7 1.3 0.7 2 0.7 1.3 0.7 -0.2 0.7 -1.5 0.7 -2 0.7 -1.4 0.7 -0.5 0.7 0.3 0.7 0.6 0.7 0.6 0.7 0.4 0.7 0.4 0.7 0.8 0.7 0.9M628.2 223.71l0.7 0 0.7 0 0.7 0.1 0.7 0.3 0.7 0.8 0.7 0.9 0.7 0.2 0.7 -0.1 0.7 -0.8 0.7 -0.6 0.7 -0.3 0.7 -0.3 0.7 -0.5 0.7 -0.5 0.7 -0.3 0.7 0 0.7 0.4 0.7 0.8 0.7 0.7 0.7 0 0.7 -0.7 0.7 -0.8 0.7 -0.3 0.7 0.4 0.7 0.6 0.7 0.4 0.7 0 0.7 -0.3 0.7 -0.3 0.7 -0.1 0.7 0.3 0.7 0.5 0.7 0.4 0.7 0.1 0.7 -0.3 0.7 -0.6 0.7 -0.6 0.7 -0.2 0.7 0 0.7 0 0.7 0 0.7 0.3 0.7 0.5 0.7 0.4 0.7 0.2 0.7 0.3 0.7 0.6 0.7 0.6 0.7 0.1 0.7 -0.6 0.7 -1 0.7 -0.9 0.7 -0.4 0.7 0.1 0.7 0.5 0.7 0.7 0.7 0.5 0.7 0.2 0.7 -0.2 0.7 -0.7 0.7 -0.8 0.7 -0.2 0.7 0.4 0.7 0.6 0.7 0.3 0.7 -0.3 0.7 -0.6 0.7 -0.5 0.7 -0.1 0.7 0.3 0.7 0.6 0.7 0.5M502 249.4l0.7 0 0.7 -0.1 0.7 -0.1 0.7 -0.1 0.7 -0.1 0.7 0 0.7 0.1 0.7 0.2 0.7 -0.1 0.7 -0.3 0.7 -0.5 0.7 -0.4 0.7 0 0.7 0.5 0.7 0.7 0.7 0.4 0.7 0.2 0.7 0.2 0.7 0.1 0.7 -0.4 0.7 -1 0.7 -0.8 0.7 0.2 0.7 0.9 0.7 0.6 0.7 -0.2 0.7 -0.7 0.7 -0.5 0.7 0.2 0.7 0.8 0.7 1 0.7 0.4 0.7 -0.5 0.7 -0.9 0.7 -0.5 0.7 0.2 0.7 0.3 0.7 0 0.7 -0.2 0.7 -0.2 0.7 0 0.7 0.2 0.7 0.1 0.7 -0.6 0.7 -1 0.7 -0.7 0.7 0.1 0.7 0.7 0.7 1 0.7 1.1 0.7 0.7 0.7 0.1 0.7 -0.2 0.7 -0.1 0.7 0.2 0.7 0.2 0.7 -0.1 0.7 -0.4 0.7 -0.6 0.7 -0.2 0.7 0.2 0.7 0.3 0.7 -0.1 0.7 -0.4 0.7 -0.5 0.7 -0.3 0.7 0 0.7 0.2 0.7 0 0.7 -0.4 0.7 -0.8 0.7 -0.5M565.3 249.32l0.7 -0.1 0.7 -0.2 0.7 -0.2 0.7 -0.1 0.7 0.1 0.7 0.3 0.7 0.3 0.7 0.1 0.7 -0.1 0.7 0.1 0.7 0.6 0.7 0.9 0.7 -0.1 0.7 -1 0.7 -1 0.7 -0.3 0.7 0 0.7 -0.3 0.7 -0.1 0.7 0.5 0.7 0.9 0.7 0.6 0.7 -0.4 0.7 -1.1 0.7 -0.3 0.7 0.5 0.7 -0.1 0.7 -0.8 0.7 -0.8 0.7 -0.2 0.7 0 0.7 0.3 0.7 2.4 0.7 1.1 0.7 -0.7 0.7 -0.6 0.7 0.5 0.7 0.7 0.7 0.1 0.7 -0.3 0.7 -0.2 0.7 0 0.7 -0.3 0.7 -1 0.7 -1 0.7 0 0.7 0.7 0.7 0.5 0.7 0.3 0.7 0.2 0.7 0 0.7 -0.2 0.7 -0.2 0.7 -0.1 0.7 -0.1 0.7 -0.3 0.7 -0.3 0.7 -0.1 0.7 0.1 0.7 -0.4 0.7 -0.7 0.7 -0.4 0.7 0.2 0.7 0.5 0.7 0.6 0.7 0.6 0.7 0.4 0.7 0.4 0.7 0.5 0.7 0.2 0.7 -0.4 0.7 -0.7M628.2 249.16l0.7 0 0.7 0 0.7 0 0.7 0 0.7 0.1 0.7 0.2 0.7 0.3 0.7 0.4 0.7 0.1 0.7 -0.3 0.7 -0.5 0.7 -0.5 0.7 -0.2 0.7 0 0.7 0.1 0.7 0.2 0.7 0.1 0.7 -0.1 0.7 -0.1 0.7 0.2 0.7 0.5 0.7 0.4 0.7 0 0.7 -0.3 0.7 -0.3 0.7 -0.2 0.7 -0.1 0.7 -0.1 0.7 0.1 0.7 0.2 0.7 0.3 0.7 0.1 0.7 -0.1 0.7 -0.4 0.7 -0.5 0.7 -0.2 0.7 0.1 0.7 0.2 0.7 0.2 0.7 0.2 0.7 0.2 0.7 0.2 0.7 0.2 0.7 0.2 0.7 0.2 0.7 0 0.7 -0.3 0.7 -0.5 0.7 -0.6 0.7 -0.5 0.7 0 0.7 0.4 0.7 0.7 0.7 0.7 0.7 0.2 0.7 -0.3 0.7 -0.6 0.7 -0.6 0.7 -0.2 0.7 0.2 0.7 0.5 0.7 0.4 0.7 0.2 0.7 -0.1 0.7 -0.1 0.7 -0.2 0.7 -0.2 0.7 0 0.7 0.2 0.7 0.3 0.7 0.2 0.7 0.2M502 274.8l0.7 -0.1 0.7 -0.1 0.7 -0.2 0.7 -0.4 0.7 -0.8 0.7 -0.7 0.7 -0.7 0.7 -1.2 0.7 -3.8 0.7 -4.2 0.7 2.3 0.7 6 0.7 4.5 0.7 3.8 0.7 3.1 0.7 1.8 0.7 0.4 0.7 -1 0.7 -1.9 0.7 -2.1 0.7 -2.1 0.7 -2.2 0.7 -2.4 0.7 -2.1 0.7 -1.1 0.7 0.3 0.7 1.4 0.7 1.8 0.7 1.3 0.7 0.1 0.7 -0.9 0.7 -1.1 0.7 -0.4 0.7 0.4 0.7 1 0.7 1.3 0.7 1.3 0.7 1 0.7 0 0.7 -1.4 0.7 -2.6 0.7 -2.8 0.7 -2.2 0.7 -1.3 0.7 -0.4 0.7 0.7 0.7 2.2 0.7 3.8 0.7 4.6 0.7 4.2 0.7 2.5 0.7 0.1 0.7 -2.4 0.7 -4 0.7 -4.3 0.7 -3.7 0.7 -2.9 0.7 -1.8 0.7 -0.4 0.7 1.4 0.7 3.1 0.7 3.6 0.7 2.9 0.7 1.3 0.7 -0.2 0.7 -1.2 0.7 -1.2 0.7 -0.3 0.7 1 0.7 1.9 0.7 2.1 0.7 1.9M565.3 274.74l0.7 0.1 0.7 0 0.7 -0.1 0.7 0 0.7 -0.3 0.7 -0.2 0.7 0.3 0.7 0.5 0.7 0.1 0.7 -0.4 0.7 -0.7 0.7 -0.8 0.7 -0.5 0.7 -0.2 0.7 0.4 0.7 1 0.7 1.3 0.7 0.9 0.7 0.2 0.7 -0.4 0.7 -0.5 0.7 -0.4 0.7 -0.2 0.7 -0.3 0.7 -0.7 0.7 -1.3 0.7 -1.7 0.7 -0.8 0.7 0 0.7 1.4 0.7 2.2 0.7 1.7 0.7 0.7 0.7 -0.1 0.7 -0.3 0.7 0 0.7 0.1 0.7 -0.2 0.7 -0.8 0.7 -1.2 0.7 -1.3 0.7 -1.1 0.7 -0.7 0.7 0 0.7 1 0.7 1.8 0.7 1.9 0.7 1.2 0.7 0.5 0.7 -0.1 0.7 -0.5 0.7 -0.6 0.7 -0.6 0.7 -0.4 0.7 -0.3 0.7 -0.2 0.7 -0.1 0.7 0.3 0.7 0.9 0.7 1.3 0.7 1.2 0.7 0.4 0.7 -0.7 0.7 -1.7 0.7 -2.1 0.7 -1.6 0.7 -0.7 0.7 0.2 0.7 0.9 0.7 1.2 0.7 1 0.7 0.3M628.2 274.27l0.7 0 0.7 0.1 0.7 0.2 0.7 0.1 0.7 0 0.7 0 0.7 0 0.7 -0.1 0.7 -0.2 0.7 -0.1 0.7 0 0.7 0 0.7 -0.2 0.7 -0.3 0.7 -0.3 0.7 -0.1 0.7 0.2 0.7 0.5 0.7 0.6 0.7 0.4 0.7 0.1 0.7 -0.1 0.7 0 0.7 0.1 0.7 -0.1 0.7 -0.5 0.7 -0.7 0.7 -0.5 0.7 -0.2 0.7 0 0.7 0 0.7 0.1 0.7 0.3 0.7 0.4 0.7 0.2 0.7 0 0.7 0.1 0.7 0.2 0.7 0.2 0.7 -0.1 0.7 -0.3 0.7 -0.4 0.7 -0.3 0.7 -0.1 0.7 0.1 0.7 0.4 0.7 0.6 0.7 0.6 0.7 0.4 0.7 0 0.7 -0.2 0.7 -0.3 0.7 -0.2 0.7 -0.1 0.7 -0.2 0.7 -0.5 0.7 -0.8 0.7 -0.6 0.7 0.2 0.7 1 0.7 1.2 0.7 0.7 0.7 0 0.7 -0.6 0.7 -0.9 0.7 -0.7 0.7 -0.3 0.7 0.1 0.7 0.3 0.7 0.2 0.7 0.1 0.7 0M502 300.11l0.7 0 0.7 0 0.7 -0.3 0.7 -1.1 0.7 -1.8 0.7 -1.5 0.7 0.1 0.7 1.2 0.7 1 0.7 0.2 0.7 0.1 0.7 0.9 0.7 1.9 0.7 2.3 0.7 1.8 0.7 0.4 0.7 0 0.7 -0.8 0.7 -1.7 0.7 -2.2 0.7 -2.3 0.7 -1.8 0.7 -0.8 0.7 0.3 0.7 1.2 0.7 1.7 0.7 1.4 0.7 0.7 0.7 -0.1 0.7 -0.7 0.7 -1 0.7 -0.9 0.7 -0.5 0.7 0.2 0.7 0.6 0.7 0.6 0.7 0.2 0.7 -0.1 0.7 0.2 0.7 0.8 0.7 1.2 0.7 1.1 0.7 0.5 0.7 -0.5 0.7 -1.2 0.7 -1.1 0.7 -0.5 0.7 -0.1 0.7 -0.4 0.7 -1.1 0.7 -1.7 0.7 -1.2 0.7 0.4 0.7 2.4 0.7 3.2 0.7 2.2 0.7 0.2 0.7 -1.5 0.7 -2.1 0.7 -1.4 0.7 -0.1 0.7 0.7 0.7 0.7 0.7 0.1 0.7 -0.6 0.7 -0.6 0.7 0.1 0.7 0.7 0.7 0.4 0.7 -0.5 0.7 -1 0.7 -0.6M565.3 299.36l0.7 0.1 0.7 0 0.7 -0.6 0.7 -1.2 0.7 -1.4 0.7 -0.5 0.7 1.2 0.7 2.7 0.7 2.7 0.7 1.5 0.7 0.3 0.7 -0.2 0.7 0.2 0.7 0.6 0.7 0.4 0.7 -0.4 0.7 -1.4 0.7 -2.3 0.7 -2.6 0.7 -2.2 0.7 -1 0.7 0.5 0.7 2 0.7 2.8 0.7 2.4 0.7 0.9 0.7 -1.1 0.7 -2.7 0.7 -2.7 0.7 -0.7 0.7 1.8 0.7 3 0.7 1.7 0.7 -1.3 0.7 -3.2 0.7 -2.4 0.7 0.4 0.7 2.8 0.7 3.3 0.7 2.4 0.7 0.9 0.7 -0.6 0.7 -2.2 0.7 -3.6 0.7 -3.7 0.7 -2.3 0.7 -0.3 0.7 0.7 0.7 0.6 0.7 0.2 0.7 0.8 0.7 2.8 0.7 4.5 0.7 4.1 0.7 0.6 0.7 -0.1 0.7 -3.3 0.7 -3.5 0.7 -2.1 0.7 -0.9 0.7 -0.6 0.7 -0.6 0.7 0 0.7 1.2 0.7 1.9 0.7 1.6 0.7 0.5 0.7 -0.6 0.7 -1.2 0.7 -0.7 0.7 0.1 0.7 0.3M628.2 299.85l0.7 -0.1 0.7 -0.1 0.7 0.1 0.7 0.3 0.7 1.4 0.7 2.6 0.7 2 0.7 -1.2 0.7 -4.6 0.7 -5 0.7 -1.5 0.7 3.2 0.7 5.3 0.7 3.4 0.7 -0.5 0.7 -3 0.7 -2.1 0.7 0 0.7 0.3 0.7 -1.2 0.7 -2.3 0.7 -1.1 0.7 1.2 0.7 2.4 0.7 1.8 0.7 0.3 0.7 -1 0.7 -1.3 0.7 -1.6 0.7 -2.4 0.7 -2.2 0.7 0.5 0.7 3.2 0.7 2.9 0.7 0.6 0.7 -1.2 0.7 -2.3 0.7 -2.5 0.7 -0.7 0.7 2.8 0.7 5.3 0.7 4.7 0.7 1.9 0.7 -0.6 0.7 -2 0.7 -3.5 0.7 -5 0.7 -4.4 0.7 -0.5 0.7 3.7 0.7 4.6 0.7 2.5 0.7 0.3 0.7 -0.7 0.7 -0.6 0.7 0.2 0.7 0.9 0.7 0.4 0.7 -1.1 0.7 -2.5 0.7 -3.2 0.7 -2.8 0.7 -0.9 0.7 2.3 0.7 4.6 0.7 4.4 0.7 1.6 0.7 -1.4 0.7 -3.3 0.7 -4 0.7 -4 0.7 -2.5M502 324.25l0.7 0.3 0.7 0.5 0.7 0.8 0.7 1 0.7 -0.1 0.7 -2.3 0.7 -3.1 0.7 -0.6 0.7 2.8 0.7 3.9 0.7 2.1 0.7 -0.4 0.7 -1.7 0.7 -1.4 0.7 -0.4 0.7 0.3 0.7 0.5 0.7 0.5 0.7 0.1 0.7 -0.9 0.7 -2.3 0.7 -2.7 0.7 -1.3 0.7 0.8 0.7 2 0.7 1.6 0.7 0.7 0.7 0.5 0.7 1.8 0.7 3.4 0.7 2.5 0.7 0 0.7 -0.7 0.7 -4.5 0.7 -3.9 0.7 -1.1 0.7 1.4 0.7 1.6 0.7 -0.1 0.7 -1.7 0.7 -1.9 0.7 -0.7 0.7 0.3 0.7 0.1 0.7 -0.9 0.7 -0.9 0.7 0.9 0.7 3.2 0.7 4 0.7 2.9 0.7 1 0.7 -0.6 0.7 -1.9 0.7 -3.4 0.7 -4.2 0.7 -2.9 0.7 0.3 0.7 3.4 0.7 4.4 0.7 3.1 0.7 0.4 0.7 -2.3 0.7 -3.4 0.7 -2 0.7 0.7 0.7 2.3 0.7 1.5 0.7 -1.1 0.7 -3 0.7 -2.2 0.7 0.4 0.7 1.4M565.3 324.64l0.7 0.3 0.7 0.4 0.7 0.2 0.7 0 0.7 0.1 0.7 0.3 0.7 0.4 0.7 0 0.7 -0.7 0.7 -1.4 0.7 -0.9 0.7 1.3 0.7 3.4 0.7 2.9 0.7 -0.2 0.7 -3.7 0.7 -5.1 0.7 -4.1 0.7 -1.7 0.7 0 0.7 0.6 0.7 2.3 0.7 3.3 0.7 3.2 0.7 1.8 0.7 -0.2 0.7 -1.3 0.7 -0.9 0.7 0.6 0.7 1.6 0.7 1.6 0.7 1 0.7 0.3 0.7 -0.5 0.7 -1.5 0.7 -2.3 0.7 -2.6 0.7 -2.5 0.7 -1.5 0.7 0.4 0.7 2.5 0.7 3.5 0.7 2.4 0.7 -0.3 0.7 -3.1 0.7 -3.8 0.7 -2.2 0.7 0.1 0.7 1.6 0.7 2.4 0.7 3.2 0.7 3.5 0.7 2.2 0.7 0 0.7 -1.8 0.7 -2.1 0.7 -1.3 0.7 -0.2 0.7 0.5 0.7 0.2 0.7 -0.9 0.7 -2.1 0.7 -2.3 0.7 -1.1 0.7 0.7 0.7 1.9 0.7 2.1 0.7 1.7 0.7 1.4 0.7 0.9 0.7 -0.1 0.7 -0.7M628.2 324.81l0.7 -0.1 0.7 0.1 0.7 0.5 0.7 0.8 0.7 1.1 0.7 0.9 0.7 -0.2 0.7 -1.6 0.7 -2 0.7 -1.6 0.7 -1.3 0.7 -1.4 0.7 -1.4 0.7 -1 0.7 -0.3 0.7 0.5 0.7 1.7 0.7 3.4 0.7 4.6 0.7 4 0.7 1.5 0.7 -1.8 0.7 -4 0.7 -4.3 0.7 -2.7 0.7 -0.5 0.7 0.9 0.7 1.2 0.7 0.9 0.7 0.9 0.7 0.8 0.7 0.3 0.7 -0.1 0.7 0.6 0.7 2.2 0.7 3.4 0.7 2.8 0.7 0.1 0.7 -1.5 0.7 -3.7 0.7 -3.7 0.7 -2.6 0.7 -1.9 0.7 -1.7 0.7 -0.8 0.7 1.3 0.7 3.1 0.7 3.4 0.7 2.3 0.7 1.2 0.7 0.5 0.7 -0.2 0.7 -1.2 0.7 -2.1 0.7 -2.2 0.7 -1.4 0.7 0 0.7 1.9 0.7 3.5 0.7 3.4 0.7 1.6 0.7 -0.1 0.7 -1.1 0.7 -1.9 0.7 -3.2 0.7 -4 0.7 -3.4 0.7 -1.9 0.7 -0.1 0.7 1.2 0.7 1.7 0.7 1.1M502 351.42l0.7 -0.9 0.7 -1.1 0.7 -0.5 0.7 0.6 0.7 1.8 0.7 2.3 0.7 1.7 0.7 -0.4 0.7 -2 0.7 -2 0.7 -1.5 0.7 -1.3 0.7 0.5 0.7 2.8 0.7 2.6 0.7 -0.7 0.7 -3.9 0.7 -3.7 0.7 -0.2 0.7 2.8 0.7 2.8 0.7 0 0.7 -3 0.7 -4 0.7 -2.2 0.7 0.9 0.7 3.8 0.7 5.2 0.7 4.8 0.7 2.7 0.7 -0.7 0.7 -4 0.7 -4.2 0.7 -1.1 0.7 2.4 0.7 3.1 0.7 1.1 0.7 -1.5 0.7 -3.2 0.7 -3.4 0.7 -1.8 0.7 1.2 0.7 3.4 0.7 3.1 0.7 0.6 0.7 -2 0.7 -3.3 0.7 -2.7 0.7 -0.4 0.7 2.4 0.7 3.7 0.7 2.6 0.7 -0.1 0.7 -2.2 0.7 -2.4 0.7 -0.8 0.7 0.9 0.7 1.6 0.7 1.2 0.7 0.2 0.7 -1.3 0.7 -2.3 0.7 -1.6 0.7 0.5 0.7 2 0.7 1.9 0.7 0.7 0.7 -0.7 0.7 -2.1 0.7 -2.6 0.7 -1.7 0.7 -0.2M565.3 350.69l0.7 0 0.7 -0.1 0.7 -0.2 0.7 -0.2 0.7 -0.1 0.7 0.1 0.7 0.3 0.7 1.2 0.7 1.8 0.7 0.8 0.7 -1.4 0.7 -2.4 0.7 -1.9 0.7 -0.4 0.7 0.9 0.7 1.1 0.7 0.2 0.7 -1.1 0.7 -1.7 0.7 -1.2 0.7 0.1 0.7 1.6 0.7 2.3 0.7 1.8 0.7 0.3 0.7 -1 0.7 -1.2 0.7 -0.4 0.7 0.8 0.7 1.6 0.7 1.3 0.7 0 0.7 -1.4 0.7 -2.1 0.7 -1.6 0.7 -0.5 0.7 0.4 0.7 0.8 0.7 0.9 0.7 0.9 0.7 0.7 0.7 0.3 0.7 0 0.7 -0.1 0.7 0.2 0.7 0.5 0.7 0.3 0.7 -0.4 0.7 -1.5 0.7 -2.2 0.7 -1.6 0.7 0.1 0.7 1.8 0.7 2.6 0.7 2.2 0.7 1 0.7 -0.4 0.7 -1.5 0.7 -1.7 0.7 -0.8 0.7 0.7 0.7 1.3 0.7 0.4 0.7 -1.3 0.7 -2.1 0.7 -1.7 0.7 -0.5 0.7 0.6 0.7 1.2 0.7 1.1 0.7 0.5 0.7 0M628.2 350.47l0.7 -0.1 0.7 -0.1 0.7 0 0.7 0.2 0.7 0.3 0.7 0.3 0.7 -0.1 0.7 -0.4 0.7 -0.2 0.7 0.3 0.7 0.7 0.7 0.5 0.7 -0.1 0.7 -0.7 0.7 -0.7 0.7 -0.2 0.7 0.4 0.7 0.7 0.7 0.4 0.7 -0.6 0.7 -1.4 0.7 -1.2 0.7 0 0.7 1 0.7 1.2 0.7 0.6 0.7 -0.3 0.7 -1.1 0.7 -1 0.7 0.1 0.7 1.2 0.7 1.4 0.7 0.6 0.7 -0.5 0.7 -0.9 0.7 -0.5 0.7 0.2 0.7 0.6 0.7 0.3 0.7 -0.5 0.7 -1 0.7 -0.7 0.7 0.1 0.7 1 0.7 0.9 0.7 -0.4 0.7 -1.7 0.7 -0.9 0.7 0 0.7 1 0.7 1.7 0.7 0.8 0.7 -0.2 0.7 -0.6 0.7 -0.4 0.7 -0.2 0.7 0 0.7 0.1 0.7 0 0.7 -0.3 0.7 -0.5 0.7 -0.1 0.7 0.5 0.7 0.8 0.7 0.5 0.7 -0.2 0.7 -0.8 0.7 -0.6 0.7 0.2 0.7 1 0.7 1 0.7 0.4"/>
<path fill="none" stroke="#000" stroke-width="0.8" d="M502 362.7H552.5M502 362.7V368.6M506.21 362.7V365.6M510.42 362.7V368.6M514.62 362.7V365.6M518.83 362.7V368.6M523.04 362.7V365.6M527.25 362.7V368.6M531.46 362.7V365.6M535.67 362.7V368.6M539.88 362.7V365.6M544.08 362.7V368.6M548.29 362.7V365.6M552.5 362.7V368.6M565.3 362.7H615.8M565.3 362.7V368.6M569.51 362.7V365.6M573.72 362.7V368.6M577.92 362.7V365.6M582.13 362.7V368.6M586.34 362.7V365.6M590.55 362.7V368.6M594.76 362.7V365.6M598.97 362.7V368.6M603.17 362.7V365.6M607.38 362.7V368.6M611.59 362.7V365.6M615.8 362.7V368.6M628.2 362.7H678.7M628.2 362.7V368.6M632.41 362.7V365.6M636.62 362.7V368.6M640.83 362.7V365.6M645.03 362.7V368.6M649.24 362.7V365.6M653.45 362.7V368.6M657.66 362.7V365.6M661.87 362.7V368.6M666.08 362.7V365.6M670.28 362.7V368.6M674.49 362.7V365.6M678.7 362.7V368.6"/><text x="502" y="377.6" font-size="6.9" text-anchor="middle" >0</text><text x="510.42" y="377.6" font-size="6.9" text-anchor="middle" >2</text><text x="518.83" y="377.6" font-size="6.9" text-anchor="middle" >4</text><text x="527.25" y="377.6" font-size="6.9" text-anchor="middle" >6</text><text x="535.67" y="377.6" font-size="6.9" text-anchor="middle" >8</text><text x="544.08" y="377.6" font-size="6.9" text-anchor="middle" >10</text><text x="552.5" y="377.6" font-size="6.9" text-anchor="middle" >12</text><text x="527.25" y="389.6" font-size="8.8" text-anchor="middle" textLength="31.4" lengthAdjust="spacingAndGlyphs" >Time (s)</text><text x="565.3" y="377.6" font-size="6.9" text-anchor="middle" >0</text><text x="573.72" y="377.6" font-size="6.9" text-anchor="middle" >2</text><text x="582.13" y="377.6" font-size="6.9" text-anchor="middle" >4</text><text x="590.55" y="377.6" font-size="6.9" text-anchor="middle" >6</text><text x="598.97" y="377.6" font-size="6.9" text-anchor="middle" >8</text><text x="607.38" y="377.6" font-size="6.9" text-anchor="middle" >10</text><text x="615.8" y="377.6" font-size="6.9" text-anchor="middle" >12</text><text x="590.55" y="389.6" font-size="8.8" text-anchor="middle" textLength="31.4" lengthAdjust="spacingAndGlyphs" >Time (s)</text><text x="628.2" y="377.6" font-size="6.9" text-anchor="middle" >0</text><text x="636.62" y="377.6" font-size="6.9" text-anchor="middle" >2</text><text x="645.03" y="377.6" font-size="6.9" text-anchor="middle" >4</text><text x="653.45" y="377.6" font-size="6.9" text-anchor="middle" >6</text><text x="661.87" y="377.6" font-size="6.9" text-anchor="middle" >8</text><text x="670.28" y="377.6" font-size="6.9" text-anchor="middle" >10</text><text x="678.7" y="377.6" font-size="6.9" text-anchor="middle" >12</text><text x="653.45" y="389.6" font-size="8.8" text-anchor="middle" textLength="31.4" lengthAdjust="spacingAndGlyphs" >Time (s)</text>
<text x="462.8" y="13.6" font-size="17" font-weight="bold" >d</text><text x="526.6" y="32.5" font-size="8.6" text-anchor="middle" textLength="13.2" lengthAdjust="spacingAndGlyphs" >EW</text><text x="590.6" y="30.8" font-size="8.6" text-anchor="middle" textLength="11.5" lengthAdjust="spacingAndGlyphs" >NS</text><text x="654.1" y="30.5" font-size="8.6" text-anchor="middle" textLength="12.2" lengthAdjust="spacingAndGlyphs" >UD</text><text x="497.6" y="50.1" font-size="9" text-anchor="end" >TMC</text><text x="553.1" y="37.7" font-size="7.6" text-anchor="end" >2.84</text><text x="616.4" y="37.7" font-size="7.6" text-anchor="end" >3.02</text><text x="679.3" y="37.7" font-size="7.6" text-anchor="end" >2.56</text><text x="497.6" y="75.4" font-size="9" text-anchor="end" >KMMH16</text><text x="553.1" y="63" font-size="7.6" text-anchor="end" >16.13</text><text x="616.4" y="63" font-size="7.6" text-anchor="end" >13.64</text><text x="679.3" y="63" font-size="7.6" text-anchor="end" >5.46</text><text x="497.6" y="100.7" font-size="9" text-anchor="end" >KMM005</text><text x="553.1" y="88.3" font-size="7.6" text-anchor="end" >8.16</text><text x="616.4" y="88.3" font-size="7.6" text-anchor="end" >12.00</text><text x="679.3" y="88.3" font-size="7.6" text-anchor="end" >2.96</text><text x="497.6" y="126" font-size="9" text-anchor="end" >KMMH03</text><text x="553.1" y="113.6" font-size="7.6" text-anchor="end" >2.97</text><text x="616.4" y="113.6" font-size="7.6" text-anchor="end" >1.29</text><text x="679.3" y="113.6" font-size="7.6" text-anchor="end" >1.27</text><text x="497.6" y="151.3" font-size="9" text-anchor="end" >KMMH01</text><text x="553.1" y="138.9" font-size="7.6" text-anchor="end" >0.68</text><text x="616.4" y="138.9" font-size="7.6" text-anchor="end" >0.86</text><text x="679.3" y="138.9" font-size="7.6" text-anchor="end" >1.09</text><text x="497.6" y="176.6" font-size="9" text-anchor="end" >KMM003</text><text x="553.1" y="164.2" font-size="7.6" text-anchor="end" >3.52</text><text x="616.4" y="164.2" font-size="7.6" text-anchor="end" >3.68</text><text x="679.3" y="164.2" font-size="7.6" text-anchor="end" >1.64</text><text x="497.6" y="201.9" font-size="9" text-anchor="end" >KMM018</text><text x="553.1" y="189.5" font-size="7.6" text-anchor="end" >0.98</text><text x="616.4" y="189.5" font-size="7.6" text-anchor="end" >0.84</text><text x="679.3" y="189.5" font-size="7.6" text-anchor="end" >0.61</text><text x="497.6" y="227.2" font-size="9" text-anchor="end" >KMM012</text><text x="553.1" y="214.8" font-size="7.6" text-anchor="end" >7.62</text><text x="616.4" y="214.8" font-size="7.6" text-anchor="end" >8.83</text><text x="679.3" y="214.8" font-size="7.6" text-anchor="end" >2.45</text><text x="497.6" y="252.5" font-size="9" text-anchor="end" >KMM013</text><text x="553.1" y="240.1" font-size="7.6" text-anchor="end" >1.83</text><text x="616.4" y="240.1" font-size="7.6" text-anchor="end" >4.07</text><text x="679.3" y="240.1" font-size="7.6" text-anchor="end" >1.55</text><text x="497.6" y="277.8" font-size="9" text-anchor="end" >KMMH11</text><text x="553.1" y="265.4" font-size="7.6" text-anchor="end" >1.18</text><text x="616.4" y="265.4" font-size="7.6" text-anchor="end" >0.96</text><text x="679.3" y="265.4" font-size="7.6" text-anchor="end" >1.02</text><text x="497.6" y="303.1" font-size="9" text-anchor="end" >KMM014</text><text x="553.1" y="290.7" font-size="7.6" text-anchor="end" >0.88</text><text x="616.4" y="290.7" font-size="7.6" text-anchor="end" >1.24</text><text x="679.3" y="290.7" font-size="7.6" text-anchor="end" >0.97</text><text x="497.6" y="328.4" font-size="9" text-anchor="end" >KMMH09</text><text x="553.1" y="316" font-size="7.6" text-anchor="end" >1.19</text><text x="616.4" y="316" font-size="7.6" text-anchor="end" >1.52</text><text x="679.3" y="316" font-size="7.6" text-anchor="end" >1.46</text><text x="497.6" y="353.7" font-size="9" text-anchor="end" >KMMH14</text><text x="553.1" y="341.3" font-size="7.6" text-anchor="end" >5.89</text><text x="616.4" y="341.3" font-size="7.6" text-anchor="end" >7.01</text><text x="679.3" y="341.3" font-size="7.6" text-anchor="end" >4.63</text><path d="M624.4 6.4H654.1" stroke="#000" stroke-width="1.3"/><path d="M624.4 14.5H654.1" stroke="#f00" stroke-width="1.3"/><text x="658.6" y="9.9" font-size="9" textLength="17.6" lengthAdjust="spacingAndGlyphs" >Obs.</text><text x="658.6" y="17" font-size="9" textLength="16.8" lengthAdjust="spacingAndGlyphs" >Syn.</text>
</svg></div></body></html>
